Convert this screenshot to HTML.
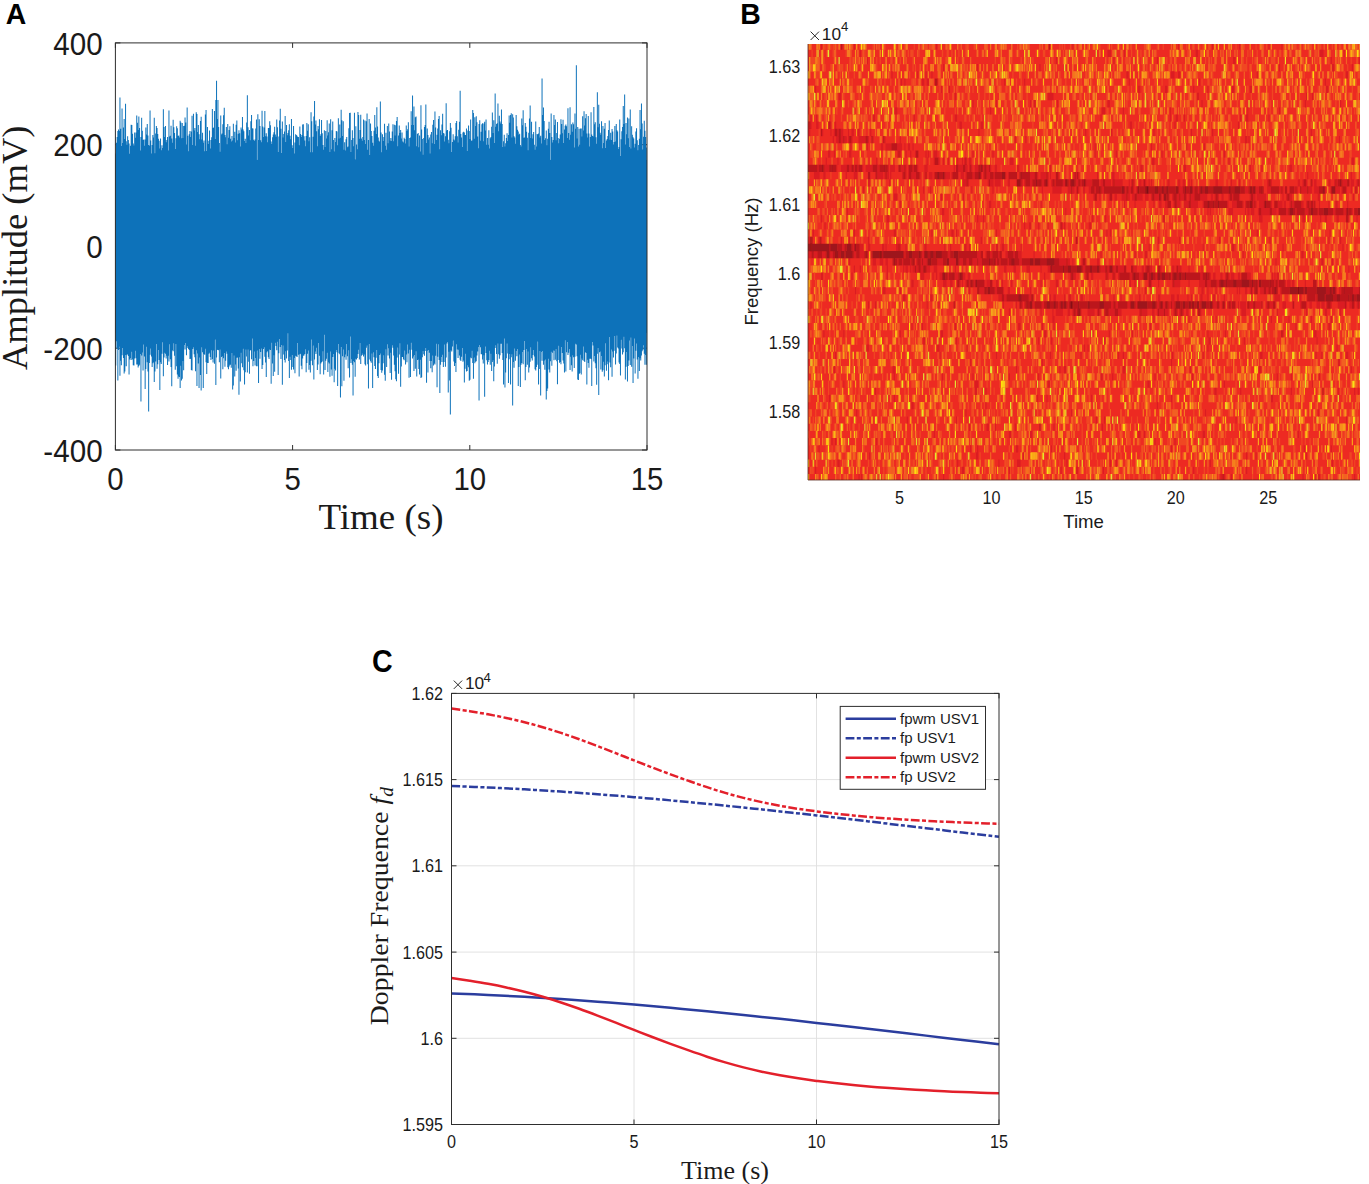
<!DOCTYPE html><html><head><meta charset="utf-8"><title>Figure</title>
<style>html,body{margin:0;padding:0;background:#fff}body{width:1369px;height:1184px;overflow:hidden}svg{display:block}text{font-family:"Liberation Sans",sans-serif;fill:#1a1a1a}.se{font-family:"Liberation Serif",serif}.b{font-weight:bold;fill:#000}</style></head><body>
<svg width="1369" height="1184" viewBox="0 0 1369 1184">
<rect width="1369" height="1184" fill="#fff"/>
<g id="pA">
<text class="b" transform="translate(5.8 24) scale(1 1.07)" font-size="28.4">A</text>
<path d="M115.4 450.0v-5M115.4 42.9v5M292.6 450.0v-5M292.6 42.9v5M469.8 450.0v-5M469.8 42.9v5M647.0 450.0v-5M647.0 42.9v5M115.4 42.9h5M647.0 42.9h-5M115.4 144.7h5M647.0 144.7h-5M115.4 246.5h5M647.0 246.5h-5M115.4 348.2h5M647.0 348.2h-5M115.4 450.0h5M647.0 450.0h-5" stroke="#2e2e2e" stroke-width="1" fill="none"/>
<rect x="115.4" y="159.9" width="531.6" height="173.0" fill="#0d72ba"/>
<path d="M115.25 153.5h1V365.6h-1zM115.95 142.8h1V341.2h-1zM116.65 137.0h1V348.3h-1zM117.35 131.1h1V380.6h-1zM118.05 129.4h1V349.9h-1zM118.75 131.0h1V346.8h-1zM119.45 97.6h1V375.7h-1zM120.15 128.7h1V360.8h-1zM120.85 146.0h1V365.2h-1zM121.55 108.6h1V355.3h-1zM122.25 143.0h1V348.0h-1zM122.95 127.6h1V358.1h-1zM123.65 118.9h1V373.6h-1zM124.35 139.1h1V371.5h-1zM125.05 103.7h1V355.0h-1zM125.75 141.2h1V366.2h-1zM126.45 144.8h1V354.7h-1zM127.15 136.3h1V354.3h-1zM127.85 139.9h1V355.9h-1zM128.55 143.4h1V374.5h-1zM129.25 153.8h1V359.6h-1zM129.95 145.7h1V358.0h-1zM130.65 124.8h1V360.1h-1zM131.35 125.1h1V351.7h-1zM132.05 133.8h1V359.6h-1zM132.75 143.5h1V365.2h-1zM133.45 145.4h1V365.5h-1zM134.15 132.4h1V358.4h-1zM134.85 137.7h1V350.7h-1zM135.55 132.6h1V358.3h-1zM136.25 115.4h1V364.6h-1zM136.95 122.8h1V364.6h-1zM137.65 130.0h1V367.4h-1zM138.35 116.4h1V366.1h-1zM139.05 128.0h1V364.7h-1zM139.75 150.4h1V354.1h-1zM140.45 137.1h1V401.6h-1zM141.15 117.8h1V355.4h-1zM141.85 130.7h1V352.6h-1zM142.55 140.0h1V370.6h-1zM143.25 139.6h1V344.6h-1zM143.95 145.8h1V356.4h-1zM144.65 139.6h1V389.0h-1zM145.35 127.4h1V369.0h-1zM146.05 134.4h1V346.8h-1zM146.75 124.1h1V362.2h-1zM147.45 135.6h1V371.5h-1zM148.15 145.0h1V411.4h-1zM148.85 145.8h1V363.1h-1zM149.55 110.6h1V354.8h-1zM150.25 140.4h1V348.6h-1zM150.95 153.6h1V356.5h-1zM151.65 144.9h1V367.1h-1zM152.35 135.1h1V363.2h-1zM153.05 137.6h1V362.2h-1zM153.75 117.7h1V382.0h-1zM154.45 153.2h1V371.4h-1zM155.15 133.6h1V361.5h-1zM155.85 126.0h1V343.9h-1zM156.55 128.0h1V368.7h-1zM157.25 133.9h1V364.3h-1zM157.95 138.7h1V350.1h-1zM158.65 140.8h1V360.1h-1zM159.35 148.6h1V390.0h-1zM160.05 138.4h1V362.3h-1zM160.75 150.2h1V364.1h-1zM161.45 145.3h1V353.8h-1zM162.15 148.1h1V342.2h-1zM162.85 109.2h1V376.2h-1zM163.55 127.0h1V357.6h-1zM164.25 136.9h1V352.7h-1zM164.95 125.9h1V353.8h-1zM165.65 142.3h1V358.4h-1zM166.35 139.9h1V355.8h-1zM167.05 137.0h1V365.0h-1zM167.75 150.6h1V355.8h-1zM168.45 110.4h1V361.5h-1zM169.15 136.6h1V344.2h-1zM169.85 135.8h1V359.3h-1zM170.55 125.8h1V367.1h-1zM171.25 138.4h1V386.3h-1zM171.95 142.8h1V350.3h-1zM172.65 119.8h1V351.3h-1zM173.35 127.3h1V343.2h-1zM174.05 133.0h1V355.8h-1zM174.75 149.1h1V369.7h-1zM175.45 138.3h1V343.9h-1zM176.15 126.2h1V366.2h-1zM176.85 128.3h1V374.6h-1zM177.55 136.0h1V378.7h-1zM178.25 135.4h1V376.4h-1zM178.95 137.6h1V377.1h-1zM179.65 120.8h1V387.9h-1zM180.35 122.5h1V365.7h-1zM181.05 138.3h1V380.4h-1zM181.75 123.1h1V378.8h-1zM182.45 138.1h1V360.9h-1zM183.15 126.0h1V370.2h-1zM183.85 125.8h1V345.1h-1zM184.55 117.5h1V349.6h-1zM185.25 122.5h1V343.1h-1zM185.95 144.5h1V355.3h-1zM186.65 107.4h1V346.3h-1zM187.35 135.7h1V348.0h-1zM188.05 151.3h1V348.9h-1zM188.75 134.3h1V350.1h-1zM189.45 130.9h1V359.1h-1zM190.15 136.9h1V358.7h-1zM190.85 131.4h1V370.0h-1zM191.55 115.8h1V370.4h-1zM192.25 145.1h1V349.1h-1zM192.95 113.7h1V347.2h-1zM193.65 130.5h1V354.3h-1zM194.35 128.0h1V357.2h-1zM195.05 145.8h1V371.2h-1zM195.75 112.2h1V350.3h-1zM196.45 114.1h1V385.9h-1zM197.15 132.0h1V353.4h-1zM197.85 125.0h1V363.5h-1zM198.55 134.2h1V388.0h-1zM199.25 139.2h1V357.4h-1zM199.95 121.0h1V375.0h-1zM200.65 116.7h1V390.6h-1zM201.35 139.6h1V347.3h-1zM202.05 132.7h1V352.3h-1zM202.75 142.7h1V388.1h-1zM203.45 140.4h1V353.9h-1zM204.15 151.2h1V354.7h-1zM204.85 114.4h1V348.8h-1zM205.55 109.9h1V362.2h-1zM206.25 151.1h1V373.9h-1zM206.95 127.0h1V363.0h-1zM207.65 143.9h1V363.0h-1zM208.35 140.8h1V353.7h-1zM209.05 130.6h1V352.8h-1zM209.75 148.5h1V357.0h-1zM210.45 139.9h1V359.9h-1zM211.15 137.3h1V350.2h-1zM211.85 109.1h1V359.1h-1zM212.55 128.0h1V362.6h-1zM213.25 127.4h1V350.4h-1zM213.95 111.1h1V363.7h-1zM214.65 138.9h1V339.6h-1zM215.35 100.1h1V384.9h-1zM216.05 80.7h1V357.5h-1zM216.75 118.9h1V349.7h-1zM217.45 100.0h1V349.9h-1zM218.15 126.9h1V350.2h-1zM218.85 143.1h1V362.2h-1zM219.55 151.8h1V349.4h-1zM220.25 115.6h1V378.5h-1zM220.95 134.5h1V356.9h-1zM221.65 133.6h1V356.2h-1zM222.35 124.2h1V369.2h-1zM223.05 115.2h1V358.3h-1zM223.75 107.7h1V353.1h-1zM224.45 134.9h1V366.8h-1zM225.15 137.3h1V360.8h-1zM225.85 127.0h1V351.5h-1zM226.55 144.2h1V353.7h-1zM227.25 123.9h1V367.2h-1zM227.95 137.7h1V369.2h-1zM228.65 129.9h1V366.5h-1zM229.35 126.2h1V364.8h-1zM230.05 138.7h1V364.7h-1zM230.75 141.5h1V367.7h-1zM231.45 135.9h1V352.9h-1zM232.15 140.4h1V389.4h-1zM232.85 123.7h1V385.4h-1zM233.55 137.9h1V355.6h-1zM234.25 131.8h1V376.4h-1zM234.95 142.6h1V364.4h-1zM235.65 124.8h1V370.7h-1zM236.35 120.5h1V357.8h-1zM237.05 140.3h1V357.6h-1zM237.75 133.7h1V368.6h-1zM238.45 130.2h1V394.7h-1zM239.15 133.2h1V357.3h-1zM239.85 146.5h1V381.4h-1zM240.55 127.5h1V352.8h-1zM241.25 129.4h1V363.2h-1zM241.95 117.0h1V367.3h-1zM242.65 129.6h1V348.7h-1zM243.35 131.3h1V370.2h-1zM244.05 141.1h1V384.4h-1zM244.75 138.8h1V372.2h-1zM245.45 142.9h1V349.5h-1zM246.15 122.4h1V356.6h-1zM246.85 95.2h1V372.5h-1zM247.55 127.2h1V349.4h-1zM248.25 135.4h1V361.7h-1zM248.95 129.9h1V373.7h-1zM249.65 140.2h1V350.4h-1zM250.35 121.2h1V350.0h-1zM251.05 115.1h1V359.3h-1zM251.75 128.3h1V338.5h-1zM252.45 128.4h1V366.3h-1zM253.15 139.8h1V361.1h-1zM253.85 141.1h1V351.6h-1zM254.55 139.4h1V365.5h-1zM255.25 128.5h1V357.9h-1zM255.95 119.6h1V366.3h-1zM256.65 160.0h1V350.5h-1zM257.35 114.3h1V366.3h-1zM258.05 140.0h1V383.0h-1zM258.75 119.3h1V348.9h-1zM259.45 126.1h1V358.7h-1zM260.15 140.2h1V352.0h-1zM260.85 142.2h1V348.4h-1zM261.55 110.8h1V369.0h-1zM262.25 126.6h1V365.0h-1zM262.95 137.0h1V349.1h-1zM263.65 127.5h1V347.3h-1zM264.35 111.1h1V356.7h-1zM265.05 136.3h1V362.6h-1zM265.75 133.2h1V376.9h-1zM266.45 136.4h1V352.3h-1zM267.15 142.3h1V351.1h-1zM267.85 127.9h1V357.3h-1zM268.55 128.1h1V359.1h-1zM269.25 121.3h1V349.5h-1zM269.95 125.2h1V350.0h-1zM270.65 141.6h1V383.7h-1zM271.35 144.1h1V342.8h-1zM272.05 137.3h1V363.4h-1zM272.75 134.5h1V375.9h-1zM273.45 132.2h1V355.3h-1zM274.15 126.7h1V371.7h-1zM274.85 134.5h1V342.7h-1zM275.55 136.8h1V345.9h-1zM276.25 119.5h1V350.2h-1zM276.95 127.2h1V341.7h-1zM277.65 151.9h1V374.9h-1zM278.35 136.6h1V353.3h-1zM279.05 120.5h1V338.9h-1zM279.75 108.8h1V347.1h-1zM280.45 128.8h1V359.1h-1zM281.15 153.0h1V345.1h-1zM281.85 121.5h1V384.8h-1zM282.55 137.4h1V345.4h-1zM283.25 133.9h1V354.6h-1zM283.95 131.5h1V359.9h-1zM284.65 115.9h1V362.6h-1zM285.35 142.1h1V351.2h-1zM286.05 125.0h1V358.6h-1zM286.75 135.2h1V350.5h-1zM287.45 133.0h1V333.3h-1zM288.15 130.3h1V360.9h-1zM288.85 124.2h1V377.9h-1zM289.55 135.7h1V356.7h-1zM290.25 139.2h1V360.0h-1zM290.95 119.0h1V369.8h-1zM291.65 145.3h1V354.9h-1zM292.35 148.0h1V366.9h-1zM293.05 125.9h1V369.6h-1zM293.75 153.6h1V358.0h-1zM294.45 142.6h1V373.2h-1zM295.15 134.2h1V355.8h-1zM295.85 135.0h1V356.2h-1zM296.55 135.8h1V357.0h-1zM297.25 136.9h1V342.9h-1zM297.95 136.9h1V354.8h-1zM298.65 145.3h1V376.4h-1zM299.35 126.6h1V354.2h-1zM300.05 134.1h1V353.8h-1zM300.75 137.1h1V365.8h-1zM301.45 135.1h1V369.3h-1zM302.15 124.4h1V358.5h-1zM302.85 124.3h1V355.8h-1zM303.55 136.3h1V355.5h-1zM304.25 140.4h1V353.9h-1zM304.95 146.3h1V349.2h-1zM305.65 136.1h1V372.3h-1zM306.35 123.0h1V362.9h-1zM307.05 130.7h1V353.8h-1zM307.75 124.2h1V350.6h-1zM308.45 141.3h1V369.7h-1zM309.15 137.2h1V365.0h-1zM309.85 152.3h1V372.6h-1zM310.55 112.2h1V360.7h-1zM311.25 121.3h1V339.4h-1zM311.95 152.2h1V365.2h-1zM312.65 136.8h1V345.5h-1zM313.35 116.5h1V379.5h-1zM314.05 101.1h1V359.5h-1zM314.75 124.4h1V351.4h-1zM315.45 120.6h1V353.9h-1zM316.15 131.2h1V347.8h-1zM316.85 146.2h1V370.0h-1zM317.55 126.1h1V364.5h-1zM318.25 129.3h1V342.9h-1zM318.95 119.3h1V355.8h-1zM319.65 136.0h1V374.2h-1zM320.35 134.2h1V363.6h-1zM321.05 119.9h1V362.3h-1zM321.75 133.3h1V361.5h-1zM322.45 145.0h1V351.3h-1zM323.15 149.7h1V374.4h-1zM323.85 130.2h1V334.7h-1zM324.55 146.9h1V369.9h-1zM325.25 130.9h1V360.8h-1zM325.95 138.6h1V358.7h-1zM326.65 120.3h1V352.7h-1zM327.35 135.6h1V372.0h-1zM328.05 132.3h1V362.3h-1zM328.75 123.4h1V363.5h-1zM329.45 152.0h1V376.7h-1zM330.15 119.2h1V351.6h-1zM330.85 149.2h1V369.4h-1zM331.55 130.2h1V375.8h-1zM332.25 121.4h1V357.1h-1zM332.95 140.0h1V354.1h-1zM333.65 151.5h1V382.3h-1zM334.35 138.1h1V368.8h-1zM335.05 142.0h1V370.6h-1zM335.75 131.0h1V350.1h-1zM336.45 131.4h1V352.2h-1zM337.15 145.3h1V386.0h-1zM337.85 118.3h1V343.9h-1zM338.55 138.5h1V353.2h-1zM339.25 124.4h1V354.2h-1zM339.95 137.8h1V397.5h-1zM340.65 109.8h1V346.9h-1zM341.35 120.3h1V386.3h-1zM342.05 136.1h1V356.3h-1zM342.75 121.2h1V349.6h-1zM343.45 149.8h1V380.8h-1zM344.15 142.3h1V357.3h-1zM344.85 150.6h1V354.5h-1zM345.55 139.3h1V359.8h-1zM346.25 137.1h1V344.1h-1zM346.95 147.3h1V356.2h-1zM347.65 146.4h1V368.3h-1zM348.35 128.2h1V350.2h-1zM349.05 112.9h1V377.6h-1zM349.75 112.7h1V336.6h-1zM350.45 151.9h1V363.0h-1zM351.15 140.0h1V359.3h-1zM351.85 130.2h1V364.7h-1zM352.55 138.0h1V395.5h-1zM353.25 146.2h1V361.1h-1zM353.95 112.7h1V362.2h-1zM354.65 159.5h1V376.8h-1zM355.35 126.2h1V358.7h-1zM356.05 144.5h1V359.5h-1zM356.75 149.3h1V357.9h-1zM357.45 111.9h1V354.0h-1zM358.15 115.0h1V349.8h-1zM358.85 138.7h1V359.4h-1zM359.55 129.9h1V343.1h-1zM360.25 114.8h1V363.9h-1zM360.95 138.4h1V355.8h-1zM361.65 140.7h1V355.1h-1zM362.35 136.9h1V353.4h-1zM363.05 119.6h1V356.6h-1zM363.75 140.0h1V354.5h-1zM364.45 120.4h1V364.2h-1zM365.15 144.1h1V365.5h-1zM365.85 121.3h1V347.8h-1zM366.55 113.6h1V345.6h-1zM367.25 149.7h1V364.2h-1zM367.95 139.9h1V388.4h-1zM368.65 119.1h1V344.1h-1zM369.35 155.0h1V359.5h-1zM370.05 123.4h1V361.2h-1zM370.75 130.9h1V362.7h-1zM371.45 136.0h1V353.4h-1zM372.15 142.7h1V388.0h-1zM372.85 145.7h1V352.3h-1zM373.55 130.8h1V357.2h-1zM374.25 115.1h1V366.0h-1zM374.95 127.6h1V369.0h-1zM375.65 134.0h1V357.8h-1zM376.35 107.2h1V350.1h-1zM377.05 126.4h1V375.9h-1zM377.75 137.6h1V377.9h-1zM378.45 140.7h1V363.2h-1zM379.15 141.7h1V354.9h-1zM379.85 101.4h1V353.5h-1zM380.55 132.4h1V370.0h-1zM381.25 152.3h1V372.8h-1zM381.95 134.2h1V370.6h-1zM382.65 140.9h1V363.2h-1zM383.35 136.9h1V355.2h-1zM384.05 123.8h1V374.7h-1zM384.75 145.8h1V380.8h-1zM385.45 132.7h1V349.2h-1zM386.15 149.8h1V366.9h-1zM386.85 125.9h1V344.3h-1zM387.55 143.2h1V355.4h-1zM388.25 123.6h1V348.3h-1zM388.95 131.6h1V358.6h-1zM389.65 140.7h1V373.1h-1zM390.35 138.0h1V352.7h-1zM391.05 141.1h1V379.8h-1zM391.75 131.6h1V345.2h-1zM392.45 124.2h1V347.7h-1zM393.15 141.3h1V355.5h-1zM393.85 124.8h1V364.8h-1zM394.55 135.5h1V371.3h-1zM395.25 125.3h1V379.2h-1zM395.95 121.0h1V381.2h-1zM396.65 116.9h1V357.4h-1zM397.35 146.2h1V347.4h-1zM398.05 135.5h1V373.8h-1zM398.75 125.5h1V354.6h-1zM399.45 133.1h1V343.3h-1zM400.15 130.0h1V386.7h-1zM400.85 138.4h1V366.4h-1zM401.55 132.6h1V356.9h-1zM402.25 141.4h1V357.0h-1zM402.95 142.5h1V359.2h-1zM403.65 137.7h1V360.3h-1zM404.35 139.0h1V350.4h-1zM405.05 143.4h1V364.4h-1zM405.75 125.5h1V354.6h-1zM406.45 130.9h1V362.3h-1zM407.15 129.3h1V344.4h-1zM407.85 122.3h1V353.5h-1zM408.55 146.4h1V377.7h-1zM409.25 138.0h1V349.8h-1zM409.95 137.4h1V377.1h-1zM410.65 111.3h1V342.7h-1zM411.35 125.1h1V349.8h-1zM412.05 95.5h1V358.4h-1zM412.75 124.9h1V356.4h-1zM413.45 106.4h1V370.9h-1zM414.15 130.3h1V354.9h-1zM414.85 117.3h1V368.8h-1zM415.55 116.6h1V351.2h-1zM416.25 146.3h1V376.5h-1zM416.95 134.1h1V360.1h-1zM417.65 133.0h1V359.6h-1zM418.35 147.3h1V369.0h-1zM419.05 135.4h1V374.5h-1zM419.75 151.6h1V359.7h-1zM420.45 105.2h1V378.1h-1zM421.15 129.6h1V377.2h-1zM421.85 139.1h1V357.3h-1zM422.55 154.8h1V351.1h-1zM423.25 137.9h1V354.2h-1zM423.95 127.0h1V355.7h-1zM424.65 124.9h1V351.1h-1zM425.35 104.6h1V348.1h-1zM426.05 142.9h1V382.8h-1zM426.75 128.5h1V350.8h-1zM427.45 135.0h1V372.6h-1zM428.15 139.5h1V349.9h-1zM428.85 137.5h1V352.7h-1zM429.55 153.4h1V360.9h-1zM430.25 134.6h1V368.2h-1zM430.95 132.1h1V361.0h-1zM431.65 143.3h1V372.3h-1zM432.35 124.7h1V355.4h-1zM433.05 120.1h1V365.6h-1zM433.75 143.9h1V363.6h-1zM434.45 111.5h1V364.4h-1zM435.15 127.4h1V355.7h-1zM435.85 140.1h1V343.7h-1zM436.55 134.7h1V387.3h-1zM437.25 128.5h1V356.8h-1zM437.95 119.1h1V344.3h-1zM438.65 116.1h1V360.1h-1zM439.35 149.2h1V393.1h-1zM440.05 130.3h1V364.7h-1zM440.75 135.3h1V357.1h-1zM441.45 124.4h1V361.9h-1zM442.15 113.7h1V354.7h-1zM442.85 133.1h1V367.0h-1zM443.55 133.4h1V362.0h-1zM444.25 141.6h1V344.5h-1zM444.95 136.3h1V366.7h-1zM445.65 103.3h1V357.5h-1zM446.35 130.6h1V343.4h-1zM447.05 130.1h1V342.1h-1zM447.75 139.8h1V392.5h-1zM448.45 143.2h1V351.7h-1zM449.15 131.2h1V380.6h-1zM449.85 123.1h1V414.5h-1zM450.55 127.7h1V350.3h-1zM451.25 151.9h1V351.6h-1zM451.95 142.0h1V346.5h-1zM452.65 134.2h1V340.4h-1zM453.35 139.4h1V361.6h-1zM454.05 140.5h1V365.9h-1zM454.75 136.3h1V363.0h-1zM455.45 122.9h1V372.0h-1zM456.15 121.0h1V344.2h-1zM456.85 136.3h1V349.5h-1zM457.55 142.5h1V357.9h-1zM458.25 129.7h1V349.8h-1zM458.95 121.8h1V355.5h-1zM459.65 90.7h1V359.7h-1zM460.35 133.9h1V361.1h-1zM461.05 137.6h1V356.8h-1zM461.75 146.9h1V348.1h-1zM462.45 132.4h1V361.7h-1zM463.15 131.7h1V360.4h-1zM463.85 132.5h1V382.6h-1zM464.55 134.9h1V368.8h-1zM465.25 135.1h1V353.7h-1zM465.95 128.6h1V371.6h-1zM466.65 151.1h1V371.1h-1zM467.35 130.4h1V365.2h-1zM468.05 125.6h1V367.2h-1zM468.75 130.9h1V380.7h-1zM469.45 139.0h1V379.8h-1zM470.15 119.5h1V357.6h-1zM470.85 140.8h1V358.3h-1zM471.55 140.5h1V350.8h-1zM472.25 109.9h1V362.9h-1zM472.95 113.1h1V378.7h-1zM473.65 138.8h1V357.4h-1zM474.35 117.3h1V363.2h-1zM475.05 126.0h1V361.8h-1zM475.75 116.3h1V361.3h-1zM476.45 122.3h1V355.5h-1zM477.15 136.5h1V351.6h-1zM477.85 148.3h1V347.1h-1zM478.55 124.1h1V400.5h-1zM479.25 120.3h1V345.0h-1zM479.95 140.8h1V347.3h-1zM480.65 131.8h1V354.3h-1zM481.35 124.2h1V354.2h-1zM482.05 123.2h1V359.6h-1zM482.75 141.3h1V363.4h-1zM483.45 123.5h1V355.3h-1zM484.15 121.7h1V396.8h-1zM484.85 130.6h1V346.5h-1zM485.55 119.6h1V353.0h-1zM486.25 144.8h1V360.2h-1zM486.95 138.0h1V364.4h-1zM487.65 144.7h1V361.9h-1zM488.35 130.2h1V360.0h-1zM489.05 148.5h1V350.7h-1zM489.75 138.2h1V364.7h-1zM490.45 137.0h1V353.8h-1zM491.15 126.7h1V371.0h-1zM491.85 112.4h1V362.1h-1zM492.55 133.1h1V360.3h-1zM493.25 120.3h1V381.3h-1zM493.95 143.1h1V366.6h-1zM494.65 93.5h1V348.0h-1zM495.35 126.7h1V345.2h-1zM496.05 123.9h1V353.9h-1zM496.75 123.2h1V363.7h-1zM497.45 103.4h1V343.4h-1zM498.15 131.2h1V354.3h-1zM498.85 115.7h1V358.7h-1zM499.55 121.5h1V355.2h-1zM500.25 123.6h1V343.8h-1zM500.95 109.6h1V343.7h-1zM501.65 123.9h1V352.9h-1zM502.35 146.9h1V359.9h-1zM503.05 141.3h1V384.5h-1zM503.75 134.7h1V338.5h-1zM504.45 146.6h1V387.4h-1zM505.15 143.3h1V372.4h-1zM505.85 137.9h1V358.3h-1zM506.55 133.3h1V343.6h-1zM507.25 140.9h1V353.5h-1zM507.95 135.1h1V382.9h-1zM508.65 115.5h1V359.3h-1zM509.35 122.8h1V354.1h-1zM510.05 115.1h1V384.5h-1zM510.75 113.2h1V357.2h-1zM511.45 137.5h1V354.3h-1zM512.15 114.2h1V405.6h-1zM512.85 117.6h1V361.9h-1zM513.55 136.2h1V367.7h-1zM514.25 137.5h1V348.4h-1zM514.95 143.7h1V360.7h-1zM515.65 115.0h1V351.0h-1zM516.35 126.3h1V356.3h-1zM517.05 129.7h1V349.0h-1zM517.75 131.5h1V385.9h-1zM518.45 134.7h1V367.1h-1zM519.15 133.8h1V354.6h-1zM519.85 145.0h1V387.1h-1zM520.55 146.6h1V364.8h-1zM521.25 118.5h1V362.9h-1zM521.95 125.2h1V352.0h-1zM522.65 110.3h1V364.3h-1zM523.35 137.7h1V350.0h-1zM524.05 137.5h1V341.1h-1zM524.75 122.9h1V380.3h-1zM525.45 126.7h1V366.9h-1zM526.15 131.8h1V349.0h-1zM526.85 137.7h1V364.7h-1zM527.55 150.2h1V351.5h-1zM528.25 132.7h1V372.5h-1zM528.95 118.6h1V367.6h-1zM529.65 105.5h1V361.8h-1zM530.35 138.1h1V347.2h-1zM531.05 121.8h1V358.3h-1zM531.75 138.6h1V360.5h-1zM532.45 134.2h1V355.1h-1zM533.15 131.9h1V349.9h-1zM533.85 144.7h1V356.4h-1zM534.55 149.8h1V369.3h-1zM535.25 121.5h1V370.5h-1zM535.95 146.5h1V367.0h-1zM536.65 133.9h1V364.7h-1zM537.35 134.4h1V341.6h-1zM538.05 133.4h1V384.4h-1zM538.75 127.0h1V369.0h-1zM539.45 137.4h1V351.1h-1zM540.15 135.8h1V395.5h-1zM540.85 143.4h1V352.1h-1zM541.55 78.5h1V360.7h-1zM542.25 114.9h1V351.0h-1zM542.95 107.4h1V364.7h-1zM543.65 121.0h1V360.5h-1zM544.35 140.0h1V369.8h-1zM545.05 138.2h1V359.5h-1zM545.75 130.6h1V399.4h-1zM546.45 145.2h1V391.0h-1zM547.15 138.8h1V388.4h-1zM547.85 128.8h1V358.7h-1zM548.55 121.8h1V369.6h-1zM549.25 132.9h1V372.6h-1zM549.95 165.1h1V361.3h-1zM550.65 113.5h1V351.7h-1zM551.35 137.1h1V365.8h-1zM552.05 142.4h1V352.8h-1zM552.75 140.1h1V350.4h-1zM553.45 115.1h1V360.3h-1zM554.15 125.0h1V350.7h-1zM554.85 119.5h1V359.8h-1zM555.55 140.3h1V349.1h-1zM556.25 133.1h1V361.2h-1zM556.95 121.9h1V384.3h-1zM557.65 138.0h1V360.1h-1zM558.35 143.2h1V345.7h-1zM559.05 138.7h1V362.7h-1zM559.75 134.4h1V362.0h-1zM560.45 119.2h1V364.3h-1zM561.15 124.1h1V347.0h-1zM561.85 133.2h1V353.0h-1zM562.55 119.8h1V360.6h-1zM563.25 143.1h1V363.5h-1zM563.95 129.6h1V372.6h-1zM564.65 125.7h1V340.3h-1zM565.35 124.6h1V371.4h-1zM566.05 126.3h1V352.3h-1zM566.75 138.1h1V342.1h-1zM567.45 108.2h1V355.1h-1zM568.15 133.0h1V352.8h-1zM568.85 139.7h1V348.9h-1zM569.55 107.2h1V370.1h-1zM570.25 134.8h1V356.8h-1zM570.95 124.2h1V365.3h-1zM571.65 131.7h1V371.5h-1zM572.35 122.6h1V355.2h-1zM573.05 124.3h1V357.3h-1zM573.75 147.6h1V368.0h-1zM574.45 113.4h1V356.7h-1zM575.15 128.8h1V343.8h-1zM575.85 65.2h1V344.5h-1zM576.55 138.5h1V356.3h-1zM577.25 126.9h1V379.5h-1zM577.95 146.4h1V380.1h-1zM578.65 128.7h1V374.1h-1zM579.35 144.7h1V373.0h-1zM580.05 128.5h1V354.7h-1zM580.75 128.6h1V374.6h-1zM581.45 136.6h1V358.4h-1zM582.15 116.3h1V360.3h-1zM582.85 130.5h1V346.4h-1zM583.55 111.3h1V361.0h-1zM584.25 125.6h1V361.9h-1zM584.95 118.2h1V352.1h-1zM585.65 114.1h1V353.1h-1zM586.35 133.6h1V384.5h-1zM587.05 137.5h1V359.7h-1zM587.75 115.9h1V363.0h-1zM588.45 133.5h1V367.8h-1zM589.15 146.4h1V358.7h-1zM589.85 136.9h1V358.5h-1zM590.55 112.3h1V359.1h-1zM591.25 134.6h1V386.1h-1zM591.95 136.0h1V342.1h-1zM592.65 136.5h1V345.5h-1zM593.35 106.9h1V361.6h-1zM594.05 124.2h1V356.1h-1zM594.75 122.2h1V363.3h-1zM595.45 137.2h1V368.2h-1zM596.15 143.8h1V384.7h-1zM596.85 92.3h1V353.8h-1zM597.55 127.2h1V347.9h-1zM598.25 104.8h1V395.1h-1zM598.95 123.8h1V352.2h-1zM599.65 132.8h1V351.5h-1zM600.35 134.8h1V369.5h-1zM601.05 121.3h1V356.0h-1zM601.75 148.2h1V371.8h-1zM602.45 126.1h1V370.2h-1zM603.15 142.9h1V361.8h-1zM603.85 128.7h1V376.4h-1zM604.55 123.0h1V365.2h-1zM605.25 148.0h1V343.2h-1zM605.95 140.5h1V370.8h-1zM606.65 138.9h1V364.3h-1zM607.35 136.0h1V361.5h-1zM608.05 129.9h1V380.3h-1zM608.75 120.5h1V336.9h-1zM609.45 139.8h1V362.6h-1zM610.15 132.7h1V367.2h-1zM610.85 139.9h1V349.5h-1zM611.55 129.1h1V376.8h-1zM612.25 131.5h1V351.4h-1zM612.95 144.5h1V357.5h-1zM613.65 142.1h1V350.7h-1zM614.35 126.0h1V335.9h-1zM615.05 141.6h1V364.5h-1zM615.75 123.9h1V353.4h-1zM616.45 130.3h1V335.5h-1zM617.15 131.5h1V347.5h-1zM617.85 149.0h1V348.5h-1zM618.55 147.0h1V362.5h-1zM619.25 119.4h1V364.0h-1zM619.95 156.1h1V375.6h-1zM620.65 139.3h1V339.7h-1zM621.35 131.2h1V348.4h-1zM622.05 126.9h1V354.4h-1zM622.75 106.1h1V352.3h-1zM623.45 124.1h1V336.8h-1zM624.15 94.6h1V348.3h-1zM624.85 144.4h1V379.4h-1zM625.55 123.1h1V366.7h-1zM626.25 134.2h1V351.9h-1zM626.95 117.6h1V381.5h-1zM627.65 138.3h1V366.0h-1zM628.35 118.4h1V360.5h-1zM629.05 147.0h1V340.4h-1zM629.75 109.4h1V364.9h-1zM630.45 148.4h1V337.6h-1zM631.15 126.2h1V366.8h-1zM631.85 134.7h1V346.0h-1zM632.55 137.2h1V383.1h-1zM633.25 138.4h1V358.5h-1zM633.95 147.5h1V338.5h-1zM634.65 143.7h1V373.6h-1zM635.35 131.4h1V350.8h-1zM636.05 128.2h1V343.4h-1zM636.75 140.2h1V359.4h-1zM637.45 150.2h1V378.8h-1zM638.15 144.9h1V356.9h-1zM638.85 138.8h1V371.0h-1zM639.55 109.9h1V358.2h-1zM640.25 129.2h1V360.6h-1zM640.95 103.6h1V355.6h-1zM641.65 123.4h1V351.3h-1zM642.35 149.5h1V349.8h-1zM643.05 136.7h1V345.2h-1zM643.75 120.7h1V353.7h-1zM644.45 130.8h1V364.8h-1zM645.15 136.9h1V355.1h-1zM645.85 147.4h1V364.8h-1z" fill="#0d72ba"/>
<rect x="115.4" y="42.9" width="531.6" height="407.1" fill="none" stroke="#2e2e2e" stroke-width="1"/>
<text transform="translate(102.6 54.6) scale(1 1.060)" font-size="29.6" text-anchor="end">400</text>
<text transform="translate(102.6 156.4) scale(1 1.060)" font-size="29.6" text-anchor="end">200</text>
<text transform="translate(102.6 258.2) scale(1 1.060)" font-size="29.6" text-anchor="end">0</text>
<text transform="translate(102.6 359.9) scale(1 1.060)" font-size="29.6" text-anchor="end">-200</text>
<text transform="translate(102.6 461.7) scale(1 1.060)" font-size="29.6" text-anchor="end">-400</text>
<text transform="translate(115.4 490.4) scale(1 1.070)" font-size="29.4" text-anchor="middle">0</text>
<text transform="translate(292.6 490.4) scale(1 1.070)" font-size="29.4" text-anchor="middle">5</text>
<text transform="translate(469.8 490.4) scale(1 1.070)" font-size="29.4" text-anchor="middle">10</text>
<text transform="translate(647.0 490.4) scale(1 1.070)" font-size="29.4" text-anchor="middle">15</text>
<text class="se" x="381" y="529" font-size="35.5" text-anchor="middle" textLength="125" lengthAdjust="spacingAndGlyphs">Time (s)</text>
<text class="se" transform="translate(27 247.8) rotate(-90)" font-size="35.5" text-anchor="middle" textLength="244.5" lengthAdjust="spacingAndGlyphs">Amplitude (mV)</text>
</g>
<g id="pB">
<text class="b" transform="translate(740.3 24) scale(1 1.07)" font-size="28.4">B</text>
<rect x="808.00" y="44.00" width="552.00" height="436.00" fill="rgb(237,44,36)"/>
<clipPath id="cb"><rect x="808.00" y="44.00" width="552.00" height="436.00"/></clipPath>
<filter id="bl" x="0" y="0" width="1" height="1"><feGaussianBlur stdDeviation="0.55 0.4"/></filter><g clip-path="url(#cb)"><g filter="url(#bl)"><rect x="805.00" y="41.00" width="558.00" height="442.00" fill="rgb(237,44,36)"/><g transform="translate(808.00 42.60) scale(1.17447 7.19000)" stroke-width="1.02" fill="none">
<path stroke="rgb(225,232,50)" d="M8 1.5h1m8 0h1m169 0h1m34 0h1m22 0h1m15 0h1m165 0h1m21 0h1M26 2.5h1m275 0h1M205 3.5h1m12 0h1m112 0h1M18 4.5h2m117 0h1m94 0h1m120 0h1M134 5.5h1m22 0h1m207 0h1M155 6.5h1m83 0h1m81 0h1M5 7.5h1m89 0h1m102 0h1m2 0h1m85 0h1m25 0h1m122 0h1M176 8.5h1m62 0h1m47 0h1m10 0h1m76 0h1M38 9.5h1m64 0h1m75 0h1m94 0h1M150 10.5h1m219 0h1M153 11.5h1m97 0h1m48 0h1M194 12.5h1m140 0h1m61 0h2m18 0h1M173 13.5h1m224 0h1M20 14.5h1m94 0h1m87 0h1M174 15.5h1m82 0h1m58 0h1m131 0h1M201 16.5h1M343 17.5h1M279 18.5h1m15 0h1M40 20.5h1m20 0h1m7 0h1m46 0h1m29 0h1M5 21.5h1m88 0h1m68 0h1m55 0h1M45 22.5h1M97 23.5h1M54 24.5h1m237 0h1m125 0h1M209 25.5h1m56 0h1M45 26.5h1m203 0h1M99 27.5h1m17 0h1m39 0h1m122 0h1M248 28.5h1m35 0h1m150 0h1M436 29.5h1M251 30.5h1M27 31.5h2m329 0h1m46 0h1M2 32.5h1m409 0h1M280 33.5h1M122 34.5h1m9 0h1m160 0h2M120 35.5h1M136 37.5h1m6 0h1m221 0h1m41 0h1M12 38.5h1m37 0h1m42 0h1m137 0h1m120 0h1M106 39.5h1m33 0h1m205 0h1m43 0h1M146 40.5h1m44 0h1m19 0h1m29 0h1m124 0h1M110 41.5h1m10 0h1m169 0h1m15 0h1M48 42.5h1m238 0h1m167 0h1M49 43.5h1m52 0h1m342 0h1M2 44.5h1m10 0h1M87 45.5h1m22 0h1m44 0h2m69 0h2m43 0h1m138 0h1M98 46.5h1m2 0h1m64 0h1m222 0h1m1 0h2m30 0h1m45 0h1M125 47.5h1m69 0h1m76 0h1m63 0h1m30 0h1m55 0h1m21 0h1M4 48.5h1m144 0h1m17 0h1m38 0h1m175 0h1M67 49.5h1m152 0h1m214 0h1m15 0h1M24 50.5h1m147 0h1m70 0h1m26 0h1m85 0h1m21 0h1M97 51.5h1m75 0h1m18 0h1m26 0h1m80 0h1M18 52.5h1m54 0h1m26 0h1m36 0h1m121 0h1m3 0h1m81 0h1m72 0h1m14 0h1M28 53.5h1m19 0h1m118 0h1m145 0h1m45 0h1M75 54.5h1M34 55.5h1m57 0h1m8 0h1m38 0h1m88 0h1m29 0h1m72 0h1m77 0h1M54 56.5h1m299 0h1M6 57.5h1m69 0h1m31 0h1m27 0h1m63 0h1m112 0h1m75 0h1m6 0h1M34 58.5h1M403 59.5h1M58 60.5h1m2 0h1m127 0h1m68 0h1m56 0h1m88 0h1"/>
<path stroke="rgb(235,230,38)" d="M277 2.5h1m7 0h1m43 0h1m76 0h1M122 3.5h1m4 0h1m129 0h1m43 0h1m52 0h1M60 4.5h1m104 0h1M143 5.5h1M13 6.5h1m12 0h1m33 0h1m22 0h1m180 0h1m86 0h1M243 7.5h1m98 0h1M29 8.5h1m33 0h1m214 0h1m117 0h1m17 0h1m51 0h1M72 9.5h1m221 0h1M66 10.5h1m5 0h1M331 11.5h1m66 0h1m31 0h1M210 13.5h1m169 0h1M48 14.5h1m230 0h1M226 15.5h1m102 0h1m7 0h1M122 16.5h1m44 0h1m221 0h1M339 17.5h1M101 19.5h1M50 20.5h1M41 21.5h1m5 0h1M85 23.5h1M38 24.5h1M55 25.5h1m56 0h1m327 0h1M376 26.5h1M293 27.5h2M278 30.5h1m153 0h2M232 32.5h1M200 34.5h1M249 35.5h1m126 0h1M378 37.5h1M314 38.5h1M357 39.5h1m2 0h1M222 40.5h1m72 0h1m89 0h1m24 0h1M337 41.5h1M160 42.5h1M26 43.5h1m256 0h1m48 0h1m80 0h1M39 45.5h1m210 0h1M203 46.5h1m34 0h1m137 0h1M80 47.5h1M252 48.5h1m29 0h1m3 0h1m92 0h1m14 0h1m9 0h1M86 50.5h1M213 51.5h1M39 52.5h1m18 0h1m91 0h1m20 0h1m27 0h1m265 0h1M118 53.5h1m306 0h1m23 0h1M322 54.5h1m126 0h1M147 55.5h1m56 0h1M72 56.5h1M4 58.5h1m10 0h1m85 0h1m13 0h1m117 0h1m46 0h1M88 59.5h1m21 0h1m282 0h1"/>
<path stroke="rgb(245,228,26)" d="M48 0.5h1m24 0h1m39 0h1M63 1.5h1m37 0h1m82 0h1m43 0h1M178 3.5h1m14 0h1M32 4.5h1m63 0h1m70 0h1m109 0h1M12 5.5h1m116 0h1m39 0h1m232 0h1m16 0h1m45 0h1M252 6.5h1m155 0h1m46 0h1M387 7.5h1m27 0h1M2 8.5h1m64 0h1m70 0h1m143 0h1m63 0h1M43 9.5h1m11 0h1m6 0h1m354 0h1M209 10.5h1M99 11.5h1m18 0h1m45 0h1m216 0h1M78 12.5h1M196 13.5h1m4 0h1m53 0h1m71 0h1m139 0h1M468 14.5h1M341 15.5h1M80 16.5h1m140 0h1m36 0h1m81 0h1m67 0h1m58 0h1M366 17.5h1m99 0h1M335 18.5h1M130 19.5h1M9 21.5h1m152 0h1m5 0h1M147 22.5h1M315 23.5h1M209 24.5h1m124 0h1m60 0h1M0 25.5h1m69 0h1m196 0h1m20 0h1M37 26.5h1m69 0h1m103 0h1m242 0h1M160 27.5h1m112 0h1m28 0h1m16 0h1M318 29.5h1m4 0h1m12 0h1m53 0h1M14 30.5h1m214 0h2m53 0h1m108 0h1m9 0h1M137 31.5h2m157 0h1m140 0h1M174 32.5h1m228 0h1m32 0h1M76 34.5h1m100 0h1m89 0h1m21 0h1m16 0h1m46 0h1M21 35.5h1m177 0h1m71 0h1M19 37.5h1m119 0h1m16 0h1m299 0h1M148 38.5h1m170 0h1m71 0h1M146 39.5h1m24 0h1m104 0h1M62 41.5h1m97 0h1m27 0h1m62 0h1m38 0h1M15 42.5h1m47 0h1m119 0h1m149 0h1m16 0h1m2 0h1m22 0h1m69 0h1M38 43.5h1m45 0h2M3 44.5h1m102 0h1m13 0h1m165 0h1M35 45.5h1m22 0h1m323 0h1M5 46.5h1m38 0h1m336 0h1M167 47.5h1m296 0h1M191 49.5h1M38 50.5h1m35 0h1m10 0h1M57 52.5h1m121 0h2m67 0h1M106 53.5h1m136 0h1m50 0h1m77 0h1m64 0h1M125 54.5h1m69 0h1m82 0h1M132 55.5h1m83 0h1m74 0h1m1 0h1M356 56.5h1m34 0h1M12 57.5h1m456 0h1M153 58.5h1m153 0h1m48 0h1m42 0h1M60 59.5h1m15 0h1m68 0h1m57 0h2m192 0h1M68 60.5h1m344 0h1"/>
<path stroke="rgb(254,223,16)" d="M45 0.5h1m33 0h1m41 0h1m121 0h1M70 1.5h1m81 0h1m42 0h1m55 0h1m85 0h1m54 0h1m65 0h1m3 0h1m4 0h2M121 2.5h1m243 0h1M39 3.5h1m202 0h1m38 0h1m53 0h1m49 0h1m64 0h1m16 0h1M66 4.5h1m72 0h1m20 0h1m145 0h1m123 0h1M47 5.5h1m99 0h1m26 0h1m82 0h1m199 0h1M14 6.5h1m165 0h1m5 0h1m171 0h2M8 7.5h1m258 0h1m33 0h1m54 0h1M163 8.5h1m19 0h1m83 0h1m11 0h1m67 0h1M136 9.5h1m22 0h1m5 0h1m43 0h1m34 0h1M60 10.5h1m10 0h1m35 0h1m108 0h1m70 0h1M47 11.5h1m23 0h1m16 0h1m118 0h1m89 0h1m39 0h1m61 0h1M65 12.5h1M144 13.5h1m9 0h1m1 0h1m25 0h1m41 0h1m9 0h1m46 0h1m9 0h1m145 0h1M32 14.5h1m7 0h1m267 0h1m106 0h1m34 0h1M61 15.5h1m51 0h1m16 0h2m49 0h1m226 0h1M71 16.5h1m377 0h1M315 17.5h1m25 0h1m46 0h1M339 18.5h1m119 0h1M76 19.5h1M70 20.5h1m22 0h1m81 0h1M40 21.5h1m67 0h1m96 0h1m231 0h1m18 0h1M48 22.5h1M54 23.5h1m86 0h1m38 0h1m62 0h1m34 0h1m32 0h1M279 24.5h1M77 25.5h1m22 0h1m255 0h1m18 0h1m62 0h1m26 0h1M261 26.5h1m46 0h1m138 0h1M74 27.5h1m43 0h1m247 0h1m22 0h1m38 0h1M139 28.5h1m2 0h1m69 0h1m67 0h1m12 0h1m6 0h1m160 0h2M260 29.5h1m117 0h1M26 30.5h1M11 31.5h1m117 0h1m19 0h1m213 0h1m87 0h1M94 32.5h1m339 0h1M56 33.5h1m12 0h1m9 0h1M83 34.5h1m24 0h1m72 0h1m53 0h1M2 35.5h1m15 0h1M32 36.5h1m48 0h1m31 0h1m2 0h1M162 37.5h1m243 0h1M68 38.5h1m1 0h1m91 0h1m8 0h1m227 0h1m32 0h1m2 0h1m16 0h1m15 0h1M86 39.5h1m181 0h1M245 40.5h1m52 0h1m7 0h1m122 0h1M38 41.5h1m75 0h1m20 0h1m50 0h1m180 0h1M152 42.5h1m32 0h1m119 0h1M30 43.5h1m99 0h1m334 0h1M197 44.5h1m117 0h1m5 0h1m52 0h1M77 45.5h1m302 0h2M83 46.5h1m67 0h1m74 0h1m217 0h1M12 47.5h1m47 0h1m103 0h2m63 0h1m97 0h1m4 0h1M164 48.5h1m1 0h1m51 0h1m80 0h1M100 49.5h1m50 0h1m38 0h1m27 0h1m49 0h1m4 0h1m160 0h1M23 50.5h1m94 0h1m68 0h1m137 0h1m102 0h1M118 51.5h1m1 0h1m106 0h1m20 0h1m115 0h1m53 0h1M121 52.5h1m62 0h1m168 0h1m17 0h1m92 0h1M8 53.5h1m259 0h1m12 0h1m118 0h1m7 0h1m47 0h1M7 54.5h1m229 0h1m69 0h1m70 0h1M4 55.5h1m10 0h1m147 0h1m28 0h1m27 0h1m41 0h1m4 0h1m20 0h1m11 0h1m112 0h1M17 56.5h1m108 0h1m93 0h1m165 0h1m1 0h1M43 57.5h1m21 0h1m124 0h1m1 0h1m31 0h1m2 0h1m47 0h1m35 0h1m26 0h1m46 0h1m36 0h1M141 58.5h1m68 0h1m55 0h1M77 59.5h1m13 0h1m1 0h1m21 0h1m145 0h1M14 60.5h1m291 0h1m77 0h1m45 0h1"/>
<path stroke="rgb(252,204,20)" d="M246 0.5h1m21 0h1m69 0h1m70 0h1m21 0h1m33 0h1M100 1.5h1m6 0h1m28 0h1m70 0h1m4 0h1m22 0h1m82 0h1m78 0h1M100 2.5h1m118 0h1m73 0h1m40 0h1m80 0h1M4 3.5h2m47 0h1m12 0h1m95 0h1m2 0h1m55 0h1m7 0h1m6 0h1m147 0h1m38 0h1m8 0h1M21 4.5h1m37 0h1m280 0h1M15 5.5h1m5 0h1m246 0h1m15 0h1m12 0h1m17 0h1m5 0h1m9 0h1M23 6.5h1m20 0h1m19 0h1m14 0h1m15 0h1m128 0h1m25 0h1m170 0h1M80 7.5h1m2 0h1m111 0h1m3 0h1m93 0h1m13 0h1M30 8.5h1m33 0h1m45 0h2m104 0h1m19 0h1m104 0h1m123 0h1M68 9.5h1m139 0h1M106 10.5h1m5 0h1m119 0h1m33 0h1m26 0h1m117 0h1M144 11.5h1m61 0h1m29 0h2m150 0h1M88 12.5h2m2 0h1m94 0h1m103 0h1m75 0h2m11 0h1m18 0h1m36 0h1m12 0h1M115 13.5h1m22 0h1m4 0h1m1 0h1m47 0h1m56 0h1m16 0h1m22 0h1m3 0h1m122 0h1M33 14.5h1m21 0h1m102 0h1m18 0h1m40 0h1m16 0h2m11 0h1m3 0h1m12 0h2m8 0h1m59 0h1M118 15.5h1m46 0h1m68 0h1m60 0h1m49 0h1m80 0h1M125 16.5h1m51 0h1m13 0h1m28 0h1m103 0h1m6 0h1m33 0h1M186 17.5h1m58 0h1m187 0h1m18 0h1m14 0h1M27 18.5h1m196 0h1m27 0h1m43 0h1m65 0h1m43 0h1M54 19.5h1m385 0h1M1 20.5h1m24 0h1m52 0h1m97 0h1M93 21.5h1m53 0h1m26 0h1m17 0h1M31 22.5h1m76 0h1m63 0h1m11 0h1m3 0h1m39 0h1m217 0h1M69 23.5h1m130 0h1m15 0h1m93 0h1M22 24.5h2m3 0h1m7 0h1m45 0h1m120 0h1m1 0h1m15 0h1m108 0h1m27 0h1m14 0h1m51 0h1M56 25.5h1m14 0h1m138 0h1m57 0h1m3 0h1m57 0h1m15 0h1m50 0h1m27 0h1M20 26.5h1m41 0h1m154 0h1m23 0h1m20 0h1m7 0h1m15 0h1m97 0h1m27 0h1m17 0h1m33 0h1M31 27.5h1m89 0h1m16 0h2m12 0h1m72 0h1m56 0h1m57 0h1M193 28.5h1m48 0h1m4 0h1m128 0h1m11 0h1M229 29.5h1m41 0h1m21 0h1m25 0h1m25 0h1m46 0h1m9 0h1m43 0h1M13 30.5h1m38 0h1m280 0h1m23 0h1m27 0h1m80 0h2M49 31.5h1m24 0h1m229 0h1m105 0h1M20 32.5h1m20 0h1m19 0h1m122 0h1m11 0h1m227 0h2m6 0h1M17 33.5h1m174 0h1M109 34.5h1m20 0h1m143 0h1M110 35.5h1m87 0h1m218 0h1M46 36.5h1m29 0h1m68 0h1M109 37.5h1m14 0h1m12 0h2m1 0h2m295 0h1M0 38.5h1m228 0h1m113 0h1m70 0h1m18 0h1M7 39.5h1m10 0h1m22 0h1m30 0h1m38 0h1m18 0h1m73 0h1m32 0h1m24 0h1m144 0h1m29 0h1m8 0h1M111 40.5h1m48 0h1m73 0h1m82 0h1m89 0h1m52 0h1M5 41.5h1m31 0h1m23 0h1m43 0h1m17 0h1m53 0h1m9 0h1m85 0h1m74 0h1M30 42.5h1m3 0h1m35 0h1m9 0h1m80 0h1m49 0h1m28 0h1m3 0h1m19 0h1M20 43.5h1m21 0h1m88 0h1m280 0h1m37 0h1M35 44.5h1m25 0h1m3 0h1m75 0h1m88 0h1m94 0h1M75 45.5h1m85 0h1m48 0h1m159 0h1m53 0h1m1 0h1m6 0h1M11 46.5h1m190 0h1m71 0h1m104 0h1M36 47.5h1m35 0h1m93 0h1m65 0h1m28 0h1m30 0h1m79 0h1m20 0h1m10 0h1m11 0h1M34 48.5h1m19 0h2m21 0h1m42 0h1m103 0h1m84 0h1m48 0h1m63 0h1m8 0h1m13 0h2M26 49.5h1m150 0h1m22 0h1m28 0h1m61 0h1m28 0h1M104 50.5h1m173 0h1m9 0h1m66 0h1m1 0h1m44 0h1M37 51.5h1m85 0h1m57 0h1m23 0h1m32 0h1m33 0h1m29 0h1m66 0h1m25 0h1M54 52.5h1m32 0h1m44 0h1m62 0h1m10 0h1m10 0h1m36 0h1m1 0h1m51 0h1m35 0h1m55 0h1M29 53.5h1m43 0h1m127 0h1m67 0h1m27 0h1m16 0h1m35 0h2m23 0h1m12 0h1m4 0h1m53 0h1m15 0h1M39 54.5h1m11 0h1m91 0h1m135 0h1m13 0h1m31 0h2m52 0h1M16 55.5h1m11 0h1m65 0h1m159 0h1m37 0h1m49 0h1M102 56.5h1m30 0h1m195 0h1m7 0h1m23 0h1m28 0h1m33 0h1m17 0h2M17 57.5h1m27 0h1m14 0h1m68 0h1m61 0h1m158 0h1m82 0h1M222 58.5h1m16 0h1m13 0h1m28 0h2m3 0h2m106 0h1m2 0h1m6 0h1m50 0h1M85 59.5h1m4 0h1m18 0h1m18 0h1m290 0h1m5 0h1m22 0h1M11 60.5h1m3 0h1m38 0h1m100 0h1m183 0h1m71 0h1"/>
<path stroke="rgb(251,185,23)" d="M47 0.5h1m15 0h1m143 0h1m138 0h1m2 0h1m4 0h1m94 0h1M73 1.5h1m29 0h1m57 0h1m149 0h1m2 0h1m30 0h1m107 0h2M53 2.5h1m21 0h1m44 0h1m178 0h1m1 0h1M46 3.5h1m7 0h2m7 0h1m34 0h1m18 0h1m5 0h1m2 0h1m13 0h1m31 0h1m4 0h1m12 0h1m15 0h1m59 0h1m32 0h1M0 4.5h1m10 0h1m49 0h1m17 0h1m122 0h2m43 0h1m4 0h1m65 0h1m18 0h1m39 0h1m85 0h1M14 5.5h1m33 0h1m124 0h1m26 0h1m27 0h1m17 0h1m32 0h1m91 0h1m27 0h1m8 0h1m7 0h1m13 0h1m14 0h1m5 0h1M2 6.5h1m1 0h1m14 0h1m47 0h1m86 0h1m53 0h1m18 0h1m37 0h1m13 0h1m42 0h1m96 0h1M0 7.5h1m19 0h1m48 0h2m87 0h1m62 0h1m95 0h1M16 8.5h2m36 0h1m3 0h1m12 0h1m55 0h1m29 0h1m64 0h1m21 0h1m58 0h1m85 0h1m48 0h1m19 0h1M2 9.5h2m11 0h1m85 0h1m9 0h1m84 0h1m35 0h1m1 0h2m7 0h1m18 0h1m71 0h1m5 0h1m45 0h1m18 0h1m41 0h1m5 0h1M114 10.5h1m66 0h1m23 0h1m4 0h1m30 0h1m10 0h1m81 0h1m117 0h1M12 11.5h1m3 0h1m14 0h1m4 0h1m25 0h1m87 0h1m46 0h1m51 0h1m89 0h1m32 0h1m58 0h1m20 0h1M74 12.5h1m32 0h1m11 0h1m16 0h1m40 0h1m50 0h1m43 0h2m110 0h2M128 13.5h1m2 0h1m14 0h1m8 0h1m15 0h1m33 0h1m41 0h1m81 0h1m27 0h1m21 0h1m16 0h1M41 14.5h1m5 0h1m51 0h1m2 0h1m8 0h1m4 0h1m13 0h1m5 0h1m64 0h1m57 0h1m7 0h1m87 0h1m69 0h1M11 15.5h1m32 0h1m27 0h1m76 0h1m77 0h1m24 0h1m35 0h1m4 0h1m15 0h1m2 0h1M153 16.5h1m65 0h1m3 0h1m12 0h1m110 0h1m33 0h1m2 0h1m29 0h1m9 0h1m3 0h1M204 17.5h1m9 0h1m20 0h1m91 0h1m3 0h1m26 0h1m10 0h1m2 0h1m78 0h1M283 18.5h1m2 0h1m19 0h1m64 0h1m3 0h1m17 0h1m8 0h1M16 19.5h1m54 0h1m14 0h1m38 0h1m312 0h1M2 20.5h2m6 0h1m48 0h2m10 0h1m17 0h1m17 0h1m83 0h1M4 21.5h1m84 0h2m20 0h1m17 0h1m37 0h1m224 0h1m26 0h1m37 0h1M46 22.5h2m15 0h1m109 0h1m55 0h1M29 23.5h1m38 0h1m37 0h1m92 0h1m46 0h1m21 0h1m53 0h1M88 24.5h1m51 0h1m22 0h1m33 0h1m9 0h1m20 0h1m21 0h1m11 0h1m32 0h1m73 0h1m58 0h1M120 25.5h1m12 0h1m217 0h1m12 0h1m53 0h1m20 0h1m26 0h1M36 26.5h1m9 0h1m12 0h1m49 0h1m20 0h1m23 0h1m2 0h1m21 0h1m30 0h1m22 0h1m112 0h1m88 0h1M86 27.5h1m25 0h1m2 0h1m6 0h1m5 0h1m4 0h1m68 0h1m12 0h1m3 0h1m61 0h1m41 0h1m15 0h1M144 28.5h1m31 0h1m25 0h1m6 0h1m142 0h1M52 29.5h1m154 0h1m35 0h1m51 0h1m37 0h1m57 0h1m24 0h1m7 0h1M5 30.5h2m243 0h1m107 0h1m30 0h1m17 0h1M14 31.5h1m10 0h1m90 0h2m274 0h1m53 0h2M1 32.5h1m28 0h1m3 0h1m27 0h1m30 0h1m63 0h1m23 0h1m35 0h1m15 0h1M1 33.5h1m17 0h1m41 0h1m4 0h1m1 0h1m109 0h1m8 0h1m5 0h1m41 0h1m1 0h1m21 0h1m12 0h1M119 34.5h1m81 0h1m71 0h1m28 0h1M70 35.5h1m15 0h1m27 0h1m16 0h1m2 0h1m69 0h1m45 0h1m12 0h2m7 0h1m106 0h1M21 36.5h1m53 0h1m66 0h1m3 0h1M24 37.5h1m47 0h1m84 0h1m1 0h1m13 0h1m11 0h1M11 38.5h1m19 0h2m42 0h1m52 0h1m71 0h1m91 0h1m29 0h1m56 0h1m58 0h1M32 39.5h1m77 0h1m100 0h1m94 0h1m36 0h1m35 0h1m38 0h1m8 0h1m21 0h1m8 0h1M7 40.5h1m44 0h1m5 0h1m15 0h2m23 0h1m81 0h1m17 0h1m251 0h1m14 0h2m1 0h1M122 41.5h1m56 0h1m18 0h1m55 0h1M16 42.5h1m2 0h1m15 0h1m59 0h1m47 0h1m45 0h1m98 0h2m54 0h1m40 0h1M35 43.5h1m156 0h1m24 0h1m55 0h1m52 0h1m22 0h1m32 0h1m47 0h1m8 0h1m16 0h1M21 44.5h1m53 0h1m26 0h1m12 0h1m12 0h1m125 0h1m30 0h1m13 0h1m30 0h1m80 0h1M4 45.5h1m28 0h1m133 0h1m160 0h1m16 0h1m69 0h1m28 0h1m7 0h1M33 46.5h1m54 0h1m2 0h1m71 0h1m13 0h1m6 0h1m54 0h1m43 0h1m7 0h1m95 0h1m2 0h1m33 0h1M54 47.5h1m12 0h2m16 0h1m112 0h1m28 0h1m9 0h1m22 0h1m49 0h1m40 0h1m111 0h1m1 0h1M73 48.5h1m2 0h1m15 0h1m107 0h1m13 0h1m36 0h1m29 0h1m40 0h1m11 0h1m62 0h1M20 49.5h1m15 0h1m53 0h1m29 0h1m20 0h1m88 0h1m13 0h1m35 0h1m22 0h1m11 0h1m44 0h1m41 0h1m58 0h1M44 50.5h1m51 0h1m67 0h1m48 0h1m6 0h1m18 0h1m92 0h1m46 0h1m47 0h1m13 0h1m8 0h1M35 51.5h1m62 0h1m119 0h1m76 0h1m21 0h1m29 0h1m18 0h1m40 0h1m15 0h1m7 0h1M17 52.5h1m15 0h1m38 0h1m4 0h1m80 0h1m39 0h1m19 0h1m136 0h1m42 0h1m42 0h1M83 53.5h1m21 0h1m65 0h2m40 0h1m75 0h1m14 0h1m36 0h1m41 0h1m10 0h2m49 0h2m8 0h1m4 0h1M22 54.5h1m13 0h1m51 0h1m77 0h1m48 0h1m83 0h1m94 0h1m29 0h1M17 55.5h1m81 0h1m19 0h1m15 0h1m31 0h1m29 0h1M79 56.5h1m21 0h1m8 0h1m63 0h1m28 0h1m23 0h1m24 0h1m87 0h1m93 0h1m5 0h1m24 0h1m1 0h1M18 57.5h1m81 0h1m65 0h1m14 0h1m11 0h1m5 0h1m37 0h1m23 0h1m8 0h1m55 0h1m82 0h1m22 0h1m21 0h1M0 58.5h1m42 0h1m11 0h1m21 0h1m16 0h1m2 0h1m100 0h1m24 0h1m71 0h1m34 0h1m17 0h1m34 0h1M13 59.5h1m9 0h1m4 0h1m6 0h1m11 0h1m30 0h1m13 0h1m50 0h2m16 0h1m43 0h1m7 0h1m12 0h2m5 0h1m38 0h1m144 0h1m14 0h1m12 0h2M0 60.5h1m65 0h1m3 0h1m24 0h1m26 0h1m11 0h1m65 0h1m44 0h1m1 0h1m6 0h1m48 0h1m3 0h1m54 0h1m35 0h1m34 0h1"/>
<path stroke="rgb(249,165,26)" d="M35 0.5h1m5 0h1m41 0h1m80 0h1m99 0h1m14 0h1m44 0h1m33 0h1m83 0h1m20 0h2M12 1.5h1m38 0h2m3 0h1m11 0h1m5 0h1m27 0h1m28 0h1m56 0h1m25 0h1m22 0h1m33 0h1m41 0h1m5 0h1m141 0h1M1 2.5h1m10 0h1m34 0h1m51 0h1m8 0h1m1 0h1m1 0h1m6 0h1m5 0h1m58 0h1m4 0h1m15 0h1m12 0h1m6 0h1m16 0h1m20 0h1m16 0h1m22 0h1m24 0h1m84 0h1m10 0h1m15 0h1M1 3.5h1m4 0h1m14 0h1m19 0h1m27 0h1m36 0h1m14 0h1m8 0h1m7 0h1m40 0h1m8 0h1m14 0h1m30 0h1m97 0h1m29 0h1m45 0h2m16 0h1m24 0h1m14 0h1m1 0h1M10 4.5h1m40 0h1m13 0h1m29 0h1m2 0h1m12 0h1m3 0h1m1 0h1m9 0h1m10 0h1m2 0h1m1 0h1m11 0h1m31 0h1m31 0h1m2 0h1m3 0h1m3 0h1m9 0h1m13 0h2m18 0h1m9 0h2m2 0h1m7 0h2m5 0h1m20 0h1m4 0h1m24 0h2m28 0h2m32 0h1m42 0h2M33 5.5h2m80 0h1m96 0h1m103 0h1m44 0h1m23 0h1m14 0h2m59 0h2m1 0h1M57 6.5h1m22 0h1m1 0h1m3 0h1m57 0h1m11 0h2m14 0h1m44 0h1m10 0h1m3 0h1m7 0h1m6 0h1m49 0h1m1 0h1m8 0h1m28 0h1m28 0h1m42 0h1M18 7.5h1m27 0h1m81 0h1m34 0h1m29 0h1m26 0h1m54 0h1m4 0h1m25 0h1m48 0h1m8 0h1m60 0h1m7 0h1m1 0h1m13 0h1m7 0h1m4 0h1M42 8.5h2m21 0h2m23 0h1m6 0h1m60 0h1m3 0h1m57 0h1m9 0h1m9 0h1m4 0h1m37 0h1m64 0h1m2 0h1m7 0h1m30 0h1m53 0h1M18 9.5h1m2 0h1m86 0h1m3 0h1m118 0h1m45 0h1m22 0h1m34 0h1m15 0h1m13 0h1m6 0h1m33 0h1m18 0h1m22 0h1M4 10.5h1m12 0h1m20 0h3m151 0h1m38 0h1m21 0h1m51 0h1m46 0h1m48 0h1m2 0h1m5 0h1m7 0h1m19 0h1m3 0h1m19 0h1m5 0h1M40 11.5h1m1 0h1m11 0h1m1 0h1m15 0h1m21 0h1m110 0h1m18 0h1m1 0h1m27 0h1m37 0h2m44 0h1m10 0h1m2 0h1m3 0h1m22 0h1m17 0h1m49 0h2m5 0h1m3 0h1M41 12.5h1m18 0h1m5 0h1m16 0h1m2 0h1m25 0h1m3 0h1m51 0h1m11 0h1m32 0h2m7 0h1m2 0h1m18 0h1m2 0h1m29 0h1m14 0h1m11 0h1m44 0h1m16 0h1m38 0h1m42 0h1M91 13.5h1m40 0h1m6 0h1m12 0h1m12 0h1m33 0h1m4 0h1m35 0h1m45 0h1m31 0h1m1 0h1m37 0h1m61 0h1m15 0h1m19 0h1m8 0h1M34 14.5h1m79 0h1m35 0h1m175 0h1m32 0h1m37 0h2m25 0h1m32 0h1m3 0h1M8 15.5h1m15 0h1m46 0h1m56 0h2m6 0h1m33 0h1m54 0h1m30 0h1m1 0h1m40 0h1m13 0h1m101 0h1M6 16.5h1m70 0h1m8 0h1m4 0h1m60 0h1m1 0h1m73 0h1m21 0h1m8 0h1m163 0h1M191 17.5h1m19 0h1m14 0h2m8 0h1m7 0h1m10 0h1m7 0h1m6 0h1m57 0h1m3 0h1M216 18.5h2m53 0h1m59 0h1m17 0h1m32 0h1m14 0h1M5 19.5h1m5 0h1m3 0h1m16 0h1m75 0h1m213 0h1M8 20.5h1m103 0h1m10 0h1m52 0h1m6 0h1M12 21.5h1m24 0h1m84 0h1m92 0h1m20 0h1m177 0h1M4 22.5h1m20 0h1m16 0h1m7 0h1m6 0h1m17 0h1m4 0h1m49 0h2m2 0h1m47 0h2m46 0h1m22 0h1m9 0h1m8 0h1m172 0h1M30 23.5h1m91 0h1m39 0h1m38 0h2m3 0h1m2 0h1m69 0h1m13 0h1m61 0h1M4 24.5h1m26 0h1m48 0h1m9 0h2m34 0h1m48 0h1m7 0h1m8 0h1m15 0h1m23 0h1m24 0h1m36 0h1m5 0h1m17 0h1m5 0h2m25 0h1m8 0h1m35 0h1m4 0h1m10 0h1m49 0h1M25 25.5h1m34 0h1m4 0h1m23 0h1m2 0h1m5 0h1m2 0h1m21 0h1m47 0h1m58 0h1m62 0h1m17 0h2m1 0h1m54 0h1m26 0h1m54 0h1M2 26.5h1m99 0h1m33 0h1m49 0h1m17 0h1m27 0h1m17 0h1m15 0h1m63 0h1m16 0h1m11 0h1m12 0h1m31 0h1m17 0h1m13 0h1m9 0h1M33 27.5h1m45 0h1m36 0h1m42 0h1m9 0h1m23 0h1m42 0h1m16 0h1m15 0h4m18 0h1m60 0h1m9 0h2m10 0h2m19 0h1m30 0h1M88 28.5h2m131 0h1m24 0h1m6 0h1m47 0h1m4 0h1m49 0h1m2 0h1m14 0h1m21 0h1m12 0h1m22 0h1M209 29.5h1m21 0h1m9 0h1m21 0h1m12 0h1m15 0h1m15 0h1m7 0h1m3 0h1m5 0h1m40 0h1m27 0h1m32 0h1m18 0h1M343 30.5h1m58 0h1m3 0h1m57 0h1M4 31.5h1m2 0h1m21 0h1m17 0h1m13 0h1m78 0h1m18 0h2m146 0h1m23 0h1m5 0h1m24 0h1m6 0h1m72 0h1m12 0h1m9 0h1M35 32.5h1m14 0h1m31 0h1m87 0h1m37 0h1m173 0h1m37 0h1m35 0h1m12 0h1M0 33.5h1m7 0h1m31 0h1m17 0h1m161 0h1m49 0h1m173 0h2m6 0h1m2 0h1M0 34.5h1m11 0h1m67 0h1m26 0h1m23 0h1m70 0h1m26 0h1m2 0h2m15 0h1m51 0h1m20 0h1m31 0h1M85 35.5h1m58 0h1m147 0h1m50 0h1m30 0h1m35 0h1M7 36.5h2m14 0h1m2 0h1m20 0h2m13 0h1m2 0h1m49 0h1m1 0h2m39 0h1m4 0h1M29 37.5h1m16 0h1m12 0h1m32 0h1m65 0h1m7 0h1m159 0h1m3 0h1m7 0h1m38 0h1m67 0h1M34 38.5h1m61 0h1m20 0h1m14 0h1m4 0h1m2 0h1m34 0h1m25 0h1m30 0h1m55 0h1m7 0h1m14 0h1m20 0h1m30 0h2m20 0h1m34 0h1m3 0h2m21 0h1M5 39.5h1m33 0h1m26 0h1m40 0h1m4 0h1m29 0h1m40 0h1m36 0h1m52 0h1m7 0h1m7 0h1m12 0h1m7 0h1m19 0h1m2 0h1m52 0h1m32 0h1m12 0h1m20 0h1M25 40.5h1m17 0h1m39 0h1m11 0h1m49 0h1m13 0h1m8 0h1m21 0h1m53 0h1m14 0h1m40 0h1m17 0h1m40 0h1m51 0h1m30 0h1M17 41.5h1m35 0h2m5 0h1m11 0h1m21 0h1m5 0h1m63 0h1m4 0h2m9 0h1m65 0h1m31 0h1m29 0h1m22 0h1m22 0h1m92 0h1m9 0h1M21 42.5h1m33 0h1m33 0h1m2 0h1m1 0h1m13 0h1m57 0h1m2 0h1m5 0h1m8 0h1m43 0h1m3 0h1m20 0h1m5 0h1m35 0h1m2 0h1m2 0h1m23 0h1m32 0h1m14 0h1m1 0h1m25 0h1m1 0h1m19 0h1m23 0h1m6 0h1M74 43.5h1m4 0h1m13 0h1m38 0h1m111 0h1m115 0h1m1 0h2m28 0h1m14 0h1m6 0h1m3 0h1m25 0h1m6 0h1M17 44.5h1m7 0h1m34 0h1m3 0h1m6 0h1m28 0h2m1 0h1m14 0h1m45 0h1m10 0h1m61 0h1m7 0h1m10 0h1m11 0h1m11 0h1m62 0h1m34 0h1m59 0h1m5 0h1M20 45.5h1m7 0h1m18 0h1m73 0h1m47 0h1m30 0h1m10 0h1m63 0h1m42 0h1m24 0h1m29 0h1m37 0h1m2 0h1M3 46.5h1m66 0h1m85 0h1m12 0h1m11 0h1m31 0h1m8 0h1m4 0h2m42 0h1m20 0h1m30 0h1m9 0h1m32 0h1m50 0h1m9 0h1m38 0h1M1 47.5h1m38 0h1m3 0h1m47 0h1m19 0h1m86 0h1m2 0h1m12 0h1m5 0h2m23 0h1m7 0h1m9 0h1m66 0h1m11 0h2m49 0h1m2 0h1m7 0h1m15 0h1m3 0h1m20 0h1M29 48.5h1m42 0h1m2 0h1m21 0h1m17 0h1m49 0h1m33 0h1m29 0h1m18 0h1m46 0h1m4 0h1m60 0h1m27 0h2m57 0h1M8 49.5h1m20 0h1m7 0h1m12 0h1m26 0h2m6 0h1m22 0h1m3 0h1m5 0h1m16 0h1m56 0h1m34 0h2m4 0h1m1 0h1m21 0h1m9 0h1m13 0h1m32 0h1m51 0h1m49 0h1m25 0h1M7 50.5h1m33 0h1m1 0h1m10 0h1m18 0h1m40 0h1m1 0h1m43 0h1m18 0h3m12 0h1m2 0h1m47 0h1m72 0h1m2 0h2m38 0h1m8 0h1m15 0h1m18 0h1m14 0h1m17 0h1m1 0h1M24 51.5h1m5 0h1m5 0h1m33 0h2m40 0h2m89 0h1m8 0h1m120 0h1m36 0h1m35 0h1m3 0h1m4 0h1m3 0h1m7 0h1m19 0h1m9 0h1m5 0h2M9 52.5h1m15 0h1m23 0h1m21 0h1m85 0h1m34 0h1m1 0h1m33 0h1m26 0h1m58 0h1m28 0h1m36 0h1m7 0h1m30 0h3m12 0h1M16 53.5h1m43 0h1m8 0h1m5 0h1m15 0h1m9 0h1m17 0h1m10 0h1m38 0h1m3 0h1m4 0h1m39 0h1m5 0h1m21 0h1m74 0h1m56 0h1m62 0h1m1 0h1m10 0h1M21 54.5h1m19 0h1m35 0h1m77 0h1m8 0h1m49 0h1m1 0h1m32 0h1m9 0h1m49 0h1m18 0h1m38 0h1m55 0h1M5 55.5h1m19 0h1m3 0h1m52 0h1m41 0h1m6 0h1m2 0h1m17 0h1m29 0h2m35 0h1m26 0h1m8 0h1m5 0h1m64 0h1m16 0h1m28 0h1m10 0h1m3 0h1m2 0h1m72 0h1M38 56.5h1m46 0h1m25 0h1m3 0h1m70 0h1m9 0h2m3 0h1m30 0h1m13 0h2m55 0h1m10 0h1m24 0h1m15 0h1m6 0h1m105 0h1M3 57.5h1m30 0h1m1 0h1m33 0h1m2 0h1m4 0h1m13 0h1m1 0h1m14 0h1m10 0h1m3 0h1m69 0h1m13 0h2m13 0h1m4 0h2m25 0h1m42 0h1m2 0h1m31 0h2m5 0h2m3 0h1m9 0h1m2 0h1m8 0h1m50 0h1m28 0h1M69 58.5h1m72 0h1m11 0h1m2 0h1m72 0h1m28 0h1m12 0h1m8 0h1m16 0h1m2 0h1m44 0h1m16 0h1m27 0h1m5 0h1m16 0h1m27 0h1m16 0h1M38 59.5h1m2 0h1m150 0h1m128 0h1m31 0h1m40 0h1m14 0h1m3 0h1m49 0h1M49 60.5h1m3 0h1m17 0h1m7 0h1m22 0h1m7 0h1m21 0h1m4 0h1m70 0h1m14 0h1m16 0h1m28 0h1m48 0h1m27 0h1m54 0h1m1 0h1m51 0h1"/>
<path stroke="rgb(247,145,29)" d="M1 0.5h1m7 0h1m16 0h1m6 0h1m30 0h1m9 0h1m3 0h1m19 0h1m44 0h1m39 0h1m48 0h1m2 0h1m3 0h1m49 0h2m21 0h1m4 0h1m42 0h1m15 0h1m8 0h1m8 0h1m28 0h1m2 0h1m29 0h2M7 1.5h1m32 0h1m12 0h1m7 0h1m97 0h1m48 0h1m16 0h1m54 0h1m9 0h1m34 0h1m21 0h1m8 0h1m2 0h1m9 0h1m8 0h1m27 0h1m35 0h2m19 0h1M7 2.5h1m15 0h1m16 0h1m14 0h1m10 0h1m14 0h1m8 0h1m73 0h1m48 0h1m15 0h1m7 0h1m74 0h1m11 0h1m27 0h1m3 0h1m32 0h1M64 3.5h1m19 0h1m26 0h1m12 0h2m16 0h1m3 0h1m5 0h1m18 0h1m4 0h1m3 0h1m1 0h1m72 0h2m6 0h1m1 0h1m6 0h1m1 0h1m38 0h1m19 0h1m3 0h1m17 0h1m26 0h1m10 0h1m4 0h2m11 0h1m24 0h1M1 4.5h1m3 0h1m23 0h1m26 0h2m18 0h1m5 0h3m6 0h1m38 0h1m17 0h1m10 0h1m4 0h1m1 0h1m1 0h2m69 0h1m2 0h1m18 0h1m24 0h2m6 0h1m6 0h1m2 0h1m2 0h1m50 0h1m37 0h1m1 0h1m8 0h2m1 0h1m1 0h1m16 0h1m18 0h1M13 5.5h1m4 0h1m8 0h1m46 0h1m39 0h1m13 0h1m4 0h1m18 0h1m3 0h1m33 0h1m17 0h1m29 0h1m8 0h2m2 0h1m6 0h1m10 0h1m43 0h2m31 0h1m1 0h1m1 0h1m13 0h1m16 0h4m1 0h1m2 0h1m47 0h1m12 0h1M3 6.5h1m8 0h1m17 0h1m2 0h2m7 0h1m20 0h1m21 0h1m7 0h2m8 0h1m3 0h2m79 0h1m62 0h1m55 0h1m12 0h1m23 0h1m20 0h1m6 0h1m6 0h1m3 0h1m31 0h1m4 0h1m29 0h1M1 7.5h1m15 0h1m5 0h1m29 0h2m11 0h1m14 0h1m110 0h1m7 0h1m34 0h1m9 0h1m32 0h1m29 0h1m16 0h1m26 0h1m6 0h1m1 0h1m28 0h1m13 0h2m33 0h1m3 0h1m7 0h1M5 8.5h1m72 0h2m4 0h2m3 0h1m10 0h1m8 0h1m13 0h1m25 0h1m27 0h1m16 0h2m1 0h1m12 0h1m7 0h2m1 0h1m25 0h1m14 0h2m11 0h1m34 0h1m6 0h1m2 0h1m2 0h1m8 0h1m17 0h1m17 0h3m7 0h1m24 0h1m4 0h1m30 0h1m3 0h1m20 0h1M8 9.5h1m13 0h1m19 0h1m6 0h1m32 0h1m6 0h1m20 0h1m24 0h1m14 0h1m27 0h1m35 0h1m22 0h1m9 0h1m47 0h1m10 0h1m18 0h1m1 0h2m9 0h1m23 0h1m6 0h1m27 0h1m9 0h1m10 0h2m6 0h1m25 0h1m3 0h1m2 0h1m8 0h2M33 10.5h1m31 0h1m1 0h1m45 0h1m60 0h1m13 0h1m62 0h1m2 0h1m15 0h1m11 0h1m3 0h1m7 0h1m1 0h1m31 0h1m10 0h1m11 0h1m72 0h1m16 0h1m9 0h1m3 0h1M35 11.5h1m19 0h1m30 0h1m5 0h1m46 0h1m38 0h1m1 0h1m18 0h1m16 0h1m8 0h1m29 0h1m1 0h1m31 0h1m9 0h1m14 0h1m7 0h1m13 0h1m8 0h2m3 0h2m1 0h1m1 0h1m14 0h1m9 0h1m6 0h1m26 0h1m20 0h1M59 12.5h1m21 0h2m4 0h1m3 0h1m1 0h1m15 0h1m17 0h2m26 0h1m6 0h4m10 0h1m6 0h1m8 0h1m16 0h1m75 0h2m67 0h1m7 0h1m28 0h1m51 0h1M1 13.5h1m2 0h1m137 0h1m10 0h1m18 0h1m8 0h1m24 0h1m38 0h1m20 0h1m32 0h1m24 0h1m31 0h1m29 0h1m38 0h1m2 0h2M2 14.5h1m13 0h1m13 0h2m6 0h1m64 0h3m15 0h2m2 0h1m19 0h1m53 0h1m4 0h1m7 0h1m3 0h1m4 0h1m24 0h1m25 0h1m1 0h1m1 0h1m32 0h1m33 0h1m16 0h1m51 0h1m5 0h1m14 0h1m17 0h1m2 0h1m5 0h1M5 15.5h2m18 0h1m47 0h1m6 0h2m32 0h1m27 0h1m45 0h1m3 0h1m11 0h1m14 0h1m20 0h1m6 0h1m78 0h1m11 0h1m18 0h2m2 0h1m4 0h1m13 0h1m37 0h1m20 0h1m15 0h1M38 16.5h1m10 0h1m3 0h1m24 0h1m62 0h1m3 0h1m51 0h3m14 0h1m7 0h1m12 0h1m36 0h2m16 0h1m17 0h1m4 0h1m9 0h1m5 0h1m7 0h1m30 0h1m32 0h1m15 0h1m2 0h1m45 0h1M189 17.5h1m2 0h2m1 0h1m21 0h1m39 0h2m16 0h1m42 0h1m18 0h1m6 0h1m29 0h1m15 0h1m2 0h1m29 0h1m14 0h1m22 0h1m6 0h1M0 18.5h1m27 0h1m17 0h1m187 0h1m13 0h2m7 0h1m24 0h1m2 0h1m35 0h1m79 0h1m43 0h1m11 0h1m9 0h1M24 19.5h2m2 0h1m7 0h1m3 0h1m9 0h1m9 0h2m27 0h1m206 0h1m1 0h1m41 0h1m32 0h1m65 0h1M21 20.5h1m22 0h1m8 0h1m14 0h1m46 0h1m37 0h1m288 0h1M11 21.5h1m19 0h1m31 0h1m1 0h2m4 0h1m31 0h1m11 0h1m23 0h1m8 0h1m15 0h1m32 0h1m25 0h1m6 0h1m184 0h1m2 0h1m22 0h1m1 0h1M2 22.5h2m2 0h1m22 0h1m4 0h1m2 0h1m11 0h1m4 0h1m11 0h1m14 0h1m1 0h1m10 0h1m20 0h1m48 0h1m9 0h1m2 0h2m6 0h2m50 0h1m12 0h1m1 0h1m9 0h1m191 0h1M59 23.5h1m5 0h2m29 0h1m7 0h1m2 0h1m30 0h1m7 0h1m3 0h1m7 0h1m33 0h1m2 0h1m8 0h1m19 0h2m31 0h1m19 0h1m11 0h1m12 0h1m21 0h1m28 0h1M18 24.5h1m2 0h1m6 0h1m5 0h1m5 0h1m65 0h1m1 0h1m1 0h2m11 0h1m1 0h1m27 0h1m17 0h1m13 0h1m10 0h1m1 0h1m11 0h1m13 0h2m48 0h1m3 0h1m18 0h1m1 0h1m6 0h1m38 0h1m4 0h1m3 0h2m10 0h1M5 25.5h1m27 0h1m23 0h1m14 0h1m26 0h1m4 0h1m9 0h1m32 0h1m63 0h2m29 0h1m26 0h1m19 0h1m2 0h1m1 0h1m1 0h1m20 0h1m20 0h2m12 0h1m15 0h1m29 0h1m4 0h2m21 0h1m22 0h1m2 0h1M44 26.5h1m31 0h1m9 0h1m26 0h1m41 0h1m14 0h1m3 0h1m23 0h1m21 0h1m4 0h1m5 0h1m27 0h1m11 0h1m47 0h1m40 0h1m7 0h1m23 0h1m31 0h2m22 0h1M6 27.5h1m9 0h1m15 0h1m29 0h2m23 0h1m13 0h1m5 0h1m11 0h1m41 0h1m8 0h1m11 0h1m27 0h1m10 0h1m20 0h1m19 0h1m11 0h1m43 0h1m61 0h2m14 0h1m10 0h1m2 0h1m12 0h1M48 28.5h1m36 0h1m4 0h1m40 0h1m8 0h1m14 0h1m41 0h1m3 0h1m39 0h1m7 0h1m4 0h1m13 0h1m1 0h1m3 0h1m73 0h1m2 0h1m3 0h1m10 0h1m14 0h1m5 0h1m3 0h1m6 0h1m9 0h1m2 0h1m51 0h1M226 29.5h1m18 0h1m29 0h1m18 0h1m1 0h1m17 0h1m24 0h1m37 0h1m2 0h1m1 0h1m2 0h1m62 0h1m4 0h1M19 30.5h1m8 0h1m4 0h1m204 0h1m10 0h1m10 0h1m38 0h1m17 0h1m5 0h1m6 0h2m4 0h1m49 0h1m17 0h2m12 0h1m21 0h1m3 0h1m7 0h1M5 31.5h2m3 0h1m2 0h1m12 0h1m7 0h1m27 0h1m56 0h1m218 0h1m31 0h1m15 0h2m15 0h1m11 0h1m40 0h1M40 32.5h1m16 0h1m5 0h1m91 0h2m15 0h1m13 0h1m3 0h1m223 0h1m23 0h1m16 0h1M31 33.5h1m38 0h1m2 0h1m4 0h1m17 0h1m6 0h1m5 0h1m53 0h1m16 0h1m19 0h1m14 0h1m10 0h1m9 0h1m66 0h1m112 0h1m21 0h1m12 0h1M5 34.5h1m3 0h1m7 0h1m10 0h1m33 0h1m136 0h1m3 0h1m8 0h1m10 0h1m14 0h1m2 0h1m18 0h1m34 0h1m27 0h1M0 35.5h2m7 0h1m16 0h1m42 0h1m8 0h1m19 0h1m4 0h1m13 0h1m3 0h1m14 0h1m93 0h1m23 0h1m73 0h1m46 0h1m16 0h1m11 0h1m6 0h1M67 36.5h1m17 0h2m54 0h1m6 0h1m13 0h1m1 0h1M18 37.5h1m37 0h1m3 0h1m25 0h1m23 0h1m1 0h1m12 0h1m18 0h1m20 0h1m35 0h1m180 0h2m2 0h1m6 0h1m32 0h1m7 0h1m1 0h1m14 0h1M8 38.5h1m8 0h1m33 0h1m36 0h1m22 0h2m28 0h2m4 0h1m28 0h1m66 0h1m10 0h1m2 0h1m6 0h1m13 0h2m69 0h1m24 0h1m37 0h1m26 0h1m11 0h1m5 0h1M35 39.5h2m1 0h1m1 0h1m3 0h2m49 0h1m12 0h1m14 0h1m3 0h1m6 0h1m34 0h2m26 0h1m23 0h1m17 0h1m10 0h1m1 0h1m1 0h1m45 0h1m23 0h1m1 0h1m17 0h1m3 0h1m20 0h1m15 0h1m12 0h1m2 0h2m14 0h1m2 0h1m26 0h1M24 40.5h1m57 0h1m3 0h1m10 0h1m3 0h1m21 0h1m4 0h1m48 0h1m8 0h1m75 0h1m22 0h1m2 0h1m3 0h1m6 0h1m1 0h1m3 0h1m14 0h1m54 0h1m8 0h1m13 0h1m29 0h1m28 0h1m4 0h1m5 0h1M18 41.5h1m3 0h1m25 0h1m24 0h2m44 0h1m20 0h1m2 0h1m6 0h1m41 0h1m20 0h1m30 0h1m37 0h1m9 0h1m9 0h1m23 0h1m18 0h1m9 0h1m48 0h1m46 0h1m7 0h1m5 0h1M64 42.5h1m31 0h1m41 0h1m5 0h1m8 0h1m19 0h1m2 0h1m68 0h1m3 0h1m4 0h1m7 0h1m17 0h1m5 0h1m5 0h1m106 0h1m4 0h2m34 0h1m25 0h1M5 43.5h1m35 0h1m54 0h2m56 0h1m29 0h1m8 0h1m7 0h1m8 0h1m15 0h1m33 0h1m1 0h1m55 0h1m2 0h1m1 0h1m21 0h1m18 0h1m2 0h1m11 0h1m16 0h1m11 0h1m14 0h1m2 0h1m2 0h1M5 44.5h1m16 0h1m20 0h1m6 0h1m12 0h1m20 0h1m2 0h1m11 0h1m40 0h1m73 0h1m2 0h1m37 0h1m86 0h1m46 0h1m68 0h1M5 45.5h1m11 0h1m16 0h1m22 0h1m4 0h1m13 0h1m36 0h2m7 0h2m11 0h1m8 0h1m61 0h1m25 0h1m20 0h1m30 0h1m2 0h1m11 0h1m8 0h1m5 0h1m2 0h1m1 0h1m14 0h1m11 0h1m3 0h1m18 0h1m4 0h1m12 0h1m25 0h1m2 0h1m6 0h1m4 0h1m3 0h1m1 0h1m2 0h1m15 0h1m6 0h1M18 46.5h1m4 0h1m15 0h1m6 0h1m1 0h1m40 0h1m47 0h1m4 0h1m14 0h1m41 0h1m19 0h1m13 0h1m6 0h1m63 0h1m17 0h1m2 0h1m21 0h1m9 0h1m10 0h1m2 0h2m7 0h1m4 0h2m1 0h1m16 0h1m7 0h1m2 0h1m1 0h1m1 0h1m9 0h1m20 0h2m9 0h1M4 47.5h1m29 0h1m44 0h1m4 0h1m8 0h1m23 0h1m12 0h1m38 0h1m8 0h1m13 0h1m7 0h1m8 0h1m18 0h1m5 0h1m10 0h1m62 0h1m2 0h1m25 0h1m9 0h1m30 0h1m9 0h1m1 0h1m1 0h1m2 0h1m5 0h1m13 0h1m3 0h1m15 0h1m16 0h1M12 48.5h1m53 0h1m4 0h1m22 0h1m12 0h1m2 0h2m107 0h2m14 0h1m35 0h1m51 0h2m75 0h1M27 49.5h2m1 0h1m30 0h1m21 0h1m5 0h1m14 0h1m2 0h1m1 0h2m2 0h1m15 0h1m1 0h1m12 0h2m20 0h1m7 0h1m11 0h1m23 0h1m6 0h1m16 0h1m23 0h1m7 0h1m21 0h1m44 0h1m11 0h1m29 0h1m32 0h1m6 0h1m2 0h1m2 0h1m14 0h1m3 0h2m4 0h1M95 50.5h1m1 0h2m16 0h1m17 0h1m49 0h1m33 0h1m9 0h1m8 0h1m32 0h1m35 0h1m21 0h1m24 0h1m5 0h1m23 0h1m2 0h1m23 0h1M25 51.5h1m22 0h2m16 0h1m29 0h1m35 0h1m15 0h1m20 0h1m14 0h1m14 0h1m4 0h1m1 0h1m7 0h1m2 0h1m15 0h1m2 0h1m51 0h1m61 0h1m43 0h1m5 0h1m10 0h1m2 0h1m31 0h1m6 0h1m2 0h1M1 52.5h1m11 0h1m56 0h1m5 0h1m39 0h1m3 0h1m1 0h1m26 0h1m37 0h1m8 0h2m9 0h1m6 0h1m14 0h1m11 0h1m62 0h1m4 0h1m8 0h1m6 0h1m2 0h1m54 0h1m1 0h1m16 0h1m35 0h1m12 0h1M15 53.5h1m2 0h1m8 0h1m22 0h1m1 0h1m9 0h1m1 0h1m5 0h1m17 0h1m8 0h1m27 0h1m13 0h1m2 0h1m12 0h1m12 0h1m10 0h1m9 0h1m27 0h1m36 0h1m12 0h1m41 0h1m19 0h1m10 0h1m69 0h1m8 0h1m11 0h1m8 0h1m12 0h1M23 54.5h1m1 0h1m1 0h2m35 0h2m14 0h1m30 0h1m21 0h1m31 0h1m47 0h1m27 0h2m27 0h1m19 0h1m21 0h1m27 0h1m1 0h1m44 0h2m10 0h1m25 0h1m9 0h1m10 0h1m1 0h1m11 0h1M3 55.5h1m5 0h1m36 0h1m1 0h1m7 0h1m16 0h1m15 0h1m22 0h1m3 0h1m13 0h1m5 0h1m8 0h2m25 0h1m3 0h1m10 0h1m89 0h1m11 0h1m25 0h1m25 0h1m70 0h1m30 0h1m6 0h2M29 56.5h1m6 0h1m3 0h1m39 0h1m12 0h1m4 0h1m10 0h1m2 0h1m1 0h1m14 0h1m20 0h1m31 0h1m22 0h1m8 0h1m22 0h1m12 0h1m18 0h1m57 0h2m7 0h1m4 0h1m1 0h1m1 0h1m108 0h1M19 57.5h1m6 0h2m5 0h1m1 0h1m50 0h1m14 0h1m82 0h1m1 0h1m2 0h1m15 0h1m26 0h1m5 0h1m40 0h1m12 0h1m15 0h2m10 0h2m13 0h1m15 0h2m26 0h1m21 0h1m6 0h1m1 0h1m3 0h1m51 0h1M33 58.5h1m8 0h1m25 0h1m1 0h1m10 0h2m12 0h1m8 0h1m7 0h1m25 0h1m12 0h1m38 0h1m35 0h2m37 0h1m7 0h1m39 0h1m10 0h1m12 0h1m24 0h1m2 0h1m6 0h1m38 0h1m32 0h1m24 0h1M17 59.5h1m11 0h1m13 0h1m35 0h1m9 0h1m45 0h1m12 0h1m8 0h1m11 0h1m16 0h1m12 0h1m6 0h1m11 0h1m21 0h1m5 0h1m13 0h1m1 0h2m9 0h1m6 0h2m5 0h1m1 0h3m21 0h1m49 0h2m3 0h1m22 0h1m9 0h1m58 0h1m1 0h1M6 60.5h1m6 0h1m34 0h1m20 0h1m2 0h1m57 0h1m22 0h1m15 0h1m45 0h1m30 0h1m18 0h1m35 0h1m10 0h1m3 0h2m26 0h1m24 0h1m17 0h1m14 0h1m40 0h1"/>
<path stroke="rgb(245,124,32)" d="M2 0.5h1m4 0h2m9 0h1m12 0h2m3 0h1m9 0h1m30 0h1m6 0h1m9 0h1m11 0h1m13 0h1m6 0h1m23 0h1m3 0h1m3 0h2m5 0h1m1 0h1m4 0h1m11 0h2m16 0h1m23 0h1m3 0h1m13 0h1m10 0h1m14 0h2m15 0h1m22 0h1m6 0h1m13 0h1m4 0h1m31 0h1m16 0h1m19 0h1m5 0h1m6 0h1m40 0h2m7 0h1M11 1.5h1m4 0h1m16 0h3m6 0h1m12 0h1m24 0h2m43 0h1m9 0h1m8 0h1m15 0h1m3 0h1m6 0h3m4 0h1m27 0h1m13 0h1m3 0h1m9 0h1m13 0h1m44 0h1m1 0h1m12 0h1m6 0h1m20 0h1m3 0h1m29 0h1m34 0h1m1 0h1m2 0h1m4 0h2m1 0h2m30 0h1m1 0h1m11 0h1M6 2.5h1m1 0h1m2 0h1m31 0h1m5 0h1m24 0h1m23 0h1m72 0h1m13 0h1m17 0h1m54 0h1m3 0h1m4 0h1m20 0h1m11 0h1m20 0h1m1 0h1m29 0h1m15 0h1m12 0h1m8 0h1m8 0h1m18 0h2m8 0h1m6 0h1m4 0h1m7 0h1m3 0h1M2 3.5h1m23 0h1m6 0h1m22 0h1m15 0h1m1 0h1m1 0h2m26 0h2m12 0h1m10 0h1m11 0h1m15 0h1m5 0h1m17 0h1m2 0h1m1 0h1m38 0h1m7 0h1m5 0h2m4 0h1m6 0h1m14 0h1m3 0h1m19 0h1m5 0h1m23 0h1m5 0h1m2 0h1m3 0h1m1 0h1m4 0h1m3 0h1m10 0h1m11 0h1m18 0h1m29 0h1m4 0h1m22 0h1m6 0h1M6 4.5h1m17 0h1m18 0h2m13 0h1m43 0h1m16 0h1m9 0h1m4 0h1m5 0h1m17 0h1m4 0h1m16 0h1m12 0h1m10 0h1m1 0h1m2 0h1m3 0h1m4 0h1m6 0h1m1 0h3m1 0h1m17 0h1m3 0h1m9 0h1m1 0h1m15 0h1m16 0h2m5 0h1m17 0h1m1 0h1m2 0h1m10 0h1m24 0h2m24 0h2m3 0h1m7 0h1m7 0h1m7 0h2m14 0h1m2 0h1m3 0h2M20 5.5h1m9 0h1m28 0h1m45 0h1m7 0h1m13 0h1m4 0h1m3 0h1m5 0h1m5 0h1m21 0h2m52 0h1m10 0h3m14 0h1m37 0h1m34 0h2m24 0h1m26 0h1m1 0h1m14 0h1m7 0h1m8 0h1m15 0h1m7 0h1m12 0h1m6 0h1m6 0h1M0 6.5h1m16 0h1m4 0h1m1 0h2m5 0h1m46 0h1m2 0h1m5 0h1m2 0h3m22 0h1m2 0h1m18 0h1m14 0h1m10 0h1m23 0h1m22 0h1m3 0h2m2 0h1m4 0h1m5 0h2m35 0h1m19 0h1m5 0h1m5 0h1m12 0h1m12 0h1m20 0h1m4 0h1m27 0h1m11 0h1m7 0h1m3 0h1m22 0h1m2 0h2m14 0h1m1 0h1m21 0h1M3 7.5h1m2 0h1m4 0h1m10 0h1m13 0h2m21 0h1m13 0h1m17 0h1m1 0h2m20 0h1m11 0h1m44 0h1m2 0h1m4 0h1m13 0h1m2 0h1m19 0h1m8 0h1m28 0h2m3 0h1m2 0h1m5 0h1m73 0h1m5 0h2m20 0h1m17 0h1m13 0h1m2 0h1m24 0h1m10 0h1m10 0h1m7 0h1M3 8.5h1m6 0h1m12 0h2m47 0h1m7 0h1m2 0h1m17 0h1m12 0h1m22 0h1m6 0h1m8 0h1m2 0h1m16 0h1m4 0h1m69 0h1m12 0h1m2 0h1m4 0h1m6 0h2m8 0h1m4 0h1m1 0h1m3 0h1m13 0h1m28 0h1m8 0h1m34 0h1m6 0h1m21 0h1m5 0h1m10 0h1m1 0h1m4 0h1m30 0h1M5 9.5h1m3 0h3m54 0h1m23 0h1m5 0h1m1 0h1m8 0h1m1 0h1m21 0h1m5 0h1m31 0h1m3 0h1m15 0h1m2 0h1m4 0h1m23 0h2m22 0h1m12 0h2m3 0h1m37 0h1m10 0h1m6 0h1m9 0h1m3 0h1m13 0h1m2 0h1m10 0h1m2 0h1m22 0h1m2 0h1m7 0h1m17 0h1m14 0h1m5 0h1m1 0h1m6 0h1m13 0h1m6 0h1M9 10.5h2m4 0h1m5 0h1m14 0h1m11 0h1m5 0h1m13 0h1m4 0h1m2 0h1m17 0h1m20 0h1m25 0h1m23 0h1m16 0h1m4 0h1m9 0h1m28 0h1m16 0h1m11 0h1m1 0h1m5 0h1m1 0h1m74 0h1m12 0h1m4 0h1m22 0h1m1 0h1m5 0h1m4 0h1m7 0h1m9 0h1m16 0h1m2 0h1m7 0h1m4 0h1m2 0h1m1 0h1m5 0h2M15 11.5h1m5 0h1m29 0h1m31 0h1m18 0h1m5 0h1m6 0h1m38 0h1m21 0h2m3 0h1m16 0h1m2 0h1m10 0h1m8 0h1m26 0h1m7 0h1m13 0h1m27 0h1m26 0h1m31 0h1m10 0h1m36 0h1m5 0h1m13 0h1m34 0h1M46 12.5h1m22 0h1m9 0h1m10 0h1m24 0h1m15 0h2m19 0h1m8 0h1m7 0h2m7 0h2m8 0h3m12 0h1m15 0h1m37 0h1m13 0h1m28 0h1m2 0h1m14 0h1m20 0h1m17 0h1m23 0h1m7 0h1m34 0h2m7 0h1m13 0h1m8 0h2m9 0h1M8 13.5h1m52 0h1m12 0h1m9 0h1m5 0h1m3 0h1m56 0h1m22 0h1m20 0h1m13 0h1m7 0h1m11 0h1m5 0h1m10 0h1m31 0h1m6 0h1m6 0h1m2 0h1m10 0h2m6 0h1m10 0h1m24 0h1m1 0h1m1 0h1m4 0h1m17 0h1m3 0h1m11 0h2m10 0h1m10 0h1m21 0h1m9 0h1M11 14.5h2m2 0h1m5 0h1m17 0h1m2 0h1m3 0h1m6 0h1m69 0h1m16 0h2m5 0h1m9 0h1m23 0h1m13 0h1m14 0h1m11 0h1m31 0h1m15 0h1m18 0h1m6 0h1m10 0h1m6 0h1m5 0h2m36 0h1m15 0h1m2 0h1m2 0h1m5 0h2m26 0h1m8 0h1m6 0h1m36 0h1M7 15.5h1m19 0h1m36 0h2m2 0h2m35 0h1m39 0h1m15 0h2m8 0h1m1 0h1m23 0h1m22 0h1m1 0h1m16 0h1m1 0h1m11 0h1m1 0h1m18 0h2m13 0h1m4 0h1m22 0h1m4 0h1m29 0h1m9 0h1m6 0h1m6 0h2m1 0h1m11 0h2m5 0h2m10 0h1m8 0h1m13 0h1m11 0h1m7 0h2M44 16.5h2m18 0h1m20 0h1m31 0h1m3 0h1m27 0h1m28 0h1m21 0h1m4 0h1m12 0h1m5 0h1m12 0h1m11 0h1m30 0h1m17 0h1m16 0h2m2 0h1m2 0h1m4 0h1m13 0h1m22 0h1m9 0h2m7 0h1m1 0h1m14 0h1m6 0h1m1 0h1m8 0h1m3 0h1m8 0h1m2 0h1m4 0h1m7 0h1m2 0h1M190 17.5h1m17 0h2m3 0h1m40 0h1m12 0h1m1 0h1m19 0h2m35 0h1m7 0h1m5 0h1m4 0h1m4 0h1m10 0h1m19 0h2m1 0h1m4 0h1m8 0h1m1 0h1m47 0h1m6 0h1m4 0h1m2 0h1m1 0h1M45 18.5h1m210 0h1m40 0h1m1 0h1m22 0h1m5 0h1m11 0h5m16 0h1m19 0h1m5 0h1m15 0h1m3 0h1m4 0h1m21 0h1m3 0h1M7 19.5h1m2 0h1m22 0h1m23 0h2m5 0h1m35 0h1m1 0h1m20 0h1m22 0h2m18 0h1m113 0h1m14 0h1m36 0h1m6 0h1m63 0h1M6 20.5h2m1 0h1m5 0h1m46 0h1m27 0h1m18 0h1m1 0h1m1 0h1m3 0h3m4 0h1m17 0h1m6 0h1m2 0h1m41 0h1m273 0h1M3 21.5h1m12 0h2m27 0h2m3 0h2m5 0h1m22 0h3m8 0h1m10 0h1m2 0h1m28 0h1m25 0h2m4 0h1m10 0h1m5 0h1m7 0h1m6 0h1m5 0h1m11 0h1m176 0h1m26 0h1m7 0h1m15 0h1m5 0h2m15 0h1M26 22.5h1m28 0h1m14 0h1m5 0h1m20 0h2m2 0h1m12 0h1m3 0h1m7 0h1m14 0h1m47 0h1m12 0h1m1 0h1m31 0h1m6 0h1m7 0h1m195 0h1m5 0h1M25 23.5h1m5 0h1m10 0h1m13 0h1m22 0h1m29 0h2m19 0h1m17 0h1m30 0h1m13 0h1m4 0h1m6 0h1m22 0h3m16 0h1m1 0h1m2 0h1m7 0h2m7 0h1m17 0h1m24 0h1m1 0h1m1 0h1m16 0h1m20 0h1M36 24.5h1m13 0h1m4 0h1m8 0h1m11 0h1m5 0h1m1 0h1m28 0h1m17 0h1m25 0h1m16 0h1m41 0h1m6 0h1m27 0h1m12 0h3m3 0h1m1 0h1m23 0h1m7 0h1m42 0h1m29 0h1m19 0h2m1 0h1m12 0h2m48 0h1M2 25.5h2m18 0h1m4 0h1m3 0h1m37 0h1m3 0h1m12 0h1m6 0h1m3 0h1m7 0h1m9 0h1m2 0h1m21 0h1m28 0h1m7 0h1m13 0h1m10 0h1m21 0h1m18 0h2m9 0h1m46 0h2m15 0h2m6 0h1m7 0h1m5 0h1m14 0h1m14 0h1m8 0h1m2 0h1m9 0h1m21 0h3m6 0h2m2 0h1m20 0h1m5 0h1m12 0h1M10 26.5h1m17 0h1m1 0h3m27 0h1m26 0h1m9 0h1m3 0h1m6 0h1m9 0h1m37 0h1m10 0h1m21 0h1m17 0h1m20 0h1m8 0h1m39 0h1m9 0h3m39 0h1m24 0h1m6 0h1m1 0h1M17 27.5h1m22 0h1m14 0h1m5 0h1m10 0h2m51 0h1m14 0h2m16 0h1m8 0h1m20 0h2m8 0h1m5 0h1m2 0h1m6 0h1m15 0h1m14 0h1m4 0h1m8 0h1m1 0h1m1 0h1m13 0h1m25 0h1m41 0h1m12 0h1m9 0h1m10 0h1m19 0h1m13 0h1m15 0h1m11 0h1m4 0h1m4 0h1m6 0h1M86 28.5h1m45 0h1m37 0h1m36 0h2m21 0h1m76 0h1m3 0h1m37 0h1m22 0h1m22 0h1m1 0h1m25 0h1m5 0h2m17 0h1M219 29.5h1m5 0h1m16 0h1m10 0h1m2 0h1m9 0h1m31 0h1m16 0h1m6 0h1m12 0h1m4 0h1m27 0h1m4 0h1m9 0h1m2 0h1m1 0h1m26 0h1m2 0h1m31 0h1M10 30.5h1m12 0h1m8 0h1m16 0h1m178 0h1m37 0h1m2 0h1m11 0h1m1 0h1m1 0h1m7 0h1m11 0h3m17 0h1m16 0h1m3 0h1m4 0h1m2 0h1m6 0h1m16 0h1m47 0h1m14 0h1m1 0h1m9 0h1m14 0h1M8 31.5h2m7 0h1m17 0h1m82 0h1m3 0h1m20 0h1m11 0h1m25 0h1m126 0h1m21 0h1m20 0h1m4 0h1m43 0h1m1 0h1m1 0h1m1 0h1m9 0h1m10 0h1M21 32.5h1m32 0h1m105 0h1m21 0h1m24 0h1m172 0h2m24 0h1m9 0h1m1 0h2m19 0h1m17 0h1M9 33.5h1m1 0h1m35 0h4m2 0h1m8 0h1m4 0h1m6 0h1m5 0h1m3 0h2m9 0h1m29 0h1m53 0h1m23 0h1m15 0h1m11 0h1m24 0h1m3 0h1m2 0h1m1 0h1m1 0h1m16 0h2m168 0h1m5 0h2m5 0h1M1 34.5h1m25 0h1m26 0h1m20 0h1m5 0h1m21 0h1m2 0h1m3 0h1m3 0h2m4 0h1m8 0h1m5 0h1m47 0h1m74 0h1m5 0h1m3 0h1m6 0h1m53 0h2M3 35.5h1m8 0h1m6 0h1m23 0h1m21 0h1m7 0h1m13 0h1m11 0h1m7 0h2m4 0h1m9 0h1m14 0h1m6 0h1m109 0h1m91 0h1m46 0h1M5 36.5h1m21 0h4m22 0h1m5 0h1m3 0h1m18 0h1m10 0h1m12 0h2m1 0h1m21 0h1m8 0h1m6 0h1m1 0h3m8 0h1M25 37.5h2m12 0h2m7 0h1m16 0h1m5 0h1m3 0h1m7 0h1m12 0h1m29 0h1m34 0h1m14 0h1m4 0h1m2 0h1m6 0h1m189 0h1m26 0h1m12 0h1m10 0h2M1 38.5h1m50 0h1m29 0h1m3 0h1m22 0h1m3 0h1m2 0h1m34 0h1m2 0h1m1 0h1m16 0h2m9 0h1m2 0h1m2 0h1m11 0h1m25 0h1m1 0h1m15 0h1m29 0h2m6 0h1m4 0h2m9 0h1m1 0h1m9 0h2m4 0h1m14 0h1m5 0h2m10 0h1m2 0h1m13 0h1m13 0h1m51 0h1m8 0h1m16 0h2M6 39.5h1m14 0h1m27 0h1m2 0h1m8 0h1m2 0h1m5 0h1m3 0h1m1 0h1m15 0h1m50 0h1m1 0h1m1 0h1m3 0h1m24 0h1m12 0h1m1 0h1m2 0h1m1 0h1m5 0h1m16 0h1m18 0h1m4 0h1m15 0h1m9 0h1m23 0h1m13 0h1m1 0h1m9 0h1m11 0h1m7 0h1m2 0h1m7 0h1m12 0h1m6 0h4m4 0h1m21 0h1m2 0h1m5 0h1m38 0h1M6 40.5h1m1 0h2m66 0h1m19 0h1m27 0h2m8 0h1m3 0h1m27 0h2m24 0h1m11 0h2m2 0h1m8 0h2m18 0h2m35 0h1m21 0h1m7 0h1m11 0h1m6 0h1m34 0h1m27 0h1m35 0h1m4 0h1m9 0h1m2 0h1m5 0h1m8 0h1m5 0h1M32 41.5h1m22 0h1m3 0h1m6 0h1m18 0h2m33 0h1m3 0h1m33 0h1m2 0h1m4 0h1m6 0h1m19 0h1m9 0h1m39 0h1m11 0h1m21 0h1m33 0h1m15 0h3m2 0h1m10 0h1m12 0h1m9 0h1m15 0h1m20 0h1m20 0h1m18 0h1m16 0h1M4 42.5h1m28 0h1m24 0h1m10 0h1m13 0h1m9 0h1m3 0h1m3 0h1m17 0h1m4 0h2m3 0h1m29 0h1m7 0h1m9 0h1m4 0h1m10 0h1m9 0h1m23 0h1m3 0h1m37 0h2m49 0h1m1 0h1m1 0h1m5 0h3m5 0h1m35 0h1m5 0h1m38 0h1m1 0h2m1 0h1m3 0h1m4 0h1m5 0h1M25 43.5h1m1 0h1m4 0h1m11 0h1m46 0h1m34 0h1m6 0h1m16 0h1m17 0h1m25 0h2m18 0h1m5 0h1m19 0h1m4 0h2m1 0h1m12 0h1m10 0h1m19 0h1m2 0h1m3 0h1m5 0h1m2 0h1m21 0h1m3 0h1m18 0h1m5 0h1m1 0h1m12 0h1m5 0h1m20 0h1m2 0h1m17 0h1m4 0h1m15 0h1m8 0h1M6 44.5h2m12 0h1m26 0h1m1 0h1m1 0h1m10 0h1m10 0h2m23 0h1m15 0h1m6 0h1m28 0h1m25 0h1m19 0h1m74 0h1m15 0h1m30 0h1m21 0h1m16 0h1m4 0h1m29 0h2m42 0h2m8 0h1m12 0h1m4 0h1M1 45.5h1m1 0h1m28 0h1m10 0h1m42 0h1m6 0h1m13 0h2m34 0h1m7 0h1m16 0h1m18 0h1m2 0h1m10 0h1m7 0h1m11 0h2m31 0h2m35 0h2m7 0h1m6 0h1m5 0h1m2 0h1m15 0h2m20 0h1m7 0h1m54 0h2m8 0h1m7 0h1m20 0h1M6 46.5h1m15 0h1m14 0h2m10 0h1m27 0h2m6 0h1m4 0h1m11 0h3m5 0h1m6 0h1m3 0h1m10 0h1m19 0h2m14 0h1m25 0h1m9 0h1m6 0h2m28 0h1m6 0h1m16 0h1m7 0h1m15 0h2m18 0h2m18 0h1m16 0h1m7 0h1m7 0h1m4 0h1m6 0h1m20 0h1m18 0h1m18 0h1m9 0h1m14 0h1m6 0h1M0 47.5h1m4 0h1m14 0h2m24 0h2m3 0h1m4 0h2m8 0h1m2 0h1m1 0h1m22 0h1m2 0h1m2 0h1m30 0h1m8 0h1m6 0h1m7 0h1m12 0h1m20 0h1m1 0h1m5 0h1m12 0h1m33 0h1m8 0h1m2 0h1m29 0h1m14 0h1m7 0h1m3 0h1m21 0h1m9 0h2m34 0h1m3 0h1m20 0h1m1 0h1m13 0h1m1 0h1m13 0h1m23 0h1m3 0h1M0 48.5h2m4 0h2m2 0h1m13 0h1m10 0h1m9 0h1m60 0h1m5 0h1m18 0h1m40 0h2m24 0h1m2 0h1m20 0h1m26 0h2m21 0h1m12 0h1m77 0h1m31 0h1m2 0h1m20 0h1m15 0h1m13 0h1m7 0h1M13 49.5h1m7 0h1m17 0h1m20 0h1m4 0h1m4 0h1m61 0h1m19 0h2m8 0h1m4 0h1m13 0h1m7 0h1m3 0h1m13 0h1m1 0h1m3 0h1m5 0h1m33 0h1m20 0h1m12 0h1m37 0h1m8 0h1m24 0h1m30 0h1m16 0h1m9 0h1m2 0h1m9 0h1m16 0h1m19 0h1M10 50.5h1m18 0h1m2 0h2m21 0h2m7 0h1m15 0h2m23 0h1m7 0h1m3 0h1m22 0h1m1 0h1m30 0h1m18 0h2m4 0h1m13 0h1m3 0h1m8 0h1m8 0h1m5 0h1m8 0h2m22 0h1m13 0h1m1 0h1m17 0h1m18 0h1m1 0h1m31 0h1m5 0h1m4 0h2m60 0h1m5 0h1m5 0h2m7 0h2m10 0h1M2 51.5h1m10 0h3m13 0h1m14 0h1m19 0h2m3 0h1m9 0h1m11 0h1m8 0h3m5 0h1m2 0h1m7 0h1m24 0h1m9 0h1m17 0h1m5 0h1m1 0h1m30 0h1m19 0h1m5 0h1m7 0h2m38 0h1m13 0h1m20 0h1m23 0h1m4 0h1m9 0h1m12 0h1m9 0h2m3 0h1m2 0h1m12 0h1m20 0h1m5 0h1m7 0h1m4 0h1m21 0h1M24 52.5h1m7 0h1m7 0h1m5 0h1m21 0h1m6 0h1m17 0h1m15 0h1m31 0h1m6 0h1m11 0h1m1 0h1m30 0h1m17 0h1m3 0h2m70 0h1m1 0h1m56 0h1m22 0h2m1 0h1m11 0h1m1 0h1m23 0h1m2 0h1m22 0h2m2 0h1m19 0h2M2 53.5h1m3 0h1m3 0h1m6 0h1m45 0h1m3 0h1m8 0h1m1 0h1m25 0h1m30 0h1m7 0h1m36 0h1m3 0h1m15 0h1m22 0h1m14 0h1m3 0h1m14 0h1m2 0h1m9 0h1m3 0h1m35 0h3m6 0h2m1 0h1m9 0h1m9 0h1m12 0h2m19 0h1m34 0h2m11 0h1m1 0h1m30 0h1M47 54.5h1m43 0h1m10 0h1m1 0h1m15 0h1m39 0h1m21 0h1m1 0h2m2 0h1m4 0h1m14 0h2m16 0h1m33 0h1m5 0h1m41 0h1m9 0h1m62 0h1m3 0h1m7 0h1m17 0h2m27 0h1m6 0h1m6 0h1m4 0h1m7 0h1m1 0h1M8 55.5h1m3 0h1m17 0h2m8 0h1m8 0h1m5 0h1m20 0h1m11 0h1m18 0h1m13 0h2m5 0h2m11 0h1m9 0h1m3 0h1m18 0h1m9 0h1m4 0h1m4 0h1m3 0h1m2 0h1m34 0h1m1 0h1m21 0h1m10 0h1m18 0h1m10 0h1m6 0h1m18 0h1m5 0h1m3 0h1m27 0h1m3 0h1m26 0h1m12 0h1m1 0h1m22 0h1m18 0h1m3 0h1M5 56.5h2m23 0h1m8 0h1m6 0h1m9 0h1m5 0h1m8 0h1m31 0h1m37 0h1m10 0h1m4 0h2m39 0h1m1 0h1m1 0h1m8 0h1m7 0h1m3 0h4m24 0h1m46 0h1m7 0h1m4 0h1m11 0h1m6 0h1m1 0h1m30 0h1m3 0h1m8 0h2m9 0h1m4 0h2m4 0h1m4 0h2m14 0h1m8 0h1m23 0h1m13 0h1M8 57.5h1m11 0h1m1 0h1m19 0h1m1 0h1m4 0h1m6 0h1m4 0h1m5 0h1m4 0h1m2 0h1m1 0h1m17 0h1m1 0h1m30 0h1m8 0h1m57 0h1m35 0h1m55 0h1m27 0h2m30 0h1m13 0h1m4 0h1m1 0h1m34 0h1m3 0h1m9 0h1m9 0h2m16 0h1m5 0h1M37 58.5h1m26 0h1m21 0h1m9 0h1m17 0h1m4 0h1m26 0h1m9 0h1m14 0h2m1 0h1m18 0h1m2 0h1m7 0h1m19 0h2m12 0h1m16 0h1m11 0h1m11 0h1m9 0h2m23 0h1m32 0h1m4 0h1m2 0h1m2 0h1m2 0h1m2 0h1m5 0h1m3 0h2m10 0h1m3 0h1m15 0h1m13 0h1m8 0h1m2 0h1M22 59.5h1m2 0h1m30 0h1m2 0h1m11 0h1m10 0h1m42 0h1m8 0h1m6 0h1m12 0h1m1 0h1m22 0h1m1 0h1m3 0h1m1 0h1m2 0h1m19 0h1m21 0h1m14 0h2m6 0h1m13 0h1m6 0h1m2 0h1m5 0h1m2 0h1m27 0h1m30 0h1m48 0h1m1 0h1m3 0h1m15 0h1m18 0h1M16 60.5h1m14 0h1m1 0h1m4 0h1m28 0h1m6 0h1m7 0h1m1 0h1m22 0h1m38 0h1m31 0h2m2 0h1m2 0h1m27 0h1m8 0h1m14 0h1m6 0h1m12 0h1m36 0h1m16 0h1m2 0h1m9 0h1m11 0h1m10 0h1m15 0h1m22 0h1m25 0h1m11 0h1m27 0h2m5 0h1m8 0h1"/>
<path stroke="rgb(242,97,33)" d="M0 0.5h1m12 0h1m3 0h1m5 0h1m13 0h1m6 0h1m4 0h1m6 0h1m1 0h1m1 0h1m36 0h1m2 0h1m4 0h1m1 0h1m9 0h2m11 0h1m4 0h1m14 0h1m1 0h1m10 0h1m1 0h1m1 0h1m12 0h2m2 0h1m2 0h1m9 0h1m1 0h1m2 0h1m35 0h1m5 0h1m18 0h1m27 0h1m6 0h1m10 0h1m18 0h1m12 0h1m17 0h1m10 0h1m16 0h1m17 0h1m5 0h1m10 0h1m2 0h1m8 0h1m4 0h1m22 0h1m3 0h2M22 1.5h2m12 0h1m10 0h1m16 0h1m4 0h1m6 0h2m4 0h1m5 0h1m4 0h1m14 0h1m39 0h2m1 0h1m33 0h1m10 0h1m14 0h1m1 0h1m5 0h1m3 0h1m12 0h1m1 0h1m20 0h2m1 0h1m3 0h2m18 0h2m22 0h1m13 0h1m9 0h2m10 0h1m4 0h1m1 0h1m9 0h1m1 0h1m20 0h2m5 0h1m23 0h1m14 0h1m1 0h1m9 0h1m20 0h2m2 0h1M2 2.5h1m6 0h1m12 0h1m15 0h1m6 0h1m37 0h1m17 0h1m5 0h1m5 0h1m17 0h2m5 0h1m26 0h1m1 0h1m19 0h1m14 0h1m14 0h1m2 0h1m5 0h3m24 0h1m2 0h1m16 0h1m7 0h1m4 0h2m34 0h1m18 0h1m4 0h2m33 0h1m32 0h1m6 0h1m1 0h1m7 0h1m3 0h1m15 0h1m6 0h1m8 0h1M3 3.5h1m3 0h3m2 0h2m6 0h1m17 0h1m1 0h1m4 0h1m11 0h1m7 0h1m9 0h1m19 0h1m14 0h1m1 0h1m20 0h1m1 0h1m3 0h1m9 0h1m14 0h1m10 0h1m13 0h1m11 0h1m7 0h1m1 0h1m29 0h1m11 0h1m26 0h1m4 0h2m9 0h1m5 0h1m4 0h1m2 0h1m1 0h1m4 0h1m7 0h1m20 0h1m14 0h1m7 0h1m6 0h1m6 0h1m2 0h1m18 0h1m10 0h1m2 0h1m4 0h2m23 0h1m4 0h2m9 0h1m3 0h1M20 4.5h1m42 0h1m4 0h1m43 0h1m8 0h2m13 0h1m5 0h1m14 0h1m12 0h1m25 0h3m8 0h1m33 0h1m3 0h1m2 0h1m9 0h1m3 0h1m1 0h1m61 0h1m3 0h1m7 0h1m4 0h1m8 0h1m4 0h1m8 0h1m4 0h1m17 0h1m4 0h1m39 0h1m11 0h1m18 0h1M7 5.5h2m2 0h1m7 0h1m9 0h1m16 0h1m3 0h1m26 0h1m11 0h1m4 0h2m7 0h2m1 0h1m4 0h1m6 0h1m1 0h1m2 0h1m6 0h1m7 0h2m4 0h1m1 0h1m2 0h1m1 0h1m1 0h1m7 0h1m32 0h1m16 0h1m18 0h1m9 0h1m8 0h2m3 0h1m4 0h1m10 0h1m16 0h1m1 0h1m19 0h1m7 0h1m2 0h1m24 0h1m9 0h1m4 0h1m29 0h1m1 0h1m11 0h1m4 0h1m5 0h1m11 0h1m1 0h1m22 0h1m5 0h1m7 0h1M1 6.5h1m9 0h1m20 0h1m2 0h3m5 0h1m3 0h1m5 0h1m7 0h1m6 0h1m4 0h1m3 0h1m6 0h1m11 0h2m4 0h1m3 0h1m9 0h1m7 0h1m9 0h1m16 0h1m1 0h1m4 0h1m3 0h1m8 0h1m9 0h1m18 0h2m1 0h3m3 0h1m3 0h1m5 0h2m12 0h1m4 0h1m4 0h1m2 0h1m2 0h1m5 0h1m5 0h1m25 0h1m21 0h1m13 0h1m24 0h2m4 0h1m2 0h1m6 0h1m19 0h1m16 0h1m3 0h3m6 0h1m3 0h1m16 0h1m1 0h1m16 0h1m2 0h2m10 0h1M2 7.5h1m1 0h1m10 0h1m3 0h1m4 0h1m4 0h1m8 0h1m19 0h1m9 0h1m5 0h1m13 0h1m3 0h1m6 0h1m2 0h1m7 0h1m12 0h1m7 0h1m4 0h1m8 0h1m18 0h4m3 0h1m9 0h1m20 0h1m24 0h1m11 0h1m2 0h1m1 0h1m14 0h1m11 0h1m14 0h1m5 0h1m3 0h2m22 0h1m3 0h1m1 0h1m2 0h1m9 0h1m11 0h1m6 0h1m3 0h1m20 0h2m1 0h1m1 0h1m2 0h1m18 0h1m23 0h1m2 0h1m12 0h1m1 0h1m5 0h1m9 0h1M1 8.5h1m4 0h1m32 0h2m3 0h2m14 0h1m1 0h1m13 0h1m4 0h1m5 0h2m5 0h1m13 0h1m11 0h3m5 0h3m3 0h1m15 0h1m1 0h1m2 0h1m12 0h1m17 0h1m4 0h1m4 0h1m11 0h1m5 0h1m14 0h1m3 0h1m9 0h1m5 0h1m2 0h1m12 0h2m32 0h1m6 0h1m5 0h1m11 0h1m4 0h1m15 0h1m6 0h2m6 0h1m20 0h1m4 0h1m10 0h1m1 0h1m7 0h1m3 0h1m6 0h1m16 0h1m16 0h1m14 0h1m1 0h1M4 9.5h1m2 0h1m4 0h1m1 0h1m2 0h1m11 0h1m22 0h1m1 0h1m10 0h1m1 0h1m13 0h1m1 0h1m4 0h1m6 0h1m1 0h1m29 0h1m10 0h1m6 0h1m3 0h1m24 0h1m2 0h1m6 0h1m2 0h1m13 0h1m3 0h2m23 0h1m2 0h1m4 0h1m22 0h1m14 0h1m5 0h1m10 0h1m2 0h2m5 0h1m9 0h1m1 0h1m1 0h1m12 0h1m8 0h1m15 0h1m40 0h1m6 0h1m18 0h1m18 0h1m15 0h1m4 0h1M0 10.5h1m21 0h1m18 0h3m1 0h1m13 0h1m17 0h1m4 0h1m3 0h1m8 0h1m3 0h2m21 0h1m30 0h1m13 0h1m10 0h1m1 0h1m9 0h2m9 0h1m21 0h1m6 0h1m4 0h3m1 0h1m20 0h2m22 0h1m5 0h1m4 0h1m8 0h1m5 0h1m7 0h1m4 0h1m3 0h1m5 0h1m9 0h1m5 0h1m21 0h1m10 0h1m12 0h1m3 0h1m3 0h1m12 0h2m7 0h1m7 0h1m27 0h1M20 11.5h1m9 0h1m1 0h1m13 0h1m5 0h1m4 0h1m9 0h1m2 0h1m29 0h1m2 0h1m51 0h1m16 0h3m4 0h1m20 0h1m1 0h1m5 0h1m11 0h1m2 0h1m6 0h1m7 0h1m11 0h1m7 0h1m44 0h2m4 0h1m16 0h1m21 0h1m5 0h1m23 0h1m5 0h1m6 0h1m4 0h1m13 0h1m1 0h2m4 0h2m12 0h1m3 0h1m1 0h2m13 0h1m12 0h1M57 12.5h1m6 0h1m5 0h1m9 0h1m14 0h1m3 0h1m8 0h1m20 0h1m37 0h1m5 0h1m17 0h1m1 0h1m7 0h1m8 0h1m4 0h1m11 0h1m1 0h1m3 0h1m6 0h1m7 0h1m14 0h1m6 0h1m34 0h1m6 0h2m17 0h1m8 0h2m14 0h1m51 0h1m3 0h1m19 0h1m2 0h1m1 0h1m3 0h1m26 0h1M62 13.5h1m32 0h2m3 0h3m8 0h2m12 0h2m20 0h1m2 0h1m6 0h1m8 0h1m3 0h1m8 0h2m7 0h1m5 0h1m46 0h1m10 0h1m11 0h2m8 0h1m4 0h2m12 0h1m19 0h1m12 0h1m7 0h1m11 0h1m4 0h1m3 0h1m11 0h1m17 0h1m18 0h1m1 0h1m5 0h1m20 0h1m1 0h1m8 0h1m2 0h1m7 0h1m3 0h1m4 0h1M14 14.5h1m2 0h1m1 0h1m4 0h1m4 0h1m26 0h1m43 0h1m7 0h1m1 0h1m6 0h1m6 0h1m8 0h1m4 0h1m3 0h1m13 0h1m4 0h1m40 0h1m8 0h1m22 0h1m2 0h1m1 0h1m1 0h1m11 0h1m3 0h1m10 0h2m7 0h2m23 0h1m15 0h2m19 0h4m7 0h1m19 0h2m1 0h1m9 0h1m4 0h3m1 0h1m3 0h1m6 0h2m6 0h1m5 0h1m11 0h1m4 0h1m8 0h1m3 0h2m4 0h1m8 0h1M3 15.5h1m28 0h1m15 0h1m18 0h1m2 0h1m46 0h1m14 0h1m17 0h1m21 0h1m2 0h1m15 0h1m11 0h1m6 0h1m3 0h1m9 0h1m6 0h1m3 0h2m5 0h1m5 0h1m5 0h1m4 0h1m4 0h2m2 0h1m7 0h2m1 0h1m7 0h1m16 0h2m5 0h1m9 0h1m1 0h1m4 0h1m14 0h2m1 0h1m12 0h2m9 0h1m2 0h1m27 0h2m8 0h2m3 0h1m6 0h1m8 0h1m7 0h1m11 0h1M4 16.5h2m1 0h1m12 0h1m7 0h2m20 0h1m14 0h1m1 0h1m2 0h1m5 0h1m12 0h2m65 0h1m1 0h1m9 0h1m20 0h1m6 0h1m18 0h1m17 0h2m4 0h1m22 0h1m8 0h1m2 0h1m9 0h3m4 0h1m7 0h1m6 0h1m7 0h1m10 0h1m2 0h1m19 0h1m3 0h1m3 0h1m3 0h2m4 0h1m9 0h1m5 0h1m7 0h1m7 0h1m3 0h1m1 0h3m12 0h1m1 0h1m5 0h1m9 0h1m10 0h1m12 0h1M177 17.5h1m16 0h1m6 0h1m10 0h1m18 0h1m16 0h1m13 0h1m5 0h1m7 0h1m9 0h1m5 0h1m2 0h1m12 0h1m21 0h1m2 0h1m4 0h1m18 0h1m9 0h2m4 0h1m6 0h1m18 0h1m1 0h1m5 0h1m7 0h1m13 0h1m4 0h1m4 0h1m2 0h1m10 0h1m5 0h1m2 0h1M26 18.5h1m16 0h1m171 0h1m16 0h2m36 0h1m1 0h2m1 0h1m8 0h1m4 0h1m1 0h4m3 0h1m35 0h1m28 0h1m6 0h1m17 0h2m21 0h1m1 0h1m38 0h1m5 0h1m9 0h1M8 19.5h1m5 0h1m2 0h1m20 0h1m4 0h1m11 0h1m9 0h1m8 0h1m38 0h1m165 0h1m33 0h1m15 0h1m35 0h1m3 0h1m32 0h1m38 0h1M4 20.5h1m7 0h2m13 0h1m2 0h1m14 0h1m3 0h1m13 0h1m17 0h1m18 0h1m13 0h1m5 0h2m5 0h2m5 0h1m12 0h2m20 0h1m14 0h1m10 0h1m268 0h1M10 21.5h1m4 0h1m17 0h1m4 0h2m9 0h1m2 0h1m5 0h1m5 0h1m5 0h1m8 0h1m8 0h1m3 0h1m7 0h1m3 0h1m5 0h1m19 0h1m19 0h1m20 0h1m14 0h2m5 0h1m2 0h1m20 0h1m32 0h1m2 0h1m145 0h1m1 0h1m15 0h1m18 0h1m5 0h1m4 0h2m12 0h1m4 0h1M5 22.5h1m9 0h1m17 0h1m6 0h1m20 0h2m1 0h1m17 0h1m7 0h2m32 0h2m9 0h1m4 0h1m9 0h1m25 0h1m2 0h1m23 0h1m12 0h1m10 0h1m10 0h1m20 0h1m6 0h1m21 0h2m6 0h1M8 23.5h2m3 0h1m2 0h1m3 0h1m19 0h1m8 0h2m4 0h1m21 0h1m4 0h1m8 0h2m2 0h1m3 0h1m11 0h1m19 0h1m29 0h1m20 0h1m1 0h1m5 0h2m2 0h1m2 0h1m5 0h1m3 0h1m4 0h1m1 0h1m24 0h1m11 0h1m4 0h1m6 0h1m2 0h1m7 0h1m9 0h1m9 0h1m12 0h1m15 0h1m12 0h1m12 0h1m1 0h1M1 24.5h1m27 0h2m8 0h1m35 0h1m11 0h1m1 0h1m6 0h2m14 0h1m11 0h1m3 0h1m7 0h1m1 0h2m12 0h1m25 0h1m26 0h1m11 0h1m3 0h2m4 0h1m1 0h1m14 0h1m4 0h1m17 0h1m3 0h1m5 0h1m27 0h1m5 0h1m2 0h1m24 0h1m16 0h1m1 0h2m7 0h1m26 0h1m32 0h1m19 0h1m13 0h1M17 25.5h1m3 0h1m1 0h2m7 0h1m7 0h1m8 0h2m3 0h1m74 0h1m12 0h1m7 0h1m2 0h1m14 0h1m1 0h1m3 0h1m5 0h1m11 0h1m7 0h2m11 0h1m12 0h1m4 0h1m3 0h1m10 0h1m6 0h1m11 0h1m34 0h1m14 0h2m6 0h1m11 0h2m4 0h1m29 0h1m12 0h1m8 0h1m1 0h1m10 0h1m3 0h1m26 0h1m17 0h1m1 0h1m2 0h2M11 26.5h1m4 0h1m12 0h1m20 0h1m7 0h1m2 0h1m17 0h1m2 0h1m15 0h3m13 0h2m13 0h1m1 0h1m7 0h1m12 0h2m4 0h1m5 0h3m1 0h2m1 0h1m1 0h1m21 0h1m1 0h1m3 0h1m7 0h1m8 0h1m21 0h1m7 0h1m16 0h1m3 0h1m9 0h4m18 0h1m5 0h1m23 0h1m26 0h1m10 0h1m3 0h1m11 0h1m37 0h1m8 0h1m1 0h1m4 0h1m10 0h1m4 0h1m3 0h1m2 0h1m3 0h1m2 0h1M7 27.5h1m7 0h1m3 0h2m15 0h1m19 0h1m7 0h1m6 0h1m10 0h2m1 0h1m11 0h1m4 0h1m17 0h1m5 0h1m10 0h1m18 0h1m11 0h1m7 0h1m4 0h1m5 0h1m11 0h1m3 0h1m16 0h1m33 0h1m11 0h1m8 0h1m3 0h1m42 0h1m4 0h1m18 0h1m17 0h1m4 0h1m12 0h1m1 0h2m14 0h1m24 0h1m1 0h1m2 0h1m14 0h1m4 0h1m10 0h1m1 0h2M87 28.5h1m7 0h2m21 0h1m11 0h1m31 0h1m11 0h1m19 0h1m18 0h1m10 0h1m54 0h1m1 0h1m13 0h1m3 0h1m8 0h1m29 0h1m11 0h1m2 0h1m11 0h1m4 0h1m8 0h1m2 0h1m9 0h1m17 0h1m11 0h1m4 0h2m2 0h1m6 0h2m10 0h1m13 0h1m3 0h2M202 29.5h1m5 0h1m18 0h2m7 0h2m2 0h1m10 0h1m3 0h1m1 0h1m12 0h1m3 0h1m5 0h1m16 0h1m1 0h1m3 0h1m1 0h1m5 0h1m9 0h1m12 0h1m25 0h1m20 0h1m2 0h1m2 0h1m5 0h1m3 0h1m27 0h1m6 0h1m18 0h1m11 0h1m2 0h1M20 30.5h1m216 0h1m1 0h1m30 0h1m8 0h1m8 0h1m2 0h1m2 0h1m7 0h2m20 0h1m7 0h1m11 0h2m4 0h1m1 0h1m10 0h1m4 0h1m1 0h1m1 0h1m6 0h1m1 0h1m2 0h1m7 0h1m1 0h1m15 0h3m1 0h2m15 0h1m2 0h1m13 0h1m11 0h2m3 0h1M2 31.5h2m8 0h1m8 0h2m8 0h1m21 0h1m5 0h1m70 0h1m2 0h1m2 0h1m2 0h1m4 0h1m5 0h1m10 0h1m144 0h1m45 0h2m1 0h1m8 0h1m1 0h1m1 0h1m2 0h1m12 0h1m6 0h1m4 0h1m14 0h2m15 0h1m1 0h1m1 0h1M19 32.5h1m5 0h2m12 0h1m8 0h2m3 0h1m2 0h1m16 0h1m5 0h1m3 0h1m1 0h1m18 0h1m45 0h1m16 0h1m17 0h1m1 0h1m21 0h1m24 0h1m144 0h1m10 0h4m7 0h2m20 0h1m2 0h1m10 0h1m5 0h3m3 0h1M20 33.5h1m1 0h1m2 0h2m6 0h1m8 0h1m16 0h1m26 0h1m10 0h2m2 0h1m69 0h1m5 0h1m36 0h1m26 0h2m5 0h1m5 0h1m2 0h1m6 0h1m18 0h1m150 0h1m11 0h1m3 0h1m8 0h1m2 0h1M6 34.5h1m13 0h1m5 0h1m2 0h1m27 0h1m24 0h1m1 0h1m8 0h1m2 0h1m3 0h1m15 0h1m78 0h1m8 0h1m19 0h1m9 0h1m8 0h1m4 0h1m10 0h1m2 0h1m8 0h2m6 0h2m9 0h1m14 0h1m11 0h1m6 0h1m6 0h1m20 0h1M6 35.5h1m3 0h2m8 0h1m8 0h1m17 0h1m16 0h1m26 0h1m1 0h1m17 0h1m3 0h1m23 0h1m6 0h1m46 0h1m26 0h1m6 0h1m42 0h1m24 0h1m36 0h1m28 0h1m19 0h1m9 0h1m3 0h1M6 36.5h1m13 0h1m20 0h1m37 0h1m39 0h1m6 0h1m12 0h1m21 0h1m194 0h1m42 0h2M0 37.5h1m2 0h1m16 0h1m9 0h1m35 0h1m7 0h1m5 0h1m6 0h1m15 0h1m27 0h1m22 0h2m4 0h1m25 0h1m5 0h1m57 0h2m56 0h1m35 0h1m49 0h1m3 0h1m28 0h2m21 0h1M6 38.5h1m6 0h1m1 0h2m1 0h1m4 0h1m6 0h1m22 0h2m2 0h1m11 0h1m1 0h1m2 0h1m6 0h1m2 0h1m6 0h1m9 0h1m6 0h1m12 0h1m3 0h1m26 0h1m2 0h1m37 0h1m9 0h1m20 0h1m13 0h1m2 0h2m4 0h2m4 0h1m17 0h1m8 0h1m10 0h1m5 0h1m1 0h1m4 0h2m3 0h1m21 0h1m6 0h1m2 0h2m35 0h1m25 0h1m8 0h1m5 0h1m3 0h1m2 0h1m13 0h1m7 0h1m9 0h2m9 0h1M12 39.5h2m2 0h1m7 0h1m2 0h1m22 0h2m4 0h1m8 0h1m11 0h1m26 0h2m7 0h1m14 0h1m26 0h3m3 0h1m12 0h1m7 0h1m24 0h1m40 0h1m2 0h1m1 0h1m12 0h1m7 0h1m19 0h1m8 0h1m1 0h1m8 0h1m10 0h1m14 0h2m7 0h1m9 0h1m6 0h3m11 0h1m1 0h1m16 0h1m26 0h1m7 0h1m21 0h1m2 0h2M2 40.5h1m2 0h1m4 0h1m31 0h1m1 0h1m2 0h1m11 0h3m10 0h1m16 0h1m8 0h1m36 0h1m8 0h1m2 0h1m4 0h1m1 0h1m10 0h1m14 0h1m3 0h1m2 0h1m21 0h1m4 0h1m4 0h1m1 0h1m3 0h2m12 0h1m20 0h1m9 0h1m1 0h1m4 0h1m3 0h1m9 0h1m5 0h1m9 0h1m14 0h1m5 0h3m20 0h1m11 0h1m7 0h1m15 0h1m3 0h1m34 0h1m25 0h1m12 0h1M11 41.5h1m1 0h1m13 0h2m10 0h1m12 0h1m5 0h1m8 0h1m9 0h1m13 0h1m3 0h2m32 0h2m6 0h1m36 0h2m6 0h1m6 0h1m15 0h1m5 0h1m2 0h1m8 0h2m16 0h2m16 0h1m4 0h1m14 0h3m12 0h1m14 0h1m2 0h1m5 0h2m10 0h1m5 0h1m38 0h1m7 0h1m14 0h1m6 0h1m1 0h2m8 0h1m34 0h1m11 0h1M7 42.5h1m15 0h1m5 0h1m1 0h2m24 0h1m4 0h1m15 0h1m9 0h1m2 0h1m8 0h1m16 0h2m4 0h1m8 0h1m18 0h1m22 0h1m6 0h1m8 0h1m1 0h1m12 0h1m4 0h1m14 0h1m15 0h1m1 0h1m19 0h1m1 0h1m10 0h1m2 0h1m13 0h1m2 0h1m10 0h1m2 0h1m18 0h1m6 0h1m17 0h1m1 0h1m22 0h1m4 0h1m5 0h1m3 0h1m11 0h2m30 0h1m2 0h1m11 0h1m11 0h1M0 43.5h2m13 0h1m13 0h1m31 0h1m1 0h1m28 0h1m2 0h1m4 0h2m12 0h1m2 0h1m24 0h1m8 0h1m13 0h1m6 0h1m6 0h1m10 0h1m5 0h1m3 0h1m10 0h1m7 0h1m3 0h3m9 0h1m3 0h1m2 0h1m8 0h1m3 0h1m2 0h1m15 0h1m5 0h1m12 0h1m21 0h1m22 0h1m4 0h1m14 0h1m22 0h1m18 0h1m5 0h1m3 0h1m4 0h1m5 0h1m2 0h2m20 0h1m8 0h1m7 0h1M4 44.5h1m7 0h1m10 0h1m3 0h1m10 0h1m3 0h1m29 0h1m5 0h1m4 0h1m1 0h1m18 0h1m6 0h1m4 0h2m1 0h1m14 0h1m1 0h1m8 0h1m9 0h1m9 0h1m14 0h1m10 0h1m10 0h1m6 0h1m3 0h1m11 0h2m16 0h1m2 0h1m43 0h1m9 0h1m21 0h1m8 0h1m6 0h1m8 0h1m20 0h1m11 0h2m1 0h1m1 0h2m16 0h1m3 0h2m3 0h2m1 0h1m16 0h2m16 0h1m3 0h4m10 0h1M2 45.5h1m11 0h1m3 0h1m12 0h1m6 0h1m13 0h1m3 0h1m2 0h1m3 0h1m84 0h1m3 0h1m4 0h1m8 0h1m13 0h2m26 0h1m11 0h1m7 0h1m5 0h1m7 0h1m4 0h1m3 0h2m3 0h2m3 0h2m3 0h1m5 0h1m6 0h2m8 0h1m5 0h1m5 0h1m21 0h1m3 0h1m9 0h1m2 0h1m3 0h1m19 0h1m10 0h1m18 0h1m6 0h1m23 0h1m5 0h1m16 0h1m17 0h1M4 46.5h1m3 0h2m57 0h1m19 0h1m19 0h1m3 0h1m16 0h2m4 0h1m9 0h1m3 0h1m18 0h1m12 0h1m24 0h1m2 0h1m5 0h1m3 0h1m13 0h1m1 0h2m6 0h2m2 0h2m4 0h1m2 0h1m7 0h1m13 0h1m2 0h1m5 0h3m8 0h1m3 0h1m1 0h1m8 0h1m3 0h3m5 0h1m6 0h1m8 0h2m16 0h1m6 0h1m3 0h2m4 0h1m2 0h1m25 0h1m14 0h1m2 0h1m2 0h1m16 0h1m2 0h1m1 0h1M48 47.5h1m6 0h1m2 0h1m2 0h1m8 0h1m2 0h1m7 0h1m9 0h1m10 0h1m24 0h1m10 0h1m7 0h1m1 0h1m26 0h1m3 0h1m2 0h1m7 0h1m33 0h1m15 0h1m30 0h1m1 0h2m23 0h1m18 0h1m2 0h1m21 0h1m5 0h1m24 0h1m12 0h1m9 0h1m5 0h2m6 0h1m9 0h1m37 0h1m8 0h1m1 0h1M5 48.5h1m7 0h1m54 0h2m4 0h1m10 0h1m17 0h1m18 0h1m1 0h1m10 0h1m8 0h1m1 0h1m8 0h1m29 0h2m7 0h1m10 0h1m1 0h1m1 0h1m13 0h1m4 0h1m24 0h1m14 0h1m1 0h1m2 0h1m6 0h1m17 0h1m4 0h1m4 0h1m16 0h1m3 0h1m27 0h1m4 0h1m20 0h3m2 0h1m2 0h1m1 0h1m11 0h1m9 0h1m2 0h1m1 0h2m12 0h1m1 0h1m3 0h1m3 0h1m2 0h1m8 0h1m2 0h1M0 49.5h1m21 0h2m1 0h1m17 0h1m20 0h1m17 0h1m8 0h2m12 0h1m13 0h1m10 0h1m12 0h1m5 0h1m11 0h1m23 0h1m57 0h1m8 0h1m23 0h1m12 0h1m2 0h1m2 0h1m2 0h1m14 0h1m13 0h1m7 0h1m5 0h4m5 0h1m1 0h1m3 0h1m14 0h1m11 0h1m7 0h1m1 0h1m9 0h1m5 0h1m4 0h1m14 0h1m9 0h1m18 0h1m9 0h2M8 50.5h1m2 0h1m4 0h1m3 0h1m1 0h1m2 0h1m16 0h1m4 0h3m9 0h1m2 0h1m13 0h2m1 0h1m4 0h1m18 0h1m3 0h2m13 0h1m6 0h1m2 0h1m14 0h1m17 0h1m41 0h1m3 0h1m2 0h1m4 0h1m1 0h1m4 0h1m8 0h1m1 0h2m35 0h1m4 0h1m1 0h1m20 0h1m3 0h1m1 0h1m20 0h2m3 0h1m13 0h2m15 0h1m2 0h2m10 0h2m10 0h1m13 0h1m7 0h1m34 0h1m13 0h1m4 0h1M11 51.5h1m6 0h1m2 0h1m1 0h1m14 0h1m6 0h1m7 0h1m5 0h1m22 0h1m26 0h1m30 0h1m11 0h1m13 0h1m1 0h1m10 0h1m2 0h1m8 0h1m8 0h1m7 0h1m1 0h1m15 0h1m3 0h1m16 0h1m9 0h1m8 0h1m23 0h1m10 0h1m6 0h1m1 0h5m36 0h1m8 0h2m9 0h1m9 0h1m2 0h1m11 0h1m15 0h1m3 0h2m18 0h2m4 0h1m15 0h1m3 0h1M6 52.5h1m1 0h1m1 0h1m8 0h1m14 0h1m13 0h1m13 0h1m6 0h1m40 0h1m40 0h2m28 0h1m31 0h1m5 0h3m2 0h2m1 0h1m4 0h1m7 0h1m6 0h1m13 0h2m3 0h1m1 0h1m19 0h1m8 0h1m1 0h1m15 0h1m5 0h1m8 0h1m7 0h1m2 0h1m24 0h1m7 0h1m4 0h1m19 0h1m6 0h1m4 0h1m4 0h1m5 0h1m7 0h1m4 0h1m3 0h1m2 0h1m7 0h1m11 0h2m3 0h2M3 53.5h1m1 0h1m17 0h1m9 0h1m4 0h1m10 0h1m18 0h1m5 0h1m2 0h1m1 0h1m29 0h1m10 0h1m6 0h1m4 0h1m13 0h1m2 0h1m8 0h1m11 0h1m11 0h1m4 0h2m10 0h1m2 0h1m3 0h1m18 0h1m4 0h1m14 0h1m18 0h1m6 0h1m6 0h1m8 0h1m10 0h1m24 0h1m4 0h1m1 0h1m2 0h2m8 0h1m18 0h1m16 0h1m7 0h1m11 0h1m4 0h1m25 0h1m2 0h1m10 0h1m3 0h1m3 0h1m13 0h2M12 54.5h1m4 0h1m6 0h1m15 0h1m7 0h1m1 0h1m5 0h1m1 0h1m12 0h1m11 0h1m19 0h1m30 0h2m20 0h1m5 0h1m18 0h1m10 0h1m1 0h1m2 0h1m22 0h3m1 0h1m36 0h1m10 0h1m27 0h1m48 0h1m1 0h3m32 0h1m5 0h1m16 0h1m5 0h1m4 0h1m20 0h1m3 0h1m4 0h1m6 0h1m5 0h1M7 55.5h1m10 0h1m28 0h1m6 0h1m5 0h1m3 0h1m41 0h1m1 0h1m6 0h1m7 0h1m1 0h1m12 0h1m5 0h1m8 0h1m2 0h1m29 0h1m6 0h1m15 0h1m34 0h1m4 0h1m16 0h1m13 0h2m4 0h2m34 0h2m10 0h1m29 0h1m32 0h2m31 0h1m2 0h1m13 0h2m18 0h2M16 56.5h1m7 0h3m1 0h1m2 0h1m5 0h1m26 0h1m2 0h1m5 0h1m20 0h1m4 0h1m5 0h1m11 0h1m22 0h1m18 0h1m23 0h1m15 0h1m21 0h1m9 0h1m26 0h1m2 0h3m1 0h1m9 0h1m8 0h1m1 0h1m1 0h1m4 0h1m1 0h1m5 0h1m2 0h2m1 0h1m8 0h1m5 0h1m15 0h1m3 0h1m1 0h1m1 0h1m4 0h3m15 0h2m1 0h2m1 0h1m21 0h1m39 0h1M4 57.5h1m6 0h1m1 0h1m1 0h2m4 0h1m1 0h1m14 0h2m14 0h2m10 0h1m1 0h1m22 0h1m11 0h1m1 0h1m9 0h1m5 0h2m7 0h1m24 0h1m11 0h1m1 0h1m15 0h1m10 0h1m1 0h1m12 0h1m14 0h1m3 0h1m2 0h1m5 0h1m18 0h1m25 0h1m5 0h1m14 0h1m4 0h1m3 0h1m4 0h1m10 0h1m8 0h1m25 0h1m3 0h1m13 0h2m10 0h1m3 0h1m6 0h1m24 0h1m9 0h1m7 0h1M7 58.5h1m9 0h1m11 0h1m2 0h1m11 0h1m12 0h1m9 0h1m4 0h1m19 0h1m10 0h1m9 0h1m2 0h1m18 0h1m1 0h1m17 0h1m12 0h1m19 0h2m19 0h1m7 0h1m33 0h1m8 0h1m3 0h1m6 0h1m14 0h1m5 0h1m3 0h1m5 0h1m5 0h1m31 0h1m4 0h1m3 0h1m1 0h1m19 0h1m35 0h1m5 0h1m1 0h2m16 0h1m9 0h1m13 0h1M2 59.5h1m11 0h2m18 0h1m1 0h1m9 0h1m3 0h1m17 0h3m1 0h2m9 0h1m12 0h2m10 0h1m12 0h2m13 0h1m5 0h1m12 0h1m3 0h1m3 0h1m2 0h1m21 0h1m9 0h1m35 0h1m4 0h1m1 0h1m1 0h2m4 0h1m14 0h1m3 0h1m15 0h1m15 0h1m7 0h1m40 0h2m15 0h1m11 0h1m5 0h1m5 0h1m17 0h1m7 0h1m3 0h1m2 0h1m29 0h1m1 0h1m3 0h1M7 60.5h2m3 0h1m10 0h1m3 0h1m19 0h1m4 0h1m10 0h2m18 0h1m10 0h1m13 0h1m22 0h1m1 0h1m13 0h1m10 0h1m4 0h1m4 0h1m3 0h1m7 0h1m7 0h1m7 0h1m4 0h1m7 0h1m8 0h2m7 0h2m30 0h1m1 0h1m4 0h1m15 0h1m8 0h1m16 0h1m19 0h1m8 0h1m3 0h3m1 0h1m11 0h2m5 0h1m60 0h2m12 0h1m5 0h2m4 0h1m4 0h3m2 0h1"/>
<path stroke="rgb(240,70,34)" d="M14 0.5h1m1 0h1m2 0h1m1 0h2m1 0h1m9 0h1m20 0h1m3 0h1m5 0h1m16 0h1m7 0h1m5 0h1m2 0h1m1 0h1m1 0h2m6 0h1m7 0h1m8 0h1m5 0h1m1 0h1m4 0h2m1 0h1m17 0h1m15 0h1m3 0h1m5 0h1m25 0h1m1 0h1m1 0h1m4 0h1m4 0h1m1 0h1m11 0h1m4 0h2m6 0h1m2 0h1m6 0h1m8 0h2m10 0h2m9 0h1m4 0h1m19 0h1m4 0h1m5 0h1m2 0h1m5 0h1m21 0h1m6 0h1m9 0h1m2 0h1m5 0h1m16 0h2m4 0h3m2 0h1m5 0h1m2 0h2m6 0h2m9 0h1m1 0h1m3 0h2M3 1.5h1m17 0h1m10 0h1m13 0h1m1 0h1m1 0h1m20 0h2m6 0h1m5 0h1m1 0h1m1 0h1m4 0h1m19 0h1m3 0h2m2 0h1m5 0h1m5 0h1m8 0h1m19 0h1m13 0h1m1 0h1m6 0h1m7 0h1m5 0h2m15 0h1m3 0h1m7 0h1m45 0h1m3 0h1m1 0h1m1 0h1m4 0h1m7 0h1m12 0h1m2 0h1m7 0h1m2 0h1m15 0h1m8 0h1m3 0h1m4 0h2m15 0h1m1 0h1m5 0h1m11 0h1m1 0h1m1 0h1m2 0h2m8 0h1m14 0h1m1 0h1m2 0h1m1 0h1m17 0h1m8 0h1M3 2.5h3m7 0h1m10 0h1m10 0h2m2 0h1m1 0h2m3 0h1m1 0h1m9 0h1m2 0h1m8 0h2m6 0h1m10 0h1m19 0h1m1 0h1m5 0h2m8 0h1m31 0h1m6 0h1m5 0h2m7 0h1m4 0h1m1 0h1m2 0h1m15 0h2m27 0h1m7 0h1m12 0h1m6 0h1m5 0h3m1 0h1m9 0h1m7 0h1m12 0h1m2 0h2m3 0h1m24 0h1m4 0h1m26 0h1m2 0h1m4 0h1m1 0h1m6 0h1m6 0h4m14 0h1m3 0h1m16 0h1m9 0h1m8 0h1m1 0h1m7 0h1M14 3.5h1m4 0h1m5 0h1m1 0h3m2 0h1m2 0h2m21 0h1m9 0h1m4 0h1m11 0h1m3 0h1m1 0h1m5 0h1m3 0h1m26 0h1m2 0h2m4 0h1m30 0h1m1 0h1m12 0h1m8 0h1m11 0h1m2 0h1m2 0h1m26 0h2m4 0h2m9 0h1m5 0h1m3 0h1m8 0h1m2 0h1m11 0h1m3 0h2m9 0h1m4 0h1m2 0h1m4 0h1m3 0h1m1 0h1m5 0h1m13 0h3m12 0h1m8 0h2m2 0h4m3 0h1m10 0h2m7 0h1m17 0h1m11 0h1m25 0h1m5 0h1M8 4.5h1m8 0h1m5 0h1m3 0h1m2 0h1m3 0h1m4 0h1m5 0h1m18 0h1m4 0h1m16 0h1m10 0h1m12 0h1m5 0h1m11 0h1m2 0h1m1 0h1m13 0h1m1 0h1m4 0h1m6 0h1m12 0h1m6 0h1m4 0h1m14 0h1m3 0h1m2 0h1m5 0h1m21 0h2m8 0h1m3 0h1m5 0h1m32 0h1m3 0h1m28 0h1m4 0h1m3 0h1m10 0h1m1 0h1m14 0h1m3 0h1m12 0h1m6 0h1m15 0h1m9 0h1m12 0h1m8 0h1m12 0h1m4 0h2m5 0h1m3 0h1m7 0h2M6 5.5h1m25 0h1m2 0h1m1 0h1m11 0h1m1 0h1m9 0h2m2 0h1m4 0h1m17 0h1m1 0h2m20 0h1m24 0h1m12 0h1m9 0h1m2 0h1m13 0h1m3 0h1m11 0h1m1 0h1m17 0h3m3 0h1m5 0h1m6 0h1m8 0h1m25 0h1m10 0h1m4 0h1m1 0h1m9 0h1m5 0h1m5 0h2m13 0h1m6 0h2m4 0h1m4 0h2m2 0h1m65 0h2m6 0h1m5 0h1m23 0h1m4 0h1M16 6.5h1m3 0h1m20 0h1m12 0h1m4 0h1m5 0h1m34 0h1m11 0h1m4 0h1m8 0h2m7 0h2m3 0h1m4 0h1m4 0h1m10 0h1m2 0h1m3 0h2m7 0h1m4 0h1m2 0h1m21 0h1m8 0h1m5 0h1m8 0h1m9 0h1m20 0h2m8 0h1m2 0h1m9 0h1m3 0h3m1 0h1m2 0h1m13 0h1m27 0h1m3 0h2m2 0h2m19 0h1m6 0h1m20 0h1m7 0h1m8 0h1m9 0h1m11 0h1m1 0h1m2 0h2m6 0h3m3 0h1m9 0h1M14 7.5h1m6 0h1m8 0h1m8 0h1m3 0h1m1 0h1m1 0h1m4 0h1m2 0h3m2 0h3m4 0h1m8 0h2m9 0h1m8 0h1m22 0h1m10 0h1m1 0h1m4 0h1m12 0h1m3 0h1m23 0h2m2 0h1m3 0h1m9 0h1m28 0h1m5 0h2m4 0h1m16 0h1m9 0h2m6 0h1m1 0h1m1 0h1m2 0h1m3 0h1m4 0h4m12 0h1m6 0h2m1 0h1m12 0h1m2 0h1m13 0h1m3 0h1m8 0h1m8 0h1m5 0h1m4 0h1m17 0h1m6 0h1m15 0h1m25 0h1m2 0h1m6 0h1m5 0h1m2 0h1m3 0h1M11 8.5h1m1 0h1m1 0h1m18 0h1m3 0h1m14 0h1m5 0h1m1 0h1m15 0h1m15 0h1m19 0h1m3 0h1m8 0h1m8 0h1m10 0h1m20 0h1m4 0h1m44 0h1m23 0h2m3 0h1m4 0h1m1 0h1m17 0h1m9 0h1m8 0h1m3 0h1m7 0h1m1 0h1m2 0h3m3 0h1m4 0h1m2 0h2m8 0h1m10 0h1m13 0h3m6 0h1m5 0h1m10 0h2m9 0h1m11 0h2m8 0h1m4 0h1m8 0h1m1 0h1m8 0h3m2 0h1m3 0h1m7 0h1M1 9.5h1m4 0h1m6 0h1m2 0h1m7 0h1m3 0h1m10 0h1m1 0h1m6 0h1m11 0h2m2 0h1m4 0h1m15 0h2m6 0h1m8 0h1m13 0h1m8 0h1m17 0h1m2 0h1m13 0h1m3 0h1m1 0h1m1 0h1m6 0h1m17 0h1m6 0h1m3 0h1m5 0h1m2 0h1m5 0h2m8 0h1m6 0h1m9 0h1m1 0h1m5 0h2m4 0h1m3 0h1m8 0h1m1 0h1m5 0h1m9 0h2m25 0h1m2 0h1m1 0h2m1 0h1m19 0h1m2 0h1m6 0h1m9 0h1m11 0h1m14 0h1m10 0h1m15 0h2m1 0h2m20 0h1m15 0h1m3 0h1M11 10.5h1m2 0h1m1 0h1m3 0h1m7 0h1m5 0h2m8 0h1m1 0h2m1 0h2m10 0h1m26 0h1m4 0h1m17 0h1m21 0h2m2 0h1m2 0h1m6 0h1m3 0h1m2 0h3m5 0h1m3 0h1m2 0h1m5 0h3m5 0h1m2 0h1m2 0h1m6 0h1m6 0h2m1 0h1m6 0h1m8 0h1m1 0h2m1 0h1m6 0h1m5 0h1m15 0h1m5 0h1m20 0h1m19 0h1m31 0h1m2 0h1m2 0h1m4 0h1m7 0h1m4 0h1m6 0h1m29 0h1m1 0h1m1 0h1m6 0h1m1 0h1m21 0h1m28 0h1M11 11.5h1m22 0h1m2 0h1m1 0h1m8 0h1m17 0h1m13 0h1m1 0h1m1 0h1m6 0h1m14 0h1m7 0h1m1 0h2m8 0h1m15 0h2m21 0h2m8 0h1m15 0h1m21 0h1m13 0h1m1 0h1m1 0h1m2 0h2m3 0h1m12 0h1m15 0h1m2 0h1m6 0h1m2 0h1m4 0h1m1 0h1m5 0h1m1 0h1m4 0h1m4 0h1m8 0h2m10 0h1m7 0h1m6 0h1m1 0h1m2 0h1m12 0h1m10 0h1m3 0h2m12 0h2m4 0h1m4 0h1m8 0h1m7 0h1m10 0h2m7 0h1m2 0h1m10 0h1M9 12.5h1m35 0h1m2 0h1m2 0h1m25 0h1m18 0h1m13 0h1m2 0h1m12 0h1m23 0h2m1 0h2m5 0h1m13 0h2m6 0h1m3 0h1m13 0h1m1 0h1m4 0h1m10 0h1m2 0h1m10 0h1m6 0h1m20 0h1m1 0h1m3 0h1m2 0h1m27 0h1m8 0h1m3 0h2m5 0h1m6 0h1m12 0h1m4 0h1m12 0h1m17 0h1m1 0h1m11 0h1m8 0h1m6 0h1m10 0h1m51 0h1M2 13.5h2m1 0h1m1 0h1m1 0h1m76 0h1m23 0h1m2 0h1m6 0h1m6 0h1m5 0h1m1 0h1m4 0h1m8 0h1m10 0h1m7 0h1m9 0h1m4 0h1m3 0h1m4 0h1m7 0h1m1 0h2m12 0h1m6 0h1m4 0h1m4 0h1m14 0h2m1 0h1m1 0h1m17 0h1m1 0h1m1 0h1m1 0h1m4 0h1m4 0h1m1 0h1m7 0h1m12 0h1m10 0h1m19 0h1m5 0h2m4 0h1m11 0h2m11 0h1m5 0h1m12 0h1m1 0h1m13 0h1m7 0h1m10 0h1m24 0h2m1 0h1m5 0h1M3 14.5h1m3 0h3m44 0h1m51 0h2m5 0h1m15 0h1m2 0h1m4 0h1m1 0h1m3 0h1m2 0h1m1 0h2m1 0h1m1 0h1m8 0h1m5 0h1m7 0h1m1 0h1m3 0h1m8 0h2m16 0h1m3 0h2m2 0h1m5 0h1m2 0h1m4 0h1m6 0h1m10 0h1m8 0h1m5 0h1m25 0h1m8 0h1m1 0h1m2 0h1m5 0h1m23 0h1m9 0h2m16 0h1m2 0h2m1 0h2m12 0h1m1 0h1m8 0h1m16 0h1m2 0h1m2 0h1m14 0h1m6 0h1m7 0h1m2 0h1m2 0h1m5 0h1m7 0h1M2 15.5h1m1 0h1m21 0h1m3 0h1m18 0h1m8 0h2m52 0h1m6 0h1m15 0h1m1 0h2m16 0h1m8 0h1m1 0h1m9 0h2m4 0h1m2 0h1m35 0h1m6 0h2m2 0h1m40 0h1m4 0h1m6 0h1m12 0h1m9 0h1m1 0h1m4 0h1m9 0h1m7 0h2m21 0h1m15 0h1m5 0h1m2 0h1m8 0h1m29 0h1m23 0h1m16 0h2M11 16.5h1m31 0h1m2 0h1m13 0h1m5 0h1m7 0h2m22 0h2m3 0h1m9 0h1m26 0h1m7 0h1m21 0h1m5 0h1m13 0h1m15 0h1m20 0h1m10 0h1m4 0h2m6 0h1m4 0h2m7 0h2m12 0h1m1 0h1m7 0h1m10 0h1m4 0h1m12 0h1m2 0h1m8 0h1m11 0h1m12 0h1m22 0h1m15 0h1m4 0h1m16 0h1m8 0h2m3 0h1m5 0h1m3 0h1m3 0h1m23 0h1M164 17.5h1m18 0h1m18 0h1m12 0h1m4 0h2m8 0h1m9 0h1m5 0h2m1 0h1m6 0h1m4 0h1m2 0h1m1 0h1m4 0h1m7 0h1m1 0h1m9 0h1m1 0h1m12 0h1m22 0h1m5 0h1m10 0h1m2 0h1m6 0h1m2 0h1m23 0h1m7 0h2m4 0h1m7 0h1m8 0h1m3 0h3m9 0h3m4 0h1m8 0h1m17 0h1M19 18.5h1m24 0h1m52 0h1m122 0h2m13 0h1m17 0h1m11 0h1m1 0h1m6 0h1m1 0h1m1 0h1m11 0h1m28 0h1m7 0h1m17 0h1m8 0h3m11 0h1m17 0h1m5 0h1m1 0h1m1 0h1m1 0h1m5 0h2m8 0h1m3 0h1m3 0h1m8 0h1m7 0h1m11 0h1m4 0h1m9 0h1M0 19.5h1m11 0h1m10 0h1m2 0h2m25 0h1m5 0h1m3 0h1m18 0h2m10 0h1m2 0h1m5 0h1m10 0h1m5 0h1m1 0h1m1 0h1m1 0h2m169 0h1m3 0h1m2 0h1m23 0h1m2 0h1m9 0h1m12 0h2m2 0h1m13 0h1m1 0h1m2 0h1m9 0h1m38 0h1M0 20.5h1m4 0h1m12 0h1m9 0h1m6 0h1m15 0h1m4 0h1m7 0h1m11 0h1m5 0h2m17 0h1m6 0h1m26 0h3m3 0h1m2 0h1m6 0h1m2 0h1m4 0h1m2 0h1m70 0h1M20 21.5h1m1 0h2m3 0h1m2 0h1m3 0h1m18 0h1m1 0h2m5 0h1m14 0h1m7 0h1m23 0h1m11 0h1m1 0h1m2 0h1m6 0h1m4 0h1m1 0h1m2 0h1m2 0h1m7 0h1m3 0h1m6 0h1m3 0h1m5 0h1m2 0h1m2 0h1m8 0h1m10 0h1m1 0h1m21 0h2m6 0h1m164 0h1m17 0h1m4 0h1m27 0h1m5 0h1m6 0h1M0 22.5h2m5 0h1m6 0h1m20 0h1m23 0h2m4 0h1m3 0h1m1 0h1m2 0h1m9 0h1m2 0h1m1 0h1m2 0h1m19 0h2m3 0h1m3 0h1m14 0h1m7 0h2m5 0h1m8 0h1m4 0h1m5 0h1m18 0h2m3 0h1m1 0h1m2 0h2m8 0h1m2 0h1m9 0h1m2 0h1m6 0h2m19 0h1m13 0h1m28 0h1m20 0h2M12 23.5h1m9 0h1m5 0h1m10 0h1m1 0h1m1 0h1m4 0h1m13 0h3m7 0h2m7 0h1m26 0h1m11 0h1m18 0h1m4 0h1m10 0h2m6 0h1m4 0h2m3 0h1m15 0h1m6 0h1m16 0h1m1 0h1m17 0h1m4 0h1m2 0h1m8 0h1m7 0h2m2 0h1m10 0h1m2 0h1m8 0h1m4 0h1m7 0h2m1 0h1m6 0h2m3 0h1m11 0h1m5 0h2m13 0h1m5 0h1m3 0h1M0 24.5h1m2 0h1m1 0h3m1 0h1m4 0h2m3 0h1m6 0h1m16 0h1m5 0h1m3 0h1m4 0h1m6 0h1m4 0h1m12 0h1m20 0h2m3 0h1m10 0h3m4 0h1m5 0h1m7 0h1m12 0h1m1 0h1m16 0h1m3 0h1m1 0h2m5 0h1m16 0h1m14 0h2m6 0h1m10 0h2m1 0h1m22 0h1m5 0h1m3 0h1m2 0h1m6 0h1m3 0h1m2 0h1m7 0h1m2 0h1m7 0h1m23 0h1m12 0h1m5 0h2m14 0h1m7 0h1m22 0h1m19 0h1m26 0h1M4 25.5h1m1 0h2m4 0h1m13 0h1m1 0h1m1 0h1m7 0h1m12 0h1m7 0h1m1 0h1m1 0h1m14 0h1m6 0h1m2 0h1m14 0h1m3 0h2m2 0h1m7 0h1m2 0h1m4 0h2m3 0h1m15 0h1m5 0h2m1 0h1m5 0h1m26 0h1m7 0h2m20 0h1m6 0h1m22 0h3m24 0h1m2 0h1m6 0h1m3 0h1m3 0h1m8 0h1m1 0h1m6 0h1m11 0h1m3 0h1m1 0h1m5 0h1m4 0h1m1 0h1m12 0h1m1 0h1m2 0h1m4 0h1m4 0h1m7 0h1m2 0h1m15 0h1m5 0h1m2 0h1m11 0h1m12 0h1m2 0h1m13 0h1m2 0h1M0 26.5h1m8 0h1m7 0h1m1 0h1m1 0h1m25 0h1m5 0h2m2 0h1m5 0h2m10 0h1m1 0h2m1 0h2m2 0h1m4 0h1m1 0h1m18 0h1m1 0h1m3 0h1m8 0h1m23 0h3m26 0h1m1 0h1m9 0h2m2 0h1m4 0h1m8 0h1m3 0h1m1 0h2m11 0h1m2 0h1m29 0h1m2 0h1m3 0h2m3 0h1m1 0h1m3 0h1m4 0h1m9 0h1m3 0h1m2 0h1m2 0h1m2 0h1m2 0h1m4 0h1m10 0h1m11 0h1m7 0h1m19 0h1m4 0h1m3 0h2m15 0h1m1 0h1m1 0h2m3 0h1m2 0h1m1 0h1m1 0h1m18 0h1m4 0h1m6 0h1m10 0h1m1 0h1m4 0h1m4 0h1M26 27.5h1m10 0h1m3 0h1m1 0h1m1 0h2m6 0h1m14 0h1m9 0h1m5 0h1m6 0h2m2 0h1m4 0h1m2 0h1m4 0h2m17 0h1m21 0h1m1 0h1m1 0h1m9 0h1m26 0h1m3 0h1m23 0h1m7 0h1m8 0h1m10 0h1m40 0h1m4 0h1m3 0h1m3 0h2m28 0h1m4 0h1m5 0h1m1 0h2m2 0h1m5 0h1m11 0h1m1 0h1m3 0h1m6 0h1m4 0h1m4 0h1m1 0h1m18 0h1m2 0h1m1 0h1m5 0h1m3 0h1m10 0h1m13 0h1m9 0h2M97 28.5h1m61 0h1m15 0h1m6 0h1m9 0h1m21 0h1m7 0h1m6 0h1m10 0h1m11 0h1m4 0h1m8 0h1m8 0h1m16 0h1m3 0h1m13 0h1m3 0h1m1 0h1m3 0h1m7 0h1m12 0h1m5 0h1m6 0h1m20 0h1m1 0h2m4 0h1m6 0h1m16 0h1m12 0h1m5 0h1m6 0h2m1 0h1m7 0h1m2 0h1m1 0h1m7 0h1m2 0h1m6 0h1M199 29.5h2m15 0h1m5 0h1m29 0h1m1 0h1m4 0h1m12 0h1m12 0h1m3 0h2m13 0h1m1 0h1m2 0h1m7 0h1m12 0h1m17 0h3m4 0h1m20 0h1m12 0h1m6 0h1m1 0h1m6 0h2m10 0h1m15 0h2m8 0h1m1 0h1m3 0h1m2 0h1m7 0h2m5 0h1M1 30.5h1m5 0h1m4 0h1m5 0h1m5 0h2m1 0h1m1 0h1m15 0h1m5 0h1m179 0h1m22 0h2m21 0h1m2 0h1m23 0h1m3 0h1m19 0h1m5 0h1m2 0h1m9 0h1m1 0h1m9 0h2m1 0h1m6 0h1m5 0h3m4 0h1m4 0h1m2 0h1m22 0h1m3 0h1m1 0h1m1 0h2m7 0h1m8 0h1m22 0h1m6 0h1M1 31.5h1m14 0h1m6 0h2m27 0h1m19 0h1m4 0h1m54 0h1m21 0h1m1 0h2m147 0h1m23 0h1m15 0h1m11 0h1m3 0h1m3 0h1m1 0h1m11 0h1m5 0h1m9 0h1m2 0h2m13 0h1m15 0h1m3 0h1m6 0h1m13 0h1m13 0h1M0 32.5h1m4 0h1m7 0h1m28 0h1m4 0h1m7 0h1m4 0h1m3 0h2m2 0h2m16 0h1m52 0h1m18 0h1m2 0h1m4 0h1m8 0h1m4 0h1m2 0h1m11 0h1m10 0h1m13 0h1m10 0h1m175 0h2m1 0h2m1 0h1m19 0h1m1 0h1m14 0h1m9 0h2M2 33.5h1m3 0h1m5 0h1m5 0h1m2 0h1m1 0h1m3 0h2m9 0h2m3 0h1m10 0h1m8 0h1m1 0h1m5 0h1m3 0h1m6 0h2m10 0h1m9 0h2m64 0h1m4 0h1m5 0h1m9 0h1m2 0h1m9 0h2m15 0h1m8 0h1m7 0h1m4 0h1m1 0h1m3 0h1m3 0h1m1 0h1m5 0h1m6 0h1m17 0h1m17 0h1m110 0h1m37 0h1m12 0h1m1 0h1M7 34.5h1m5 0h2m1 0h1m2 0h1m11 0h1m2 0h1m9 0h2m9 0h1m2 0h1m2 0h1m33 0h1m2 0h2m1 0h1m22 0h1m3 0h1m4 0h1m5 0h1m42 0h1m8 0h1m21 0h1m2 0h1m5 0h1m5 0h1m7 0h1m7 0h1m18 0h1m2 0h1m2 0h1m6 0h1m1 0h1m4 0h1m1 0h1m17 0h1m3 0h1m11 0h1m18 0h1m6 0h1m3 0h1m5 0h1m1 0h1M4 35.5h1m2 0h2m4 0h2m2 0h1m14 0h2m7 0h1m4 0h1m16 0h1m2 0h3m2 0h1m2 0h3m2 0h1m10 0h1m1 0h1m9 0h1m13 0h1m5 0h1m1 0h1m7 0h1m2 0h1m1 0h1m18 0h1m43 0h1m2 0h1m32 0h1m1 0h1m14 0h1m8 0h1m10 0h1m3 0h1m6 0h1m2 0h1m6 0h1m47 0h1m7 0h1m6 0h2m9 0h1m36 0h1m3 0h1m6 0h1m4 0h1m1 0h1M0 36.5h1m8 0h1m1 0h1m10 0h1m8 0h1m1 0h1m3 0h1m7 0h1m18 0h1m5 0h1m18 0h1m6 0h1m6 0h1m4 0h1m5 0h1m12 0h1m2 0h1m28 0h1m15 0h1m212 0h1M7 37.5h1m2 0h2m3 0h1m5 0h1m23 0h1m1 0h1m4 0h1m4 0h2m4 0h2m8 0h1m4 0h1m6 0h1m7 0h2m2 0h2m9 0h1m2 0h1m3 0h3m5 0h1m3 0h1m14 0h1m2 0h1m2 0h1m1 0h1m29 0h1m1 0h1m5 0h3m4 0h2m128 0h1m13 0h1m24 0h1m1 0h2m29 0h1m11 0h1m10 0h1m8 0h1m19 0h1m19 0h1M2 38.5h1m17 0h1m1 0h1m10 0h1m6 0h3m4 0h2m9 0h1m1 0h1m19 0h1m14 0h1m1 0h1m2 0h1m6 0h1m2 0h1m3 0h2m2 0h1m1 0h1m1 0h1m3 0h1m6 0h1m2 0h1m2 0h1m9 0h2m18 0h1m12 0h2m1 0h1m5 0h2m26 0h1m2 0h2m11 0h1m8 0h2m9 0h1m9 0h1m1 0h1m4 0h1m2 0h1m9 0h2m11 0h1m2 0h1m1 0h1m2 0h1m13 0h1m6 0h4m4 0h3m8 0h1m3 0h1m2 0h1m3 0h1m4 0h1m10 0h1m6 0h1m5 0h1m28 0h1m2 0h1m12 0h1m4 0h2m11 0h1m3 0h1m13 0h1M4 39.5h1m3 0h1m13 0h1m8 0h1m1 0h1m3 0h1m5 0h1m11 0h1m6 0h1m6 0h1m3 0h1m1 0h1m14 0h1m10 0h1m12 0h1m4 0h2m1 0h1m6 0h1m14 0h1m13 0h1m1 0h1m3 0h1m8 0h1m1 0h1m1 0h1m6 0h1m8 0h1m1 0h1m5 0h1m4 0h1m11 0h1m7 0h1m9 0h1m30 0h1m12 0h1m3 0h1m14 0h1m1 0h1m18 0h3m4 0h1m4 0h1m12 0h1m1 0h1m4 0h1m1 0h1m3 0h1m3 0h1m2 0h1m11 0h1m3 0h1m1 0h1m5 0h1m43 0h1m6 0h2m8 0h2m5 0h1m3 0h1m5 0h1M4 40.5h1m6 0h1m6 0h1m3 0h1m9 0h1m7 0h2m7 0h1m34 0h1m2 0h2m2 0h1m2 0h1m7 0h1m16 0h2m5 0h1m15 0h1m18 0h2m13 0h1m5 0h1m5 0h1m11 0h1m11 0h1m2 0h1m7 0h2m11 0h1m21 0h1m5 0h1m6 0h1m7 0h1m2 0h1m6 0h1m4 0h1m8 0h1m6 0h1m8 0h1m1 0h1m3 0h1m8 0h1m3 0h1m6 0h1m1 0h1m4 0h1m11 0h1m2 0h1m1 0h2m1 0h1m1 0h1m4 0h1m12 0h1m3 0h2m1 0h1m6 0h1m14 0h1m28 0h1m7 0h1M6 41.5h1m7 0h1m4 0h1m3 0h1m2 0h1m14 0h1m5 0h1m1 0h1m15 0h1m14 0h1m6 0h1m1 0h1m3 0h1m8 0h1m1 0h1m4 0h1m5 0h1m25 0h1m11 0h1m22 0h1m4 0h1m18 0h1m8 0h2m16 0h3m4 0h1m4 0h1m23 0h1m1 0h2m9 0h1m16 0h1m16 0h1m2 0h2m2 0h1m2 0h1m17 0h1m5 0h1m1 0h1m3 0h1m8 0h1m1 0h2m5 0h1m4 0h1m10 0h1m7 0h1m21 0h1m3 0h1m21 0h1m5 0h1m8 0h1m2 0h1m2 0h1m1 0h1M8 42.5h1m2 0h1m8 0h1m5 0h1m19 0h2m8 0h1m3 0h1m5 0h1m7 0h1m4 0h1m1 0h1m8 0h1m16 0h1m8 0h1m5 0h1m5 0h1m1 0h2m1 0h1m2 0h2m4 0h1m4 0h1m6 0h1m2 0h2m5 0h2m2 0h1m1 0h1m9 0h1m7 0h1m5 0h1m3 0h1m3 0h1m3 0h1m7 0h1m6 0h1m24 0h1m1 0h1m3 0h1m2 0h1m12 0h1m12 0h1m9 0h1m2 0h1m2 0h1m2 0h1m1 0h1m9 0h1m1 0h1m8 0h1m4 0h1m20 0h1m1 0h1m3 0h1m8 0h1m13 0h1m2 0h2m5 0h1m4 0h1m14 0h1m1 0h1m3 0h1m1 0h1m3 0h1m10 0h2m1 0h1m2 0h1m4 0h1m24 0h1M4 43.5h1m4 0h1m18 0h1m5 0h1m1 0h1m8 0h2m9 0h1m5 0h1m3 0h2m1 0h1m2 0h2m1 0h1m7 0h1m6 0h1m3 0h1m8 0h1m6 0h2m3 0h1m7 0h1m15 0h1m1 0h1m3 0h2m2 0h1m5 0h1m11 0h1m17 0h1m5 0h1m7 0h1m9 0h1m11 0h1m12 0h1m18 0h1m21 0h1m8 0h1m2 0h1m3 0h1m2 0h1m1 0h1m5 0h2m8 0h3m1 0h1m3 0h1m7 0h1m2 0h1m1 0h1m8 0h1m7 0h1m3 0h1m16 0h1m5 0h1m5 0h1m11 0h1m15 0h1m5 0h1m10 0h1m11 0h1m21 0h1M14 44.5h1m3 0h2m28 0h1m21 0h1m5 0h1m28 0h1m29 0h1m1 0h1m4 0h1m3 0h1m9 0h1m9 0h1m1 0h1m2 0h2m1 0h1m4 0h1m12 0h1m1 0h1m8 0h1m4 0h1m11 0h1m8 0h1m10 0h1m1 0h1m1 0h1m5 0h2m1 0h1m5 0h1m21 0h1m32 0h1m1 0h1m3 0h1m3 0h1m11 0h2m1 0h1m1 0h1m4 0h1m9 0h1m1 0h1m1 0h1m8 0h1m7 0h1m1 0h1m14 0h1m3 0h1m5 0h1m4 0h2m17 0h1m1 0h2m7 0h2m6 0h3m3 0h1m9 0h1m2 0h1M8 45.5h1m1 0h2m7 0h1m4 0h2m3 0h2m5 0h1m7 0h1m3 0h4m3 0h1m24 0h1m4 0h1m2 0h1m5 0h1m5 0h2m4 0h1m2 0h1m5 0h2m21 0h1m3 0h1m3 0h1m11 0h1m3 0h1m2 0h1m25 0h1m4 0h1m2 0h1m5 0h1m1 0h1m23 0h1m1 0h1m1 0h2m11 0h1m24 0h2m10 0h1m2 0h1m4 0h1m8 0h1m7 0h2m3 0h1m6 0h1m26 0h1m1 0h1m11 0h1m7 0h1m4 0h1m11 0h2m1 0h2m2 0h3m4 0h1m16 0h1m1 0h1m7 0h2m5 0h1m1 0h1m11 0h2m2 0h1m10 0h1M21 46.5h1m5 0h1m22 0h2m3 0h1m7 0h1m12 0h1m15 0h2m18 0h1m18 0h1m1 0h1m12 0h1m8 0h1m3 0h2m3 0h1m13 0h1m3 0h2m1 0h1m7 0h1m16 0h1m4 0h1m1 0h1m5 0h1m27 0h1m12 0h1m10 0h1m6 0h1m1 0h2m16 0h1m3 0h1m8 0h1m16 0h1m1 0h1m13 0h1m3 0h1m2 0h2m3 0h2m11 0h1m3 0h1m15 0h1m7 0h1m1 0h1m2 0h1m30 0h1m3 0h1m6 0h3m12 0h2m2 0h2M2 47.5h2m7 0h1m5 0h1m1 0h1m2 0h1m4 0h2m4 0h1m1 0h1m1 0h1m7 0h1m13 0h1m28 0h3m7 0h1m2 0h1m8 0h2m3 0h1m4 0h1m16 0h1m1 0h1m12 0h1m10 0h1m6 0h1m3 0h1m2 0h1m7 0h1m2 0h1m4 0h1m2 0h1m4 0h1m4 0h1m1 0h1m2 0h2m1 0h1m1 0h2m1 0h1m5 0h2m28 0h1m3 0h1m7 0h2m1 0h1m4 0h1m20 0h1m2 0h2m3 0h2m6 0h1m8 0h1m8 0h1m33 0h1m3 0h1m2 0h1m7 0h1m7 0h1m3 0h1m8 0h1m6 0h1m6 0h1m15 0h5m14 0h1m3 0h2M2 48.5h1m14 0h1m7 0h1m1 0h2m7 0h2m2 0h1m2 0h1m2 0h1m1 0h1m12 0h1m3 0h1m16 0h1m10 0h1m2 0h1m8 0h1m3 0h1m11 0h1m1 0h1m2 0h2m1 0h1m10 0h2m5 0h1m10 0h1m29 0h1m14 0h2m3 0h1m2 0h1m18 0h1m7 0h2m16 0h2m11 0h1m8 0h1m4 0h1m5 0h2m3 0h1m6 0h2m3 0h2m2 0h1m10 0h1m8 0h1m6 0h1m5 0h2m9 0h1m9 0h1m13 0h1m17 0h1m6 0h1m2 0h1m34 0h2m10 0h1m6 0h1M1 49.5h1m12 0h1m9 0h1m6 0h1m3 0h1m2 0h1m3 0h1m9 0h1m3 0h2m1 0h1m24 0h1m8 0h1m12 0h1m8 0h2m11 0h1m19 0h1m1 0h1m12 0h1m14 0h1m1 0h1m7 0h1m22 0h1m24 0h1m2 0h1m9 0h1m6 0h1m15 0h1m9 0h1m2 0h2m6 0h1m10 0h1m6 0h1m14 0h1m1 0h1m17 0h1m2 0h1m1 0h1m5 0h1m3 0h1m5 0h3m4 0h1m5 0h1m7 0h2m2 0h1m8 0h1m20 0h1m20 0h1m11 0h2m2 0h1M12 50.5h1m2 0h1m3 0h1m1 0h1m8 0h1m9 0h1m4 0h1m14 0h1m4 0h1m1 0h1m10 0h1m3 0h1m8 0h2m9 0h1m9 0h1m8 0h1m8 0h1m5 0h1m2 0h1m1 0h1m8 0h1m4 0h1m7 0h1m3 0h1m10 0h1m9 0h2m5 0h2m3 0h2m2 0h1m1 0h1m11 0h1m9 0h1m15 0h1m11 0h1m15 0h1m2 0h1m4 0h1m3 0h1m1 0h1m3 0h1m10 0h1m9 0h1m21 0h1m16 0h1m13 0h1m2 0h1m19 0h1m3 0h1m1 0h1m4 0h2m3 0h1m12 0h1m15 0h1m9 0h1m1 0h1m3 0h1m2 0h1M0 51.5h2m4 0h1m5 0h1m9 0h1m3 0h1m4 0h1m2 0h1m12 0h1m2 0h1m1 0h1m10 0h1m8 0h1m17 0h1m1 0h1m2 0h1m3 0h1m7 0h1m8 0h1m7 0h1m14 0h1m3 0h1m3 0h1m5 0h1m2 0h1m1 0h1m2 0h1m2 0h2m17 0h1m1 0h1m9 0h1m11 0h1m17 0h1m18 0h1m25 0h1m20 0h1m11 0h2m4 0h1m18 0h1m3 0h1m1 0h2m12 0h1m3 0h1m5 0h1m6 0h1m2 0h1m6 0h1m15 0h1m5 0h3m5 0h1m3 0h1m10 0h1m11 0h1m11 0h1m3 0h2m4 0h1m6 0h1m5 0h1M0 52.5h1m3 0h1m2 0h1m8 0h1m18 0h1m11 0h1m2 0h2m34 0h1m24 0h1m5 0h1m5 0h1m3 0h1m5 0h1m27 0h1m1 0h1m10 0h1m3 0h1m4 0h1m21 0h1m2 0h1m21 0h1m6 0h3m17 0h1m9 0h1m1 0h1m5 0h1m4 0h1m36 0h1m6 0h1m4 0h1m6 0h2m2 0h1m1 0h1m9 0h1m1 0h1m12 0h1m5 0h1m7 0h1m7 0h1m3 0h1m3 0h1m3 0h1m1 0h1m44 0h2M4 53.5h1m17 0h1m1 0h1m10 0h1m3 0h1m3 0h1m7 0h1m9 0h1m36 0h2m17 0h1m6 0h1m1 0h1m4 0h1m1 0h1m7 0h1m2 0h1m9 0h1m1 0h1m17 0h1m6 0h1m1 0h1m27 0h1m2 0h1m12 0h1m1 0h1m3 0h1m5 0h1m4 0h1m3 0h1m23 0h1m9 0h2m2 0h1m9 0h1m8 0h1m9 0h1m2 0h1m5 0h1m6 0h1m13 0h1m6 0h1m4 0h1m8 0h1m2 0h1m3 0h2m14 0h1m6 0h1m4 0h1m5 0h1m1 0h1m6 0h1m6 0h1m8 0h1m28 0h2M0 54.5h1m5 0h1m7 0h1m3 0h1m7 0h1m10 0h1m4 0h1m9 0h1m4 0h1m1 0h3m8 0h1m8 0h1m9 0h1m2 0h1m2 0h1m16 0h2m24 0h1m20 0h1m3 0h1m9 0h2m4 0h2m2 0h1m17 0h6m26 0h1m23 0h2m6 0h1m1 0h1m5 0h1m3 0h1m6 0h1m3 0h2m4 0h3m1 0h1m14 0h3m8 0h1m2 0h1m1 0h1m1 0h1m9 0h1m3 0h1m4 0h1m4 0h1m12 0h2m2 0h2m3 0h1m2 0h1m8 0h1m23 0h1m28 0h2m12 0h1m1 0h1m6 0h2m1 0h1M1 55.5h1m4 0h1m6 0h2m17 0h1m38 0h2m2 0h1m14 0h2m1 0h1m26 0h1m5 0h1m6 0h1m14 0h1m11 0h1m3 0h1m3 0h1m6 0h1m1 0h3m1 0h1m28 0h1m1 0h1m8 0h1m3 0h1m7 0h1m3 0h1m4 0h1m2 0h1m17 0h1m8 0h3m7 0h1m23 0h1m2 0h2m5 0h6m9 0h1m6 0h1m5 0h1m3 0h1m2 0h1m2 0h1m5 0h1m2 0h1m4 0h1m4 0h2m26 0h1m18 0h1m2 0h1m3 0h1m3 0h2m19 0h1m1 0h3M2 56.5h1m1 0h1m10 0h1m2 0h1m1 0h1m2 0h1m23 0h1m7 0h1m5 0h1m3 0h2m2 0h2m7 0h1m2 0h1m4 0h1m13 0h1m7 0h1m10 0h2m1 0h2m1 0h1m1 0h2m1 0h1m22 0h1m17 0h1m17 0h1m5 0h1m12 0h1m9 0h1m3 0h1m5 0h1m6 0h1m2 0h2m3 0h2m3 0h1m4 0h1m31 0h1m3 0h1m2 0h1m1 0h1m4 0h1m33 0h1m23 0h1m2 0h1m10 0h1m2 0h1m7 0h1m6 0h1m23 0h2m12 0h1m25 0h1m15 0h1M5 57.5h1m1 0h1m1 0h1m4 0h1m13 0h1m3 0h1m4 0h1m2 0h1m33 0h1m7 0h1m16 0h1m4 0h1m7 0h1m22 0h1m10 0h1m25 0h2m23 0h1m3 0h1m5 0h1m5 0h1m11 0h1m10 0h1m4 0h1m3 0h1m20 0h1m16 0h1m7 0h1m4 0h2m4 0h1m9 0h1m12 0h1m3 0h1m2 0h1m3 0h1m17 0h1m1 0h2m17 0h1m2 0h1m9 0h1m1 0h1m3 0h1m18 0h1m5 0h1m6 0h1m11 0h2m8 0h1m1 0h1m10 0h2m4 0h2M5 58.5h1m10 0h1m3 0h1m2 0h1m6 0h2m9 0h1m9 0h1m2 0h1m1 0h1m3 0h1m2 0h1m1 0h1m5 0h1m3 0h2m8 0h1m1 0h1m1 0h2m7 0h1m6 0h1m5 0h1m9 0h1m2 0h2m4 0h2m8 0h1m9 0h1m1 0h1m5 0h1m8 0h1m1 0h2m26 0h1m1 0h1m2 0h1m2 0h2m1 0h1m2 0h1m2 0h1m21 0h1m9 0h1m2 0h1m20 0h1m4 0h1m8 0h1m9 0h1m4 0h1m9 0h2m14 0h1m6 0h1m17 0h1m3 0h1m2 0h1m1 0h2m5 0h1m6 0h1m11 0h1m6 0h1m11 0h1m7 0h1m10 0h1m24 0h1m3 0h1m2 0h1m4 0h1m1 0h2m1 0h1M3 59.5h2m11 0h1m7 0h1m1 0h1m15 0h1m21 0h1m2 0h1m7 0h1m4 0h1m5 0h2m6 0h1m5 0h1m4 0h1m1 0h1m5 0h2m12 0h1m10 0h1m11 0h1m7 0h1m5 0h2m6 0h1m1 0h1m3 0h1m4 0h2m15 0h1m1 0h1m6 0h1m1 0h1m5 0h1m13 0h1m5 0h1m7 0h1m10 0h1m1 0h2m10 0h1m3 0h2m18 0h1m8 0h1m3 0h1m1 0h1m15 0h2m4 0h1m5 0h1m2 0h1m7 0h1m13 0h1m4 0h1m3 0h1m10 0h2m5 0h1m5 0h1m33 0h3m4 0h1m10 0h1m1 0h1m4 0h1m1 0h1m7 0h1m2 0h1m1 0h1M24 60.5h1m1 0h1m3 0h1m3 0h1m15 0h1m4 0h3m1 0h1m5 0h1m15 0h1m4 0h2m2 0h4m6 0h2m4 0h1m13 0h2m2 0h1m14 0h2m1 0h1m2 0h1m6 0h1m1 0h1m4 0h1m2 0h1m18 0h1m1 0h1m8 0h2m5 0h1m2 0h1m2 0h1m6 0h1m1 0h1m24 0h1m1 0h1m6 0h1m7 0h1m10 0h2m4 0h1m3 0h1m3 0h1m2 0h1m3 0h1m1 0h1m2 0h1m1 0h1m17 0h1m19 0h1m4 0h1m10 0h1m6 0h1m8 0h2m11 0h1m15 0h2m1 0h1m2 0h1m7 0h1m28 0h1m2 0h1m19 0h1m1 0h1"/>
<path stroke="rgb(219,29,34)" d="M11 0.5h1m17 0h1m9 0h1m69 0h1m115 0h1m89 0h1m28 0h1m22 0h1m24 0h1m10 0h1M44 1.5h1m210 0h3m11 0h1m60 0h2m104 0h3m17 0h1M50 2.5h1m160 0h1m48 0h1m36 0h1m64 0h2m81 0h1m23 0h1M115 3.5h1m28 0h1m52 0h1m203 0h1m44 0h2m15 0h1M71 4.5h1m21 0h1m6 0h1m4 0h1m165 0h2m36 0h3m3 0h2m65 0h1m75 0h2M79 5.5h1m2 0h1m14 0h2m2 0h2m7 0h1m56 0h1m16 0h1m88 0h1m59 0h1m106 0h1M6 6.5h1m106 0h1m6 0h1m160 0h2m21 0h2m22 0h1m11 0h1m20 0h2m13 0h2m63 0h2M26 7.5h2m97 0h1m78 0h5m122 0h2m91 0h1m4 0h1M140 8.5h1m19 0h1m28 0h1m2 0h2m18 0h1m42 0h2m78 0h1m87 0h1m29 0h1M74 9.5h2m79 0h1m94 0h3m15 0h1m39 0h1m65 0h1m26 0h1M2 10.5h1m4 0h1m47 0h2m33 0h1m34 0h2m122 0h1m58 0h1m4 0h2m5 0h1m47 0h1m4 0h2m17 0h1M0 11.5h1m1 0h1m4 0h2m8 0h1m1 0h1m3 0h1m105 0h2m16 0h2m125 0h2m36 0h1m53 0h1M0 12.5h2m10 0h1m6 0h1m2 0h1m2 0h1m2 0h2m4 0h1m2 0h2m3 0h2m9 0h1m91 0h1m90 0h1m21 0h1m35 0h1m31 0h1m17 0h1m83 0h1M21 13.5h1m2 0h2m2 0h2m1 0h2m1 0h1m2 0h1m5 0h6m2 0h1m3 0h1m9 0h1m12 0h1m97 0h1m8 0h1m186 0h2m1 0h1m76 0h1M36 14.5h1m13 0h1m11 0h2m2 0h5m5 0h4m2 0h1m2 0h2m2 0h1m154 0h1m47 0h1m29 0h1m14 0h1M17 15.5h2m3 0h1m12 0h2m39 0h1m1 0h1m4 0h1m3 0h1m3 0h1m8 0h1m1 0h1m4 0h3m30 0h1m16 0h1m86 0h1m17 0h1m38 0h1m52 0h1M15 16.5h1m9 0h1m32 0h1m42 0h1m5 0h1m3 0h1m3 0h1m3 0h1m7 0h1m3 0h1m1 0h1m3 0h2m33 0h3m118 0h2m63 0h1m104 0h2M8 17.5h1m5 0h4m6 0h1m3 0h5m2 0h2m2 0h1m2 0h1m3 0h1m2 0h6m4 0h2m7 0h1m1 0h4m5 0h3m1 0h1m1 0h1m3 0h1m3 0h1m5 0h3m22 0h1m3 0h4m2 0h2m1 0h1m1 0h1m2 0h3m4 0h1m2 0h2m1 0h1m3 0h2m17 0h2m26 0h1m76 0h2m35 0h2m54 0h1m9 0h1m23 0h2M5 18.5h5m3 0h2m17 0h1m6 0h3m15 0h1m1 0h5m1 0h1m1 0h2m1 0h1m9 0h1m2 0h1m1 0h1m2 0h4m3 0h1m3 0h1m3 0h3m1 0h1m9 0h4m1 0h1m7 0h3m1 0h1m5 0h2m5 0h1m1 0h1m2 0h3m3 0h1m9 0h1m1 0h1m18 0h4m2 0h1m2 0h5m1 0h1m1 0h1m6 0h1m12 0h1m1 0h1m1 0h1m15 0h1m12 0h2m164 0h1m36 0h1M51 19.5h2m16 0h1m62 0h3m1 0h1m16 0h1m1 0h3m1 0h5m6 0h2m5 0h1m4 0h1m1 0h1m4 0h2m8 0h2m3 0h1m2 0h1m2 0h1m6 0h2m3 0h1m5 0h2m2 0h1m4 0h5m7 0h2m2 0h5m1 0h1m1 0h7m5 0h1m1 0h1m1 0h1m4 0h2m1 0h1m1 0h1m2 0h1m1 0h1m13 0h2m7 0h2m2 0h2m3 0h1m1 0h1m20 0h2m11 0h1m6 0h1m23 0h1m2 0h1m22 0h2m2 0h1m2 0h1m4 0h1m1 0h2m10 0h2m3 0h1m1 0h1m4 0h4m3 0h3m2 0h1m1 0h1M47 20.5h1m50 0h1m5 0h1m34 0h1m17 0h1m41 0h1m8 0h8m5 0h3m1 0h2m1 0h1m1 0h1m3 0h2m3 0h2m3 0h1m5 0h2m18 0h1m2 0h2m2 0h1m1 0h1m36 0h3m9 0h1m3 0h1m39 0h3m6 0h3m7 0h3m7 0h2m1 0h1m9 0h1m1 0h1m3 0h5m1 0h3m2 0h4m5 0h1m8 0h4m1 0h1m3 0h1m3 0h1m4 0h1M0 21.5h1m72 0h3m37 0h1m18 0h1m110 0h1m4 0h1m7 0h1m4 0h2m4 0h4m1 0h2m2 0h2m2 0h5m2 0h3m2 0h1m2 0h4m3 0h1m4 0h1m2 0h1m3 0h2m1 0h3m2 0h1m1 0h1m1 0h3m5 0h6m3 0h2m1 0h1m2 0h1m2 0h2m4 0h1m2 0h1m5 0h1m8 0h1m2 0h2m1 0h8m14 0h1m2 0h1m2 0h2m22 0h2m28 0h1M78 22.5h1m75 0h2m42 0h1m70 0h1m8 0h1m15 0h1m4 0h2m3 0h2m5 0h1m2 0h3m3 0h4m2 0h6m4 0h1m20 0h1m3 0h4m5 0h1m1 0h1m6 0h1m1 0h1m2 0h4m6 0h1m5 0h4m1 0h2m3 0h1m1 0h2m6 0h2m2 0h1m2 0h1m2 0h1m4 0h1m7 0h1m5 0h2m8 0h1M33 23.5h1m80 0h2m103 0h1m109 0h1m10 0h1m1 0h1m15 0h4m10 0h1m1 0h2m1 0h3m3 0h1m2 0h7m2 0h4m1 0h1m6 0h2m6 0h1m7 0h3m8 0h1m12 0h2m7 0h2m5 0h1M11 24.5h1m55 0h2m75 0h1m4 0h1m92 0h1m10 0h1m48 0h2m80 0h3m34 0h2m13 0h1m3 0h2m8 0h2m8 0h1m6 0h1M14 25.5h1m169 0h1m3 0h2m6 0h1m7 0h1m11 0h1m1 0h1m20 0h2M4 26.5h1m34 0h1m33 0h2m30 0h1m16 0h2m2 0h1m33 0h1m93 0h1m2 0h1m124 0h1m61 0h1M1 27.5h1m7 0h1m1 0h1m16 0h1m6 0h1m15 0h1m95 0h1m81 0h1m68 0h1m17 0h1m33 0h1m42 0h1m49 0h1m9 0h1M29 28.5h2m7 0h1m5 0h3m4 0h2m10 0h2m1 0h1m8 0h2m1 0h1m4 0h1m15 0h2m15 0h1m4 0h1m11 0h2m2 0h1m22 0h2m3 0h2m14 0h1m108 0h1m45 0h1m24 0h2m41 0h1m50 0h1M0 29.5h3m2 0h3m4 0h3m4 0h2m18 0h2m3 0h4m34 0h1m14 0h2m20 0h2m23 0h3m4 0h1m3 0h2m5 0h1m5 0h2m5 0h1m3 0h3m10 0h1m56 0h1m28 0h1m8 0h2m81 0h1m49 0h2M35 30.5h1m19 0h3m3 0h3m2 0h2m8 0h1m3 0h1m6 0h1m4 0h1m3 0h1m1 0h3m9 0h5m5 0h6m3 0h3m3 0h2m3 0h4m1 0h3m12 0h1m2 0h1m6 0h1m9 0h2m32 0h6m1 0h2m2 0h1m7 0h1m2 0h1m9 0h2m150 0h1m38 0h2m7 0h1M39 31.5h1m4 0h1m22 0h1m13 0h1m1 0h2m2 0h1m1 0h2m1 0h2m2 0h2m3 0h3m3 0h3m15 0h1m41 0h2m6 0h2m9 0h3m9 0h1m5 0h2m28 0h2m13 0h4m2 0h1m4 0h2m2 0h5m8 0h3m4 0h2m1 0h1m3 0h2m7 0h1m9 0h2m1 0h1m1 0h3m6 0h1m10 0h1m124 0h1M11 32.5h2m24 0h1m29 0h1m28 0h3m7 0h1m2 0h1m2 0h2m5 0h1m5 0h3m4 0h2m2 0h2m63 0h1m21 0h1m2 0h2m8 0h1m4 0h2m10 0h1m1 0h1m3 0h1m1 0h1m2 0h1m9 0h2m6 0h3m4 0h1m6 0h1m12 0h1m24 0h2m6 0h1m2 0h2m4 0h2m2 0h1m2 0h1m1 0h3m3 0h2m6 0h3m18 0h1m1 0h1m1 0h2M88 33.5h2m25 0h3m3 0h2m6 0h1m1 0h1m2 0h1m2 0h1m3 0h1m8 0h1m1 0h3m5 0h2m3 0h1m7 0h1m24 0h1m12 0h2m61 0h1m3 0h1m13 0h1m5 0h1m11 0h1m1 0h5m7 0h1m8 0h5m2 0h3m5 0h2m33 0h1m13 0h1m2 0h1m5 0h1m1 0h3m1 0h2m9 0h1M40 34.5h1m23 0h2m12 0h1m58 0h1m8 0h4m9 0h2m5 0h1m3 0h2m17 0h1m97 0h1m47 0h2m3 0h1m6 0h1m17 0h1m1 0h1m4 0h2m2 0h1m1 0h1m6 0h3m2 0h2m2 0h1m7 0h1m49 0h2m10 0h5M81 35.5h2m21 0h2m56 0h3m2 0h2m19 0h2m16 0h1m2 0h2m7 0h1m3 0h2m8 0h2m26 0h1m5 0h1m15 0h1m15 0h2m9 0h3m2 0h2m7 0h1m2 0h1m7 0h2m4 0h1m4 0h2m7 0h1m42 0h5m17 0h1m12 0h1M2 36.5h1m48 0h1m5 0h1m43 0h1m9 0h1m54 0h1m10 0h1m4 0h1m1 0h1m6 0h2m6 0h2m12 0h1m7 0h1m36 0h2m2 0h2m8 0h2m5 0h1m17 0h2m3 0h2m3 0h2m1 0h2m21 0h1m11 0h3m2 0h1m1 0h1m4 0h1m2 0h1m5 0h1m1 0h5m3 0h3m2 0h5m4 0h1m2 0h3m8 0h3m5 0h1m6 0h1m4 0h1m2 0h2m4 0h3m1 0h3m1 0h1m3 0h1m5 0h6m1 0h1m2 0h2m2 0h1m1 0h1m1 0h1M171 37.5h1m26 0h1m9 0h1m2 0h6m4 0h2m2 0h1m2 0h1m3 0h1m5 0h6m2 0h1m1 0h1m3 0h1m3 0h5m3 0h3m15 0h1m1 0h5m4 0h2m2 0h1m1 0h4m1 0h3m4 0h1m2 0h1m1 0h1m2 0h1m2 0h2m4 0h1m5 0h1m34 0h4m26 0h1m24 0h1m15 0h2m11 0h1M208 38.5h2m84 0h1m29 0h1m22 0h1m46 0h1m14 0h1m18 0h1m16 0h1M88 39.5h1m8 0h1m27 0h1m53 0h2m18 0h1m9 0h1m81 0h1m123 0h1m27 0h2M13 40.5h1m16 0h1m47 0h1m34 0h2m86 0h2m53 0h1m19 0h1m63 0h1m14 0h1m48 0h1m26 0h2M98 41.5h2m26 0h1m69 0h1m10 0h1m44 0h1m88 0h2m28 0h1m61 0h1M50 42.5h2m58 0h2m23 0h1m99 0h1m2 0h1m101 0h1m109 0h1M23 43.5h1m88 0h1m47 0h1m45 0h1m25 0h1m31 0h1m3 0h1m41 0h1m25 0h1m48 0h2m45 0h1m4 0h1m20 0h2M138 44.5h1m60 0h1m109 0h1m141 0h2M22 45.5h1m49 0h2m103 0h1m36 0h1m3 0h2m48 0h2m55 0h1m58 0h2m76 0h1M73 46.5h1m40 0h1m25 0h1m30 0h1m24 0h1m52 0h2m8 0h1m35 0h1m31 0h1m71 0h1m11 0h1m23 0h1M30 47.5h1m111 0h3m59 0h2m83 0h2m63 0h1m74 0h1M57 48.5h1m84 0h2m7 0h1m194 0h2m20 0h1m42 0h1m39 0h1m13 0h1m2 0h1M18 49.5h1m54 0h1m121 0h1m7 0h1m37 0h1m67 0h1m84 0h2M88 50.5h2m61 0h1m145 0h1M41 51.5h1m92 0h1m89 0h1m113 0h1m95 0h1M84 52.5h1m41 0h1m118 0h1m6 0h1m111 0h1m93 0h1M137 53.5h1m14 0h2m5 0h1m16 0h1m32 0h1m40 0h1M107 54.5h1m63 0h2m16 0h2m90 0h2m3 0h1m49 0h2m79 0h1M20 55.5h1m2 0h1m34 0h1m236 0h1m16 0h1M9 56.5h1m128 0h1m5 0h1m32 0h2m28 0h1m101 0h1m112 0h1m22 0h1M52 57.5h1m90 0h2m38 0h1m34 0h1m154 0h1m7 0h1m42 0h1M25 58.5h2m100 0h1m34 0h1m15 0h3m39 0h1m36 0h1m4 0h1m79 0h1m103 0h1M6 59.5h1m124 0h2m38 0h1m43 0h1m12 0h2m21 0h1m76 0h1m44 0h1M43 60.5h1m1 0h1m69 0h1m235 0h2m1 0h1m5 0h1m60 0h1m10 0h1m1 0h2m29 0h1"/>
<path stroke="rgb(188,25,30)" d="M28 0.5h1m176 0h1M108 5.5h2M1 11.5h1m16 0h1M11 12.5h1m11 0h2m1 0h2M26 13.5h2m2 0h1m4 0h2m12 0h2m3 0h1m9 0h1M71 14.5h5M77 15.5h1m14 0h2M108 16.5h3m23 0h1M0 17.5h8m1 0h3m1 0h1m4 0h2m1 0h3m9 0h2m2 0h2m1 0h2m1 0h3m9 0h4m2 0h4m1 0h2m9 0h2m3 0h1m3 0h3m1 0h3m33 0h2m4 0h2m4 0h1m6 0h2m1 0h1m1 0h2m2 0h1M51 18.5h2m5 0h1m7 0h1m14 0h2m3 0h2m4 0h3m5 0h1m7 0h2m2 0h3m1 0h1m6 0h5m7 0h5m2 0h3m5 0h2m3 0h3m1 0h6m6 0h7m2 0h1m1 0h7m4 0h2m8 0h1m7 0h2m14 0h1m1 0h1M135 19.5h1m18 0h1m26 0h1m3 0h4m2 0h3m1 0h2m1 0h1m2 0h1m6 0h2m1 0h6m4 0h1m1 0h1m3 0h1m2 0h2m1 0h2m1 0h1m5 0h6m3 0h2m7 0h1m15 0h1m9 0h1m105 0h2m28 0h2m4 0h1m20 0h1m1 0h2m1 0h1m4 0h2m7 0h1M224 20.5h1m4 0h1m11 0h3m1 0h3m1 0h1m2 0h15m2 0h1m1 0h2m2 0h2m3 0h1m1 0h5m3 0h5m3 0h3m2 0h2m2 0h6m2 0h1m3 0h2m1 0h3m2 0h1m1 0h3m1 0h1m2 0h2m3 0h4m8 0h5m2 0h3m5 0h4m3 0h1m2 0h1m5 0h2m1 0h1m6 0h7m2 0h1m2 0h2m2 0h4m1 0h1m3 0h1m5 0h1m9 0h3m7 0h1m9 0h3m8 0h1M244 21.5h2m11 0h2m12 0h1m6 0h2m13 0h2m5 0h1m4 0h1m5 0h3m2 0h1m3 0h2m3 0h1m3 0h5m13 0h2m10 0h2m1 0h5m10 0h2m29 0h2M306 22.5h3m3 0h2m10 0h2m11 0h3m2 0h3m1 0h3m1 0h7m8 0h5m3 0h3m2 0h1m1 0h1m7 0h1m1 0h4m3 0h3m11 0h1m2 0h6m5 0h2m1 0h2m1 0h1M384 23.5h2m7 0h2m6 0h6m2 0h1m3 0h2m1 0h7m3 0h2m2 0h4m1 0h4m4 0h4m2 0h7m2 0h1m1 0h3m2 0h3M458 24.5h2M215 25.5h1M3 27.5h1m6 0h1m217 0h1M18 28.5h1m6 0h4m2 0h2m4 0h1m1 0h1m1 0h3m33 0h1M3 29.5h2m3 0h4m3 0h1m2 0h1m2 0h2m3 0h2m3 0h1m6 0h1m2 0h3m4 0h1m1 0h1m3 0h1m8 0h1m17 0h1m1 0h3m3 0h5m2 0h1m5 0h2m3 0h2m5 0h5m2 0h3m4 0h16m3 0h2m3 0h3m2 0h5m1 0h2m5 0h5m1 0h3M72 30.5h1m1 0h2m1 0h3m1 0h6m1 0h1m1 0h1m2 0h3m1 0h1m3 0h1m3 0h5m5 0h3m10 0h1m3 0h3m2 0h3m4 0h1m3 0h6m1 0h3m1 0h1m1 0h2m1 0h6m1 0h2m3 0h4m2 0h7m3 0h1m5 0h5m7 0h4m6 0h1m13 0h2M91 31.5h1m2 0h2m2 0h1m1 0h1m105 0h1m1 0h9m1 0h3m3 0h5m4 0h1m2 0h4m2 0h4m2 0h1m4 0h2m1 0h1m2 0h1m2 0h2m5 0h2m4 0h2m11 0h3m7 0h2m14 0h1M114 32.5h1m2 0h2m1 0h3m1 0h1m3 0h1m2 0h1m92 0h2m11 0h2m15 0h1m5 0h1m4 0h9m2 0h1m2 0h3m3 0h1m4 0h2m2 0h2m1 0h1m2 0h1m3 0h3m1 0h1m1 0h1m3 0h2m2 0h3m1 0h12m2 0h3m1 0h2m14 0h2m11 0h5M127 33.5h2m6 0h2m1 0h1m1 0h1m1 0h1m1 0h6m5 0h2m133 0h2m19 0h1m26 0h2m3 0h5m2 0h1m3 0h2m1 0h5m3 0h4m7 0h2m1 0h2m1 0h1m3 0h7m1 0h3m1 0h2m1 0h5m24 0h3M144 34.5h2m4 0h1m1 0h1m2 0h4m2 0h5m211 0h1m2 0h1m1 0h1m5 0h2m2 0h2m1 0h2m2 0h1m3 0h7m12 0h1m2 0h8m8 0h3m2 0h1m2 0h1m4 0h2m1 0h7m5 0h1M165 35.5h2m2 0h10m3 0h6m2 0h2m233 0h7m1 0h1m6 0h1m6 0h3m3 0h7m1 0h2m2 0h2M124 36.5h1m55 0h2m3 0h1m1 0h2m4 0h6m2 0h2m3 0h3m2 0h2m1 0h1m2 0h1m2 0h1m1 0h1m3 0h4m1 0h7m2 0h8m4 0h6m2 0h2m2 0h8m2 0h1m3 0h1m1 0h1m8 0h4m3 0h1m2 0h1m4 0h1m1 0h1m2 0h1m2 0h1m4 0h2m2 0h3m2 0h1m2 0h2m3 0h1m4 0h3m2 0h1m3 0h2m4 0h1m3 0h2m1 0h3m10 0h2m3 0h2m5 0h1m4 0h2m3 0h2m15 0h1m6 0h4m18 0h3m12 0h1m5 0h2m3 0h1M226 37.5h2m1 0h1m17 0h1m5 0h3m5 0h3m19 0h1m14 0h1m4 0h1m8 0h2m3 0h2m13 0h2M403 40.5h1M438 48.5h1M197 53.5h1M353 60.5h1"/>
<path stroke="rgb(158,20,26)" d="M12 17.5h1m7 0h1m44 0h1m81 0h1M110 18.5h2m3 0h1m29 0h2m18 0h3m13 0h1M178 19.5h3m13 0h1m2 0h1m4 0h2m15 0h2m3 0h3m8 0h1m217 0h1M248 20.5h1m18 0h2m12 0h1m5 0h1m7 0h3m3 0h2m2 0h2m6 0h2m6 0h1m3 0h2m7 0h2m2 0h3m4 0h8m5 0h2m3 0h5m8 0h2m1 0h2m5 0h1m51 0h2m6 0h3M299 21.5h1m3 0h2m1 0h1M340 22.5h2m3 0h1m3 0h1m26 0h2m11 0h1M410 23.5h3m15 0h2m9 0h4m16 0h1m8 0h2M2 27.5h1M0 28.5h2m1 0h15m1 0h6m8 0h4m3 0h1M16 29.5h2m5 0h3m2 0h3m1 0h6m11 0h1m5 0h6m1 0h1m1 0h17m5 0h3m5 0h2m3 0h3m2 0h3m2 0h5m10 0h4M73 30.5h1m15 0h1m12 0h3m13 0h2m6 0h2m26 0h1m3 0h1m14 0h3m13 0h3m1 0h5m5 0h7M99 31.5h1m107 0h1m9 0h1m3 0h3m5 0h4m7 0h2m4 0h2m9 0h2M115 32.5h2m6 0h1m5 0h2m146 0h2m7 0h3m3 0h2m4 0h2m1 0h3m3 0h1m3 0h3m2 0h2m3 0h1m17 0h1M139 33.5h1m3 0h1m207 0h3m2 0h1m5 0h3m4 0h7m2 0h1m2 0h1m2 0h2m7 0h1M151 34.5h1m1 0h2m226 0h1m15 0h2m11 0h7m1 0h4m1 0h2m8 0h8m3 0h2m1 0h2m7 0h1M179 35.5h3m252 0h6m1 0h6m3 0h3m7 0h1m2 0h2m2 0h3M186 36.5h1m2 0h2m12 0h3m3 0h2m4 0h2m1 0h2m3 0h1m1 0h1m4 0h1m7 0h2m8 0h4m23 0h3m3 0h8m4 0h3m4 0h2m3 0h1m7 0h4m2 0h2m3 0h2m1 0h2m2 0h2m2 0h4m3 0h2m9 0h1M230 37.5h2"/>
<path stroke="rgb(128,16,22)" d="M288 20.5h2M2 28.5h1M61 29.5h1M417 34.5h1M224 36.5h1"/>
</g></g></g>
<path d="M808.0 44.0V480.0H1360.0" stroke="#5a2a20" stroke-width="0.8" fill="none"/>
<path d="M810.6 31.6l8.4 8.4m0 -8.4l-8.4 8.4" stroke="#2a2a2a" stroke-width="1" fill="none"/><text x="821.8" y="40.2" font-size="17.3">10</text><text x="841" y="30.9" font-size="13.2">4</text>
<text transform="translate(800.3 72.6) scale(1 1.100)" font-size="16.2" text-anchor="end">1.63</text>
<text transform="translate(800.3 141.6) scale(1 1.100)" font-size="16.2" text-anchor="end">1.62</text>
<text transform="translate(800.3 210.6) scale(1 1.100)" font-size="16.2" text-anchor="end">1.61</text>
<text transform="translate(800.3 279.6) scale(1 1.100)" font-size="16.2" text-anchor="end">1.6</text>
<text transform="translate(800.3 348.6) scale(1 1.100)" font-size="16.2" text-anchor="end">1.59</text>
<text transform="translate(800.3 417.6) scale(1 1.100)" font-size="16.2" text-anchor="end">1.58</text>
<text transform="translate(899.5 503.9) scale(1 1.100)" font-size="16.2" text-anchor="middle">5</text>
<text transform="translate(991.5 503.9) scale(1 1.100)" font-size="16.2" text-anchor="middle">10</text>
<text transform="translate(1083.8 503.9) scale(1 1.100)" font-size="16.2" text-anchor="middle">15</text>
<text transform="translate(1175.8 503.9) scale(1 1.100)" font-size="16.2" text-anchor="middle">20</text>
<text transform="translate(1268.2 503.9) scale(1 1.100)" font-size="16.2" text-anchor="middle">25</text>
<text x="1083.6" y="528.4" font-size="18.6" text-anchor="middle">Time</text>
<text transform="translate(758.2 261.5) rotate(-90)" font-size="18.6" text-anchor="middle">Frequency (Hz)</text>
</g>
<g id="pC">
<text class="b" transform="translate(372.1 671.8) scale(1 1.1)" font-size="28.6">C</text>
<path d="M634.0 693.4V1124.5M816.5 693.4V1124.5M451.5 779.6H999.0M451.5 865.8H999.0M451.5 952.1H999.0M451.5 1038.3H999.0" stroke="#e2e2e2" stroke-width="1" fill="none"/>
<clipPath id="cc"><rect x="451.5" y="693.4" width="548.5" height="431.1"/></clipPath>
<g clip-path="url(#cc)" fill="none" stroke-width="2.5">
<path d="M451.50 993.44C457.58 993.69 475.83 994.35 488.00 994.91C500.17 995.46 512.33 996.10 524.50 996.79C536.67 997.48 548.83 998.24 561.00 999.05C573.17 999.86 585.33 1000.74 597.50 1001.66C609.67 1002.59 621.83 1003.57 634.00 1004.59C646.17 1005.62 658.33 1006.70 670.50 1007.81C682.67 1008.93 694.83 1010.09 707.00 1011.28C719.17 1012.48 731.33 1013.71 743.50 1014.98C755.67 1016.24 767.83 1017.54 780.00 1018.86C792.17 1020.18 804.33 1021.53 816.50 1022.89C828.67 1024.26 840.83 1025.65 853.00 1027.06C865.17 1028.46 877.33 1029.88 889.50 1031.31C901.67 1032.74 913.83 1034.18 926.00 1035.62C938.17 1037.06 950.33 1038.51 962.50 1039.96C974.67 1041.40 992.92 1043.57 999.00 1044.29" stroke="#2b3d9e"/>
<path d="M451.50 786.00C457.58 786.24 475.83 786.90 488.00 787.46C500.17 788.02 512.33 788.65 524.50 789.34C536.67 790.03 548.83 790.79 561.00 791.60C573.17 792.42 585.33 793.29 597.50 794.22C609.67 795.14 621.83 796.12 634.00 797.15C646.17 798.17 658.33 799.25 670.50 800.37C682.67 801.48 694.83 802.64 707.00 803.84C719.17 805.03 731.33 806.27 743.50 807.53C755.67 808.79 767.83 810.09 780.00 811.41C792.17 812.73 804.33 814.08 816.50 815.45C828.67 816.82 840.83 818.21 853.00 819.61C865.17 821.01 877.33 822.44 889.50 823.86C901.67 825.29 913.83 826.73 926.00 828.17C938.17 829.62 950.33 831.07 962.50 832.51C974.67 833.96 992.92 836.12 999.00 836.84" stroke="#2b3d9e" stroke-dasharray="8.8 2.4 4 2.4"/>
<path d="M451.50 977.93C454.54 978.40 463.67 979.77 469.75 980.75C475.83 981.74 481.92 982.73 488.00 983.85C494.08 984.97 500.17 986.16 506.25 987.48C512.33 988.80 518.42 990.23 524.50 991.77C530.58 993.32 536.67 994.97 542.75 996.75C548.83 998.53 554.92 1000.43 561.00 1002.44C567.08 1004.44 573.17 1006.58 579.25 1008.78C585.33 1010.97 591.42 1013.27 597.50 1015.59C603.58 1017.91 609.67 1020.31 615.75 1022.70C621.83 1025.09 627.92 1027.53 634.00 1029.92C640.08 1032.30 646.17 1034.69 652.25 1037.01C658.33 1039.34 664.42 1041.62 670.50 1043.86C676.58 1046.10 682.67 1048.30 688.75 1050.44C694.83 1052.58 700.92 1054.71 707.00 1056.70C713.08 1058.70 719.17 1060.64 725.25 1062.42C731.33 1064.21 737.42 1065.87 743.50 1067.41C749.58 1068.95 755.67 1070.36 761.75 1071.67C767.83 1072.99 773.92 1074.20 780.00 1075.32C786.08 1076.43 792.17 1077.44 798.25 1078.36C804.33 1079.29 810.42 1080.11 816.50 1080.89C822.58 1081.67 828.67 1082.38 834.75 1083.06C840.83 1083.75 846.92 1084.39 853.00 1085.00C859.08 1085.61 865.17 1086.17 871.25 1086.69C877.33 1087.21 883.42 1087.68 889.50 1088.12C895.58 1088.55 901.67 1088.94 907.75 1089.31C913.83 1089.68 919.92 1090.03 926.00 1090.35C932.08 1090.68 938.17 1090.99 944.25 1091.27C950.33 1091.55 956.42 1091.81 962.50 1092.05C968.58 1092.30 974.67 1092.51 980.75 1092.71C986.83 1092.92 995.96 1093.19 999.00 1093.29" stroke="#e3202b"/>
<path d="M451.50 708.40C454.54 708.87 463.67 710.24 469.75 711.23C475.83 712.22 481.92 713.20 488.00 714.33C494.08 715.45 500.17 716.64 506.25 717.96C512.33 719.28 518.42 720.71 524.50 722.25C530.58 723.79 536.67 725.45 542.75 727.23C548.83 729.00 554.92 730.91 561.00 732.91C567.08 734.92 573.17 737.06 579.25 739.25C585.33 741.44 591.42 743.75 597.50 746.07C603.58 748.39 609.67 750.79 615.75 753.18C621.83 755.56 627.92 758.01 634.00 760.39C640.08 762.78 646.17 765.17 652.25 767.49C658.33 769.82 664.42 772.10 670.50 774.34C676.58 776.58 682.67 778.78 688.75 780.92C694.83 783.06 700.92 785.18 707.00 787.18C713.08 789.18 719.17 791.12 725.25 792.90C731.33 794.68 737.42 796.34 743.50 797.88C749.58 799.43 755.67 800.83 761.75 802.15C767.83 803.47 773.92 804.68 780.00 805.79C786.08 806.91 792.17 807.91 798.25 808.84C804.33 809.77 810.42 810.58 816.50 811.36C822.58 812.15 828.67 812.85 834.75 813.54C840.83 814.22 846.92 814.87 853.00 815.48C859.08 816.08 865.17 816.65 871.25 817.17C877.33 817.69 883.42 818.16 889.50 818.59C895.58 819.03 901.67 819.42 907.75 819.79C913.83 820.16 919.92 820.50 926.00 820.83C932.08 821.16 938.17 821.46 944.25 821.75C950.33 822.03 956.42 822.29 962.50 822.53C968.58 822.77 974.67 822.98 980.75 823.19C986.83 823.40 995.96 823.67 999.00 823.76" stroke="#e3202b" stroke-dasharray="8.8 2.4 4 2.4"/>
</g>
<rect x="451.5" y="693.4" width="547.5" height="431.1" fill="none" stroke="#2e2e2e" stroke-width="1"/>
<path d="M451.5 1124.5v-5M451.5 693.4v5M634.0 1124.5v-5M634.0 693.4v5M816.5 1124.5v-5M816.5 693.4v5M999.0 1124.5v-5M999.0 693.4v5M451.5 693.4h5M999.0 693.4h-5M451.5 779.6h5M999.0 779.6h-5M451.5 865.8h5M999.0 865.8h-5M451.5 952.1h5M999.0 952.1h-5M451.5 1038.3h5M999.0 1038.3h-5M451.5 1124.5h5M999.0 1124.5h-5" stroke="#2e2e2e" stroke-width="1" fill="none"/>
<text transform="translate(442.9 699.9) scale(1 1.100)" font-size="16.2" text-anchor="end">1.62</text>
<text transform="translate(442.9 786.1) scale(1 1.100)" font-size="16.2" text-anchor="end">1.615</text>
<text transform="translate(442.9 872.3) scale(1 1.100)" font-size="16.2" text-anchor="end">1.61</text>
<text transform="translate(442.9 958.6) scale(1 1.100)" font-size="16.2" text-anchor="end">1.605</text>
<text transform="translate(442.9 1044.8) scale(1 1.100)" font-size="16.2" text-anchor="end">1.6</text>
<text transform="translate(442.9 1131.0) scale(1 1.100)" font-size="16.2" text-anchor="end">1.595</text>
<text transform="translate(451.5 1148.4) scale(1 1.100)" font-size="16.2" text-anchor="middle">0</text>
<text transform="translate(634.0 1148.4) scale(1 1.100)" font-size="16.2" text-anchor="middle">5</text>
<text transform="translate(816.5 1148.4) scale(1 1.100)" font-size="16.2" text-anchor="middle">10</text>
<text transform="translate(999.0 1148.4) scale(1 1.100)" font-size="16.2" text-anchor="middle">15</text>
<path d="M453.8 680.6l8.3 8.3m0 -8.3l-8.3 8.3" stroke="#2a2a2a" stroke-width="1" fill="none"/><text x="465" y="688.9" font-size="17.3">10</text><text x="483.6" y="681.9" font-size="13.2">4</text>
<text class="se" x="725" y="1179" font-size="26" text-anchor="middle">Time (s)</text>
<text class="se" transform="translate(387.5 906.2) rotate(-90)" font-size="26" text-anchor="middle" textLength="238" lengthAdjust="spacingAndGlyphs">Doppler Frequence <tspan font-style="italic">f</tspan><tspan font-style="italic" font-size="18" dy="5">d</tspan></text>
<rect x="840.2" y="706.4" width="145.3" height="82.9" fill="#fff" stroke="#2e2e2e" stroke-width="1"/>
<path d="M845.6 718.7H896" stroke="#2b3d9e" stroke-width="2.5"/>
<text x="900" y="723.5" font-size="15">fpwm USV1</text>
<path d="M845.6 738.2H896" stroke="#2b3d9e" stroke-width="2.5" stroke-dasharray="8.8 2.4 4 2.4"/>
<text x="900" y="743.0" font-size="15">fp USV1</text>
<path d="M845.6 757.7H896" stroke="#e3202b" stroke-width="2.5"/>
<text x="900" y="762.5" font-size="15">fpwm USV2</text>
<path d="M845.6 777.2H896" stroke="#e3202b" stroke-width="2.5" stroke-dasharray="8.8 2.4 4 2.4"/>
<text x="900" y="782.0" font-size="15">fp USV2</text>
</g>
</svg></body></html>
